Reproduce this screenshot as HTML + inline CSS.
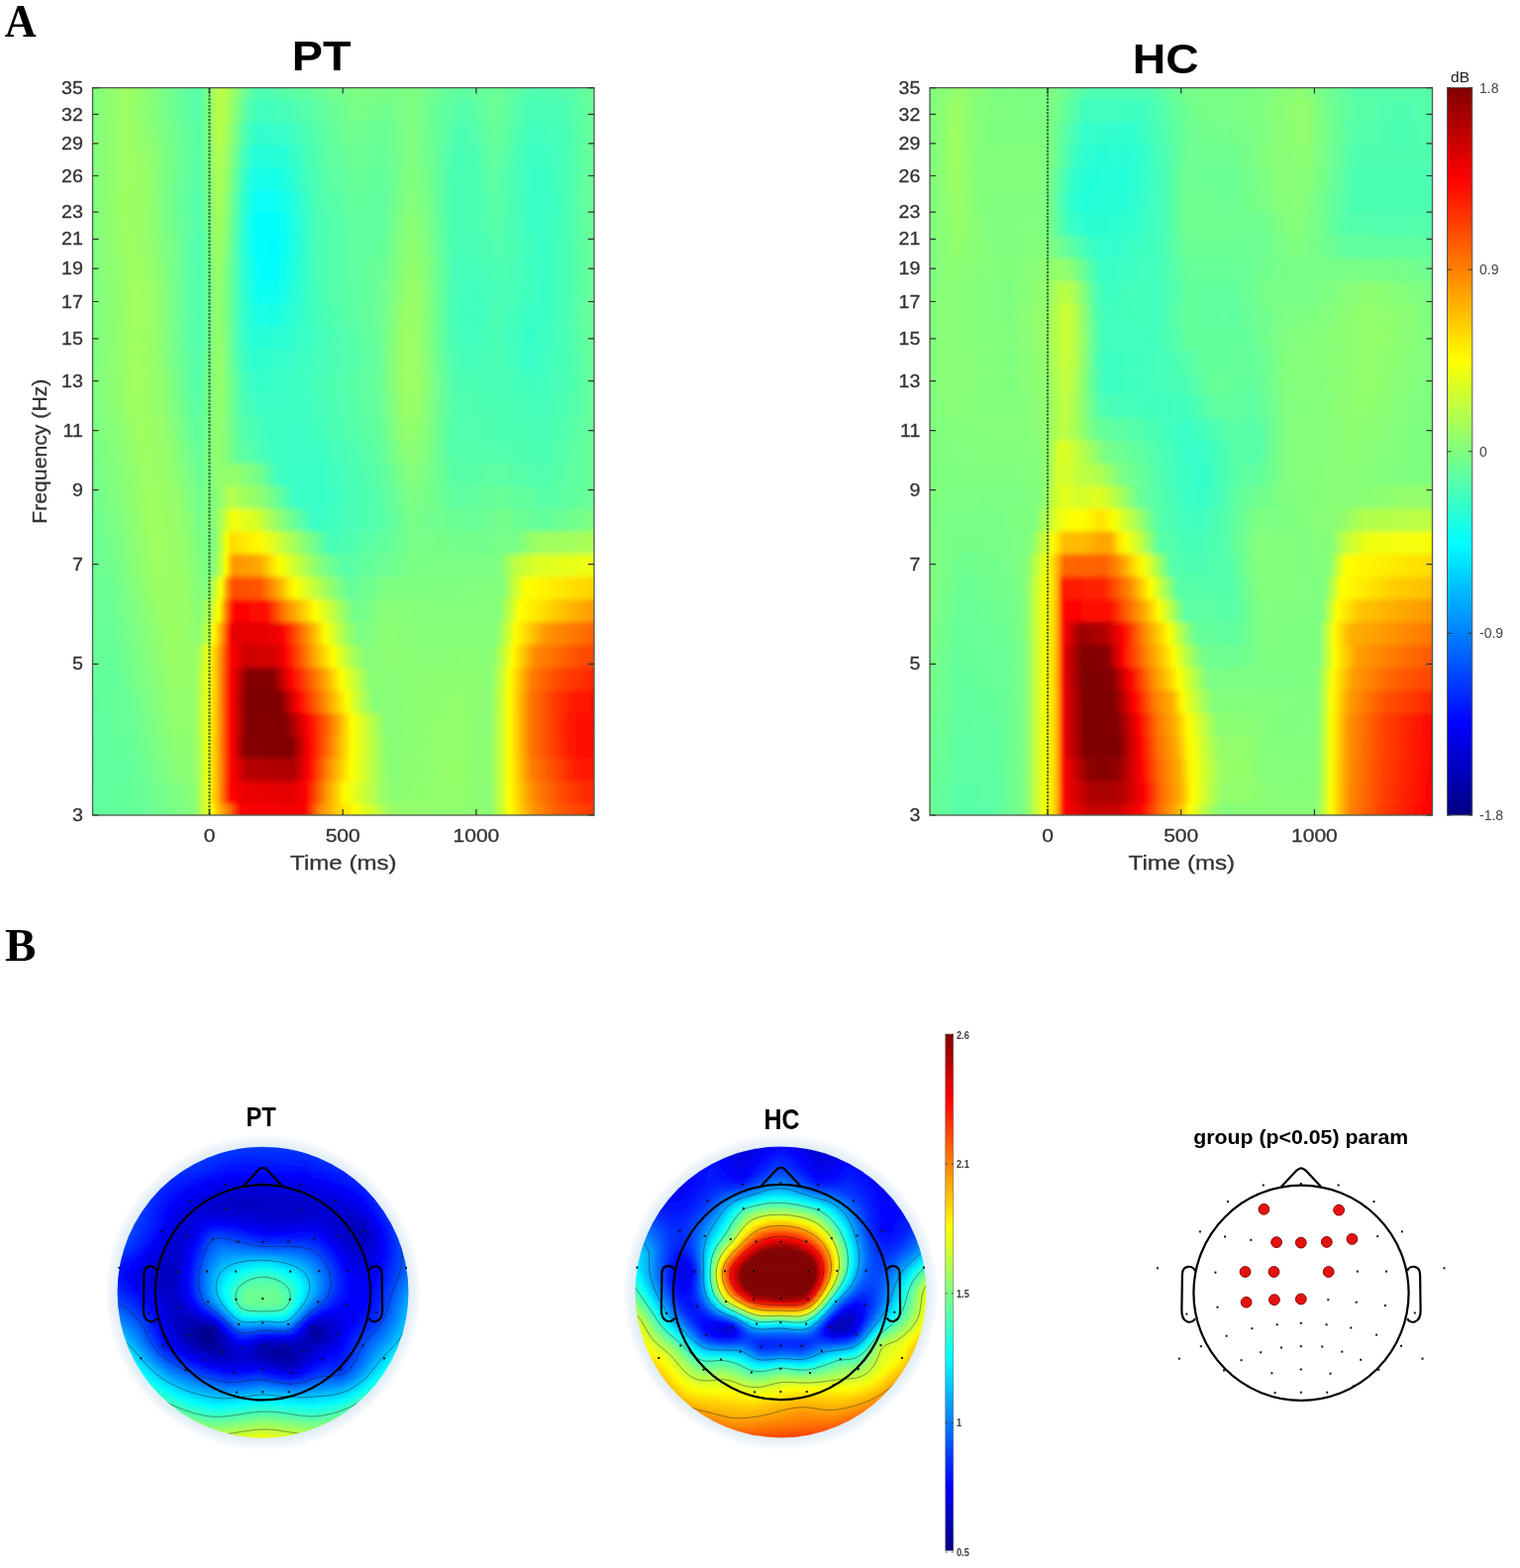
<!DOCTYPE html><html><head><meta charset="utf-8"><title>Figure</title><style>html,body{margin:0;padding:0;background:#fff}svg{display:block}</style></head><body><svg width="1535" height="1583" viewBox="0 0 1535 1583"><defs><filter id="vb" x="-2%" y="-2%" width="104%" height="104%"><feGaussianBlur stdDeviation="0.8 2.8"/></filter><filter id="tb" x="-2%" y="-2%" width="104%" height="104%"><feGaussianBlur stdDeviation="0.4 1.3"/></filter><clipPath id="c1"><rect x="93.5" y="88.6" width="506.5" height="734.4"/></clipPath><linearGradient id="g2" gradientUnits="userSpaceOnUse" x1="93.5" y1="0" x2="600" y2="0"><stop offset=".000" stop-color="#61ff9e"/><stop offset=".091" stop-color="#65ff9a"/><stop offset=".203" stop-color="#83ff7c"/><stop offset=".231" stop-color="#e8ff17"/><stop offset=".237" stop-color="#fffe00"/><stop offset=".257" stop-color="#ffaa00"/><stop offset=".272" stop-color="#ff7a00"/><stop offset=".296" stop-color="#ff0000"/><stop offset=".304" stop-color="#fa0000"/><stop offset=".421" stop-color="#fa0000"/><stop offset=".423" stop-color="#fe0000"/><stop offset=".450" stop-color="#ff8200"/><stop offset=".490" stop-color="#ffd200"/><stop offset=".523" stop-color="#fdff02"/><stop offset=".600" stop-color="#95ff6a"/><stop offset=".732" stop-color="#90ff6f"/><stop offset=".792" stop-color="#89ff76"/><stop offset=".819" stop-color="#d2ff2d"/><stop offset=".831" stop-color="#feff01"/><stop offset=".881" stop-color="#ff9000"/><stop offset=".930" stop-color="#ff5b00"/><stop offset=".993" stop-color="#ff3a00"/><stop offset=".999" stop-color="#ff3800"/></linearGradient><linearGradient id="g3" gradientUnits="userSpaceOnUse" x1="93.5" y1="0" x2="600" y2="0"><stop offset=".000" stop-color="#5effa1"/><stop offset=".089" stop-color="#65ff9a"/><stop offset=".186" stop-color="#84ff7b"/><stop offset=".203" stop-color="#89ff76"/><stop offset=".223" stop-color="#d0ff2f"/><stop offset=".233" stop-color="#fffd00"/><stop offset=".249" stop-color="#ffb300"/><stop offset=".276" stop-color="#ff0600"/><stop offset=".282" stop-color="#fb0000"/><stop offset=".312" stop-color="#ea0000"/><stop offset=".399" stop-color="#e40000"/><stop offset=".423" stop-color="#fd0000"/><stop offset=".464" stop-color="#ff8f00"/><stop offset=".503" stop-color="#fffd00"/><stop offset=".573" stop-color="#a1ff5e"/><stop offset=".594" stop-color="#8dff72"/><stop offset=".725" stop-color="#95ff6a"/><stop offset=".780" stop-color="#89ff76"/><stop offset=".794" stop-color="#8eff71"/><stop offset=".819" stop-color="#d5ff2a"/><stop offset=".831" stop-color="#fffe00"/><stop offset=".879" stop-color="#ff8800"/><stop offset=".934" stop-color="#ff4c00"/><stop offset=".973" stop-color="#ff2e00"/><stop offset=".999" stop-color="#ff2600"/></linearGradient><linearGradient id="g4" gradientUnits="userSpaceOnUse" x1="93.5" y1="0" x2="600" y2="0"><stop offset=".000" stop-color="#5cffa3"/><stop offset=".087" stop-color="#65ff9a"/><stop offset=".168" stop-color="#88ff77"/><stop offset=".203" stop-color="#8dff72"/><stop offset=".223" stop-color="#d3ff2c"/><stop offset=".231" stop-color="#faff05"/><stop offset=".243" stop-color="#ffd100"/><stop offset=".259" stop-color="#ff7800"/><stop offset=".276" stop-color="#ff0600"/><stop offset=".282" stop-color="#f30000"/><stop offset=".308" stop-color="#b80000"/><stop offset=".401" stop-color="#ae0000"/><stop offset=".430" stop-color="#ff0200"/><stop offset=".468" stop-color="#ff8600"/><stop offset=".515" stop-color="#feff01"/><stop offset=".584" stop-color="#91ff6e"/><stop offset=".596" stop-color="#89ff76"/><stop offset=".723" stop-color="#97ff68"/><stop offset=".776" stop-color="#89ff76"/><stop offset=".794" stop-color="#8fff70"/><stop offset=".821" stop-color="#ddff22"/><stop offset=".831" stop-color="#fffd00"/><stop offset=".875" stop-color="#ff8000"/><stop offset=".962" stop-color="#ff1e00"/><stop offset=".999" stop-color="#ff1200"/></linearGradient><linearGradient id="g5" gradientUnits="userSpaceOnUse" x1="93.5" y1="0" x2="600" y2="0"><stop offset=".000" stop-color="#5cffa3"/><stop offset=".085" stop-color="#67ff98"/><stop offset=".164" stop-color="#8cff73"/><stop offset=".203" stop-color="#90ff6f"/><stop offset=".223" stop-color="#d5ff2a"/><stop offset=".231" stop-color="#fbff04"/><stop offset=".247" stop-color="#ffbf00"/><stop offset=".276" stop-color="#ff0600"/><stop offset=".282" stop-color="#e80000"/><stop offset=".304" stop-color="#880000"/><stop offset=".338" stop-color="#840000"/><stop offset=".395" stop-color="#800000"/><stop offset=".432" stop-color="#ff0000"/><stop offset=".500" stop-color="#ffcc00"/><stop offset=".517" stop-color="#fffe00"/><stop offset=".567" stop-color="#a9ff56"/><stop offset=".592" stop-color="#87ff78"/><stop offset=".689" stop-color="#94ff6b"/><stop offset=".729" stop-color="#95ff6a"/><stop offset=".778" stop-color="#8aff75"/><stop offset=".794" stop-color="#8fff70"/><stop offset=".821" stop-color="#ddff22"/><stop offset=".831" stop-color="#fffd00"/><stop offset=".875" stop-color="#ff7500"/><stop offset=".956" stop-color="#ff1400"/><stop offset=".999" stop-color="#ff0700"/></linearGradient><linearGradient id="g6" gradientUnits="userSpaceOnUse" x1="93.5" y1="0" x2="600" y2="0"><stop offset=".000" stop-color="#5effa1"/><stop offset=".081" stop-color="#69ff96"/><stop offset=".162" stop-color="#91ff6e"/><stop offset=".203" stop-color="#92ff6d"/><stop offset=".223" stop-color="#d6ff29"/><stop offset=".231" stop-color="#fbff04"/><stop offset=".247" stop-color="#ffc000"/><stop offset=".276" stop-color="#ff0600"/><stop offset=".282" stop-color="#ea0000"/><stop offset=".308" stop-color="#830000"/><stop offset=".383" stop-color="#800000"/><stop offset=".430" stop-color="#ff0100"/><stop offset=".482" stop-color="#ff8b00"/><stop offset=".517" stop-color="#ffff00"/><stop offset=".569" stop-color="#a1ff5e"/><stop offset=".586" stop-color="#87ff78"/><stop offset=".685" stop-color="#91ff6e"/><stop offset=".727" stop-color="#95ff6a"/><stop offset=".782" stop-color="#8aff75"/><stop offset=".794" stop-color="#8eff71"/><stop offset=".819" stop-color="#d5ff2a"/><stop offset=".831" stop-color="#fffd00"/><stop offset=".875" stop-color="#ff7500"/><stop offset=".954" stop-color="#ff1500"/><stop offset=".999" stop-color="#ff0600"/></linearGradient><linearGradient id="g7" gradientUnits="userSpaceOnUse" x1="93.5" y1="0" x2="600" y2="0"><stop offset=".000" stop-color="#60ff9f"/><stop offset=".069" stop-color="#68ff97"/><stop offset=".162" stop-color="#95ff6a"/><stop offset=".203" stop-color="#93ff6c"/><stop offset=".223" stop-color="#d5ff2a"/><stop offset=".233" stop-color="#fffb00"/><stop offset=".247" stop-color="#ffc100"/><stop offset=".276" stop-color="#ff0600"/><stop offset=".280" stop-color="#f20000"/><stop offset=".308" stop-color="#800000"/><stop offset=".375" stop-color="#820000"/><stop offset=".409" stop-color="#ff0100"/><stop offset=".507" stop-color="#fcff03"/><stop offset=".535" stop-color="#b5ff4a"/><stop offset=".563" stop-color="#86ff79"/><stop offset=".683" stop-color="#8fff70"/><stop offset=".731" stop-color="#92ff6d"/><stop offset=".790" stop-color="#8aff75"/><stop offset=".798" stop-color="#97ff68"/><stop offset=".819" stop-color="#d3ff2c"/><stop offset=".831" stop-color="#ffff00"/><stop offset=".875" stop-color="#ff7400"/><stop offset=".922" stop-color="#ff3900"/><stop offset=".963" stop-color="#ff1800"/><stop offset=".999" stop-color="#ff1000"/></linearGradient><linearGradient id="g8" gradientUnits="userSpaceOnUse" x1="93.5" y1="0" x2="600" y2="0"><stop offset=".000" stop-color="#63ff9c"/><stop offset=".051" stop-color="#66ff99"/><stop offset=".162" stop-color="#98ff67"/><stop offset=".203" stop-color="#94ff6b"/><stop offset=".223" stop-color="#d4ff2b"/><stop offset=".233" stop-color="#fffc00"/><stop offset=".247" stop-color="#ffc200"/><stop offset=".276" stop-color="#ff0600"/><stop offset=".280" stop-color="#f30000"/><stop offset=".310" stop-color="#820000"/><stop offset=".359" stop-color="#830000"/><stop offset=".395" stop-color="#ff0000"/><stop offset=".462" stop-color="#ffa100"/><stop offset=".496" stop-color="#ffff00"/><stop offset=".541" stop-color="#a1ff5e"/><stop offset=".557" stop-color="#87ff78"/><stop offset=".616" stop-color="#8aff75"/><stop offset=".685" stop-color="#8dff72"/><stop offset=".738" stop-color="#8eff71"/><stop offset=".794" stop-color="#8bff74"/><stop offset=".819" stop-color="#d1ff2e"/><stop offset=".831" stop-color="#fdff02"/><stop offset=".875" stop-color="#ff7f00"/><stop offset=".928" stop-color="#ff4800"/><stop offset=".999" stop-color="#ff2400"/></linearGradient><linearGradient id="g9" gradientUnits="userSpaceOnUse" x1="93.5" y1="0" x2="600" y2="0"><stop offset=".000" stop-color="#65ff9a"/><stop offset=".041" stop-color="#65ff9a"/><stop offset=".158" stop-color="#9aff65"/><stop offset=".203" stop-color="#93ff6c"/><stop offset=".221" stop-color="#c9ff36"/><stop offset=".233" stop-color="#fffe00"/><stop offset=".249" stop-color="#ffb700"/><stop offset=".276" stop-color="#ff0700"/><stop offset=".280" stop-color="#fa0000"/><stop offset=".306" stop-color="#ce0000"/><stop offset=".365" stop-color="#d70000"/><stop offset=".385" stop-color="#ff0200"/><stop offset=".440" stop-color="#ffa200"/><stop offset=".480" stop-color="#feff01"/><stop offset=".515" stop-color="#aeff51"/><stop offset=".547" stop-color="#84ff7b"/><stop offset=".594" stop-color="#8dff72"/><stop offset=".671" stop-color="#88ff77"/><stop offset=".744" stop-color="#8bff74"/><stop offset=".798" stop-color="#88ff77"/><stop offset=".823" stop-color="#ceff31"/><stop offset=".837" stop-color="#fffb00"/><stop offset=".883" stop-color="#ff8900"/><stop offset=".963" stop-color="#ff5100"/><stop offset=".999" stop-color="#ff4300"/></linearGradient><linearGradient id="g10" gradientUnits="userSpaceOnUse" x1="93.5" y1="0" x2="600" y2="0"><stop offset=".000" stop-color="#68ff97"/><stop offset=".036" stop-color="#66ff99"/><stop offset=".154" stop-color="#9cff63"/><stop offset=".195" stop-color="#93ff6c"/><stop offset=".211" stop-color="#8dff72"/><stop offset=".231" stop-color="#c3ff3c"/><stop offset=".241" stop-color="#f8ff07"/><stop offset=".245" stop-color="#ffed00"/><stop offset=".263" stop-color="#ff7900"/><stop offset=".276" stop-color="#ff0000"/><stop offset=".278" stop-color="#ee0000"/><stop offset=".280" stop-color="#e50000"/><stop offset=".342" stop-color="#e60000"/><stop offset=".373" stop-color="#f30000"/><stop offset=".379" stop-color="#ff0500"/><stop offset=".438" stop-color="#ffad00"/><stop offset=".464" stop-color="#fcff03"/><stop offset=".503" stop-color="#a3ff5c"/><stop offset=".531" stop-color="#79ff86"/><stop offset=".586" stop-color="#8cff73"/><stop offset=".667" stop-color="#85ff7a"/><stop offset=".778" stop-color="#85ff7a"/><stop offset=".804" stop-color="#86ff79"/><stop offset=".829" stop-color="#ccff33"/><stop offset=".843" stop-color="#fffd00"/><stop offset=".904" stop-color="#ff9400"/><stop offset=".999" stop-color="#ff6400"/></linearGradient><linearGradient id="g11" gradientUnits="userSpaceOnUse" x1="93.5" y1="0" x2="600" y2="0"><stop offset=".000" stop-color="#6aff95"/><stop offset=".034" stop-color="#68ff97"/><stop offset=".142" stop-color="#9cff63"/><stop offset=".186" stop-color="#98ff67"/><stop offset=".217" stop-color="#87ff78"/><stop offset=".247" stop-color="#ecff13"/><stop offset=".251" stop-color="#faff05"/><stop offset=".253" stop-color="#fff700"/><stop offset=".269" stop-color="#ff6900"/><stop offset=".280" stop-color="#ff0d00"/><stop offset=".284" stop-color="#ff0400"/><stop offset=".340" stop-color="#ff0900"/><stop offset=".346" stop-color="#ff0e00"/><stop offset=".383" stop-color="#ff8000"/><stop offset=".444" stop-color="#feff01"/><stop offset=".523" stop-color="#70ff8f"/><stop offset=".586" stop-color="#88ff77"/><stop offset=".693" stop-color="#83ff7c"/><stop offset=".809" stop-color="#83ff7c"/><stop offset=".837" stop-color="#cfff30"/><stop offset=".851" stop-color="#feff01"/><stop offset=".962" stop-color="#ffb000"/><stop offset=".999" stop-color="#ff9b00"/></linearGradient><linearGradient id="g12" gradientUnits="userSpaceOnUse" x1="93.5" y1="0" x2="600" y2="0"><stop offset=".000" stop-color="#6bff94"/><stop offset=".036" stop-color="#6cff93"/><stop offset=".128" stop-color="#9bff64"/><stop offset=".178" stop-color="#9aff65"/><stop offset=".225" stop-color="#7eff81"/><stop offset=".245" stop-color="#caff35"/><stop offset=".257" stop-color="#ffff00"/><stop offset=".272" stop-color="#ff7a00"/><stop offset=".280" stop-color="#ff5200"/><stop offset=".288" stop-color="#ff4d00"/><stop offset=".334" stop-color="#ff5600"/><stop offset=".373" stop-color="#ffb100"/><stop offset=".395" stop-color="#ffef00"/><stop offset=".407" stop-color="#faff05"/><stop offset=".466" stop-color="#9eff61"/><stop offset=".511" stop-color="#64ff9b"/><stop offset=".594" stop-color="#7eff81"/><stop offset=".815" stop-color="#82ff7d"/><stop offset=".863" stop-color="#feff01"/><stop offset=".999" stop-color="#ffd300"/></linearGradient><linearGradient id="g13" gradientUnits="userSpaceOnUse" x1="93.5" y1="0" x2="600" y2="0"><stop offset=".000" stop-color="#6bff94"/><stop offset=".039" stop-color="#71ff8e"/><stop offset=".122" stop-color="#9dff62"/><stop offset=".174" stop-color="#9bff64"/><stop offset=".223" stop-color="#7bff84"/><stop offset=".241" stop-color="#85ff7a"/><stop offset=".257" stop-color="#c7ff38"/><stop offset=".265" stop-color="#f9ff06"/><stop offset=".270" stop-color="#ffe000"/><stop offset=".280" stop-color="#ff9c00"/><stop offset=".284" stop-color="#ff9500"/><stop offset=".334" stop-color="#ffa700"/><stop offset=".365" stop-color="#fff000"/><stop offset=".375" stop-color="#fcff03"/><stop offset=".446" stop-color="#8bff74"/><stop offset=".500" stop-color="#56ffa9"/><stop offset=".638" stop-color="#7aff85"/><stop offset=".784" stop-color="#7bff84"/><stop offset=".813" stop-color="#80ff7f"/><stop offset=".841" stop-color="#bbff44"/><stop offset=".886" stop-color="#dcff23"/><stop offset=".999" stop-color="#f0ff0f"/></linearGradient><linearGradient id="g14" gradientUnits="userSpaceOnUse" x1="93.5" y1="0" x2="600" y2="0"><stop offset=".000" stop-color="#6bff94"/><stop offset=".047" stop-color="#78ff87"/><stop offset=".120" stop-color="#9fff60"/><stop offset=".174" stop-color="#98ff67"/><stop offset=".219" stop-color="#78ff87"/><stop offset=".245" stop-color="#86ff79"/><stop offset=".267" stop-color="#f3ff0c"/><stop offset=".269" stop-color="#fdff02"/><stop offset=".276" stop-color="#ffdc00"/><stop offset=".336" stop-color="#fffb00"/><stop offset=".385" stop-color="#bbff44"/><stop offset=".474" stop-color="#46ffb9"/><stop offset=".588" stop-color="#64ff9b"/><stop offset=".640" stop-color="#78ff87"/><stop offset=".766" stop-color="#71ff8e"/><stop offset=".823" stop-color="#79ff86"/><stop offset=".845" stop-color="#78ff87"/><stop offset=".885" stop-color="#9eff61"/><stop offset=".979" stop-color="#a6ff59"/><stop offset=".999" stop-color="#acff53"/></linearGradient><linearGradient id="g15" gradientUnits="userSpaceOnUse" x1="93.5" y1="0" x2="600" y2="0"><stop offset=".000" stop-color="#6bff94"/><stop offset=".057" stop-color="#81ff7e"/><stop offset=".118" stop-color="#a0ff5f"/><stop offset=".172" stop-color="#96ff69"/><stop offset=".217" stop-color="#74ff8b"/><stop offset=".247" stop-color="#8fff70"/><stop offset=".276" stop-color="#ecff13"/><stop offset=".282" stop-color="#f3ff0c"/><stop offset=".328" stop-color="#d5ff2a"/><stop offset=".367" stop-color="#94ff6b"/><stop offset=".411" stop-color="#5effa1"/><stop offset=".440" stop-color="#37ffc8"/><stop offset=".580" stop-color="#58ffa7"/><stop offset=".634" stop-color="#78ff87"/><stop offset=".752" stop-color="#67ff98"/><stop offset=".817" stop-color="#73ff8c"/><stop offset=".898" stop-color="#62ff9d"/><stop offset=".983" stop-color="#77ff88"/><stop offset=".999" stop-color="#7eff81"/></linearGradient><linearGradient id="g16" gradientUnits="userSpaceOnUse" x1="93.5" y1="0" x2="600" y2="0"><stop offset=".000" stop-color="#6eff91"/><stop offset=".057" stop-color="#85ff7a"/><stop offset=".116" stop-color="#a0ff5f"/><stop offset=".170" stop-color="#93ff6c"/><stop offset=".215" stop-color="#70ff8f"/><stop offset=".235" stop-color="#83ff7c"/><stop offset=".251" stop-color="#8fff70"/><stop offset=".259" stop-color="#99ff66"/><stop offset=".276" stop-color="#b5ff4a"/><stop offset=".344" stop-color="#86ff79"/><stop offset=".407" stop-color="#37ffc8"/><stop offset=".470" stop-color="#3affc5"/><stop offset=".578" stop-color="#58ffa7"/><stop offset=".630" stop-color="#7cff83"/><stop offset=".671" stop-color="#74ff8b"/><stop offset=".731" stop-color="#5effa1"/><stop offset=".817" stop-color="#68ff97"/><stop offset=".906" stop-color="#57ffa8"/><stop offset=".995" stop-color="#67ff98"/><stop offset=".999" stop-color="#69ff96"/></linearGradient><linearGradient id="g17" gradientUnits="userSpaceOnUse" x1="93.5" y1="0" x2="600" y2="0"><stop offset=".000" stop-color="#72ff8d"/><stop offset=".051" stop-color="#85ff7a"/><stop offset=".111" stop-color="#9eff61"/><stop offset=".160" stop-color="#93ff6c"/><stop offset=".213" stop-color="#6bff94"/><stop offset=".229" stop-color="#7aff85"/><stop offset=".247" stop-color="#93ff6c"/><stop offset=".286" stop-color="#93ff6c"/><stop offset=".336" stop-color="#71ff8e"/><stop offset=".371" stop-color="#3cffc3"/><stop offset=".450" stop-color="#37ffc8"/><stop offset=".573" stop-color="#59ffa6"/><stop offset=".628" stop-color="#83ff7c"/><stop offset=".663" stop-color="#7cff83"/><stop offset=".721" stop-color="#58ffa7"/><stop offset=".817" stop-color="#5cffa3"/><stop offset=".896" stop-color="#50ffaf"/><stop offset=".987" stop-color="#65ff9a"/><stop offset=".999" stop-color="#6aff95"/></linearGradient><linearGradient id="g18" gradientUnits="userSpaceOnUse" x1="93.5" y1="0" x2="600" y2="0"><stop offset=".000" stop-color="#76ff89"/><stop offset=".043" stop-color="#84ff7b"/><stop offset=".101" stop-color="#9dff62"/><stop offset=".148" stop-color="#95ff6a"/><stop offset=".211" stop-color="#65ff9a"/><stop offset=".225" stop-color="#72ff8d"/><stop offset=".245" stop-color="#94ff6b"/><stop offset=".259" stop-color="#8dff72"/><stop offset=".290" stop-color="#62ff9d"/><stop offset=".361" stop-color="#3cffc3"/><stop offset=".448" stop-color="#3affc5"/><stop offset=".567" stop-color="#5cffa3"/><stop offset=".628" stop-color="#8cff73"/><stop offset=".659" stop-color="#84ff7b"/><stop offset=".719" stop-color="#54ffab"/><stop offset=".817" stop-color="#52ffad"/><stop offset=".894" stop-color="#4bffb4"/><stop offset=".981" stop-color="#62ff9d"/><stop offset=".999" stop-color="#6bff94"/></linearGradient><linearGradient id="g19" gradientUnits="userSpaceOnUse" x1="93.5" y1="0" x2="600" y2="0"><stop offset=".000" stop-color="#7bff84"/><stop offset=".038" stop-color="#85ff7a"/><stop offset=".091" stop-color="#9eff61"/><stop offset=".142" stop-color="#95ff6a"/><stop offset=".207" stop-color="#60ff9f"/><stop offset=".223" stop-color="#6cff93"/><stop offset=".245" stop-color="#94ff6b"/><stop offset=".259" stop-color="#8eff71"/><stop offset=".294" stop-color="#5affa5"/><stop offset=".342" stop-color="#3fffc0"/><stop offset=".417" stop-color="#3affc5"/><stop offset=".565" stop-color="#5fffa0"/><stop offset=".626" stop-color="#95ff6a"/><stop offset=".655" stop-color="#8dff72"/><stop offset=".717" stop-color="#55ffaa"/><stop offset=".898" stop-color="#47ffb8"/><stop offset=".975" stop-color="#5cffa3"/><stop offset=".999" stop-color="#6bff94"/></linearGradient><linearGradient id="g20" gradientUnits="userSpaceOnUse" x1="93.5" y1="0" x2="600" y2="0"><stop offset=".000" stop-color="#7eff81"/><stop offset=".036" stop-color="#88ff77"/><stop offset=".085" stop-color="#a0ff5f"/><stop offset=".138" stop-color="#94ff6b"/><stop offset=".205" stop-color="#5affa5"/><stop offset=".221" stop-color="#64ff9b"/><stop offset=".245" stop-color="#93ff6c"/><stop offset=".259" stop-color="#8fff70"/><stop offset=".300" stop-color="#4effb1"/><stop offset=".334" stop-color="#3bffc4"/><stop offset=".415" stop-color="#3cffc3"/><stop offset=".567" stop-color="#63ff9c"/><stop offset=".624" stop-color="#9bff64"/><stop offset=".650" stop-color="#96ff69"/><stop offset=".719" stop-color="#54ffab"/><stop offset=".782" stop-color="#4effb1"/><stop offset=".896" stop-color="#44ffbb"/><stop offset=".967" stop-color="#55ffaa"/><stop offset=".999" stop-color="#6aff95"/></linearGradient><linearGradient id="g21" gradientUnits="userSpaceOnUse" x1="93.5" y1="0" x2="600" y2="0"><stop offset=".000" stop-color="#80ff7f"/><stop offset=".038" stop-color="#8bff74"/><stop offset=".085" stop-color="#a2ff5d"/><stop offset=".132" stop-color="#95ff6a"/><stop offset=".205" stop-color="#55ffaa"/><stop offset=".219" stop-color="#5dffa2"/><stop offset=".245" stop-color="#93ff6c"/><stop offset=".257" stop-color="#92ff6d"/><stop offset=".302" stop-color="#44ffbb"/><stop offset=".330" stop-color="#35ffca"/><stop offset=".419" stop-color="#3effc1"/><stop offset=".567" stop-color="#64ff9b"/><stop offset=".624" stop-color="#a0ff5f"/><stop offset=".650" stop-color="#99ff66"/><stop offset=".719" stop-color="#52ffad"/><stop offset=".764" stop-color="#4affb5"/><stop offset=".823" stop-color="#48ffb7"/><stop offset=".886" stop-color="#3effc1"/><stop offset=".963" stop-color="#51ffae"/><stop offset=".999" stop-color="#6aff95"/></linearGradient><linearGradient id="g22" gradientUnits="userSpaceOnUse" x1="93.5" y1="0" x2="600" y2="0"><stop offset=".000" stop-color="#80ff7f"/><stop offset=".039" stop-color="#8dff72"/><stop offset=".087" stop-color="#a2ff5d"/><stop offset=".126" stop-color="#95ff6a"/><stop offset=".209" stop-color="#52ffad"/><stop offset=".223" stop-color="#60ff9f"/><stop offset=".245" stop-color="#93ff6c"/><stop offset=".257" stop-color="#91ff6e"/><stop offset=".298" stop-color="#41ffbe"/><stop offset=".322" stop-color="#2effd1"/><stop offset=".409" stop-color="#3affc5"/><stop offset=".565" stop-color="#62ff9d"/><stop offset=".624" stop-color="#a0ff5f"/><stop offset=".650" stop-color="#99ff66"/><stop offset=".719" stop-color="#4dffb2"/><stop offset=".758" stop-color="#45ffba"/><stop offset=".811" stop-color="#4bffb4"/><stop offset=".873" stop-color="#37ffc8"/><stop offset=".952" stop-color="#4cffb3"/><stop offset=".999" stop-color="#6aff95"/></linearGradient><linearGradient id="g23" gradientUnits="userSpaceOnUse" x1="93.5" y1="0" x2="600" y2="0"><stop offset=".000" stop-color="#7fff80"/><stop offset=".039" stop-color="#8cff73"/><stop offset=".089" stop-color="#a2ff5d"/><stop offset=".122" stop-color="#97ff68"/><stop offset=".199" stop-color="#57ffa8"/><stop offset=".215" stop-color="#51ffae"/><stop offset=".227" stop-color="#67ff98"/><stop offset=".245" stop-color="#93ff6c"/><stop offset=".257" stop-color="#90ff6f"/><stop offset=".296" stop-color="#3effc1"/><stop offset=".322" stop-color="#26ffd9"/><stop offset=".379" stop-color="#2bffd4"/><stop offset=".470" stop-color="#49ffb6"/><stop offset=".569" stop-color="#65ff9a"/><stop offset=".624" stop-color="#9eff61"/><stop offset=".650" stop-color="#98ff67"/><stop offset=".721" stop-color="#47ffb8"/><stop offset=".756" stop-color="#41ffbe"/><stop offset=".809" stop-color="#4bffb4"/><stop offset=".873" stop-color="#34ffcb"/><stop offset=".938" stop-color="#46ffb9"/><stop offset=".999" stop-color="#6aff95"/></linearGradient><linearGradient id="g24" gradientUnits="userSpaceOnUse" x1="93.5" y1="0" x2="600" y2="0"><stop offset=".000" stop-color="#7fff80"/><stop offset=".038" stop-color="#89ff76"/><stop offset=".091" stop-color="#a3ff5c"/><stop offset=".124" stop-color="#96ff69"/><stop offset=".197" stop-color="#59ffa6"/><stop offset=".213" stop-color="#50ffaf"/><stop offset=".225" stop-color="#61ff9e"/><stop offset=".245" stop-color="#92ff6d"/><stop offset=".257" stop-color="#8fff70"/><stop offset=".298" stop-color="#38ffc7"/><stop offset=".326" stop-color="#1bffe4"/><stop offset=".361" stop-color="#19ffe6"/><stop offset=".462" stop-color="#4bffb4"/><stop offset=".573" stop-color="#6aff95"/><stop offset=".626" stop-color="#9aff65"/><stop offset=".654" stop-color="#94ff6b"/><stop offset=".721" stop-color="#46ffb9"/><stop offset=".756" stop-color="#3fffc0"/><stop offset=".811" stop-color="#4bffb4"/><stop offset=".885" stop-color="#36ffc9"/><stop offset=".940" stop-color="#47ffb8"/><stop offset=".999" stop-color="#6bff94"/></linearGradient><linearGradient id="g25" gradientUnits="userSpaceOnUse" x1="93.5" y1="0" x2="600" y2="0"><stop offset=".000" stop-color="#7fff80"/><stop offset=".038" stop-color="#8aff75"/><stop offset=".089" stop-color="#a3ff5c"/><stop offset=".122" stop-color="#98ff67"/><stop offset=".199" stop-color="#57ffa8"/><stop offset=".215" stop-color="#51ffae"/><stop offset=".227" stop-color="#66ff99"/><stop offset=".245" stop-color="#92ff6d"/><stop offset=".257" stop-color="#90ff6f"/><stop offset=".302" stop-color="#2fffd0"/><stop offset=".332" stop-color="#0dfff2"/><stop offset=".361" stop-color="#0afff5"/><stop offset=".456" stop-color="#4cffb3"/><stop offset=".549" stop-color="#62ff9d"/><stop offset=".584" stop-color="#72ff8d"/><stop offset=".630" stop-color="#97ff68"/><stop offset=".657" stop-color="#90ff6f"/><stop offset=".721" stop-color="#47ffb8"/><stop offset=".756" stop-color="#40ffbf"/><stop offset=".817" stop-color="#4bffb4"/><stop offset=".900" stop-color="#38ffc7"/><stop offset=".956" stop-color="#50ffaf"/><stop offset=".999" stop-color="#6bff94"/></linearGradient><linearGradient id="g26" gradientUnits="userSpaceOnUse" x1="93.5" y1="0" x2="600" y2="0"><stop offset=".000" stop-color="#80ff7f"/><stop offset=".089" stop-color="#a1ff5e"/><stop offset=".124" stop-color="#92ff6d"/><stop offset=".195" stop-color="#5bffa4"/><stop offset=".213" stop-color="#4fffb0"/><stop offset=".225" stop-color="#61ff9e"/><stop offset=".245" stop-color="#95ff6a"/><stop offset=".255" stop-color="#96ff69"/><stop offset=".272" stop-color="#70ff8f"/><stop offset=".306" stop-color="#24ffdb"/><stop offset=".334" stop-color="#02fffd"/><stop offset=".369" stop-color="#04fffb"/><stop offset=".450" stop-color="#4affb5"/><stop offset=".535" stop-color="#62ff9d"/><stop offset=".578" stop-color="#6aff95"/><stop offset=".630" stop-color="#92ff6d"/><stop offset=".659" stop-color="#8bff74"/><stop offset=".721" stop-color="#48ffb7"/><stop offset=".758" stop-color="#44ffbb"/><stop offset=".817" stop-color="#4effb1"/><stop offset=".902" stop-color="#39ffc6"/><stop offset=".958" stop-color="#51ffae"/><stop offset=".999" stop-color="#6bff94"/></linearGradient><linearGradient id="g27" gradientUnits="userSpaceOnUse" x1="93.5" y1="0" x2="600" y2="0"><stop offset=".000" stop-color="#80ff7f"/><stop offset=".077" stop-color="#9fff60"/><stop offset=".116" stop-color="#93ff6c"/><stop offset=".168" stop-color="#70ff8f"/><stop offset=".197" stop-color="#59ffa6"/><stop offset=".213" stop-color="#4fffb0"/><stop offset=".225" stop-color="#62ff9d"/><stop offset=".245" stop-color="#9aff65"/><stop offset=".255" stop-color="#9cff63"/><stop offset=".270" stop-color="#7bff84"/><stop offset=".304" stop-color="#24ffdb"/><stop offset=".328" stop-color="#02fffd"/><stop offset=".359" stop-color="#00fbff"/><stop offset=".381" stop-color="#09fff6"/><stop offset=".446" stop-color="#48ffb7"/><stop offset=".531" stop-color="#61ff9e"/><stop offset=".577" stop-color="#64ff9b"/><stop offset=".630" stop-color="#8eff71"/><stop offset=".659" stop-color="#87ff78"/><stop offset=".719" stop-color="#4affb5"/><stop offset=".756" stop-color="#48ffb7"/><stop offset=".811" stop-color="#53ffac"/><stop offset=".894" stop-color="#38ffc7"/><stop offset=".946" stop-color="#49ffb6"/><stop offset=".999" stop-color="#6bff94"/></linearGradient><linearGradient id="g28" gradientUnits="userSpaceOnUse" x1="93.5" y1="0" x2="600" y2="0"><stop offset=".000" stop-color="#80ff7f"/><stop offset=".063" stop-color="#9dff62"/><stop offset=".107" stop-color="#96ff69"/><stop offset=".162" stop-color="#70ff8f"/><stop offset=".193" stop-color="#5effa1"/><stop offset=".213" stop-color="#50ffaf"/><stop offset=".225" stop-color="#64ff9b"/><stop offset=".245" stop-color="#9eff61"/><stop offset=".255" stop-color="#a1ff5e"/><stop offset=".270" stop-color="#80ff7f"/><stop offset=".306" stop-color="#20ffdf"/><stop offset=".328" stop-color="#03fffc"/><stop offset=".371" stop-color="#04fffb"/><stop offset=".450" stop-color="#4bffb4"/><stop offset=".531" stop-color="#61ff9e"/><stop offset=".577" stop-color="#60ff9f"/><stop offset=".630" stop-color="#8aff75"/><stop offset=".659" stop-color="#81ff7e"/><stop offset=".719" stop-color="#4affb5"/><stop offset=".756" stop-color="#4affb5"/><stop offset=".806" stop-color="#58ffa7"/><stop offset=".885" stop-color="#37ffc8"/><stop offset=".934" stop-color="#43ffbc"/><stop offset=".999" stop-color="#6bff94"/></linearGradient><linearGradient id="g29" gradientUnits="userSpaceOnUse" x1="93.5" y1="0" x2="600" y2="0"><stop offset=".000" stop-color="#80ff7f"/><stop offset=".059" stop-color="#9cff63"/><stop offset=".105" stop-color="#98ff67"/><stop offset=".164" stop-color="#6eff91"/><stop offset=".197" stop-color="#5affa5"/><stop offset=".213" stop-color="#53ffac"/><stop offset=".225" stop-color="#68ff97"/><stop offset=".245" stop-color="#a2ff5d"/><stop offset=".255" stop-color="#a5ff5a"/><stop offset=".270" stop-color="#87ff78"/><stop offset=".306" stop-color="#25ffda"/><stop offset=".326" stop-color="#0bfff4"/><stop offset=".363" stop-color="#08fff7"/><stop offset=".401" stop-color="#21ffde"/><stop offset=".448" stop-color="#4dffb2"/><stop offset=".529" stop-color="#64ff9b"/><stop offset=".577" stop-color="#5fffa0"/><stop offset=".632" stop-color="#86ff79"/><stop offset=".663" stop-color="#7aff85"/><stop offset=".719" stop-color="#49ffb6"/><stop offset=".756" stop-color="#4affb5"/><stop offset=".806" stop-color="#5bffa4"/><stop offset=".879" stop-color="#37ffc8"/><stop offset=".926" stop-color="#3fffc0"/><stop offset=".999" stop-color="#6bff94"/></linearGradient><linearGradient id="g30" gradientUnits="userSpaceOnUse" x1="93.5" y1="0" x2="600" y2="0"><stop offset=".000" stop-color="#80ff7f"/><stop offset=".065" stop-color="#9dff62"/><stop offset=".107" stop-color="#97ff68"/><stop offset=".168" stop-color="#6dff92"/><stop offset=".211" stop-color="#56ffa9"/><stop offset=".223" stop-color="#66ff99"/><stop offset=".245" stop-color="#a5ff5a"/><stop offset=".257" stop-color="#a8ff57"/><stop offset=".272" stop-color="#89ff76"/><stop offset=".306" stop-color="#2effd1"/><stop offset=".326" stop-color="#17ffe8"/><stop offset=".375" stop-color="#18ffe7"/><stop offset=".421" stop-color="#3cffc3"/><stop offset=".462" stop-color="#57ffa8"/><stop offset=".531" stop-color="#68ff97"/><stop offset=".577" stop-color="#60ff9f"/><stop offset=".632" stop-color="#82ff7d"/><stop offset=".665" stop-color="#75ff8a"/><stop offset=".723" stop-color="#48ffb7"/><stop offset=".760" stop-color="#4bffb4"/><stop offset=".804" stop-color="#5fffa0"/><stop offset=".847" stop-color="#45ffba"/><stop offset=".888" stop-color="#36ffc9"/><stop offset=".942" stop-color="#48ffb7"/><stop offset=".999" stop-color="#6bff94"/></linearGradient><linearGradient id="g31" gradientUnits="userSpaceOnUse" x1="93.5" y1="0" x2="600" y2="0"><stop offset=".000" stop-color="#80ff7f"/><stop offset=".067" stop-color="#9eff61"/><stop offset=".109" stop-color="#94ff6b"/><stop offset=".178" stop-color="#69ff96"/><stop offset=".211" stop-color="#57ffa8"/><stop offset=".223" stop-color="#69ff96"/><stop offset=".245" stop-color="#a9ff56"/><stop offset=".257" stop-color="#aeff51"/><stop offset=".272" stop-color="#91ff6e"/><stop offset=".306" stop-color="#3affc5"/><stop offset=".326" stop-color="#24ffdb"/><stop offset=".379" stop-color="#27ffd8"/><stop offset=".464" stop-color="#5bffa4"/><stop offset=".529" stop-color="#6dff92"/><stop offset=".578" stop-color="#64ff9b"/><stop offset=".634" stop-color="#80ff7f"/><stop offset=".671" stop-color="#70ff8f"/><stop offset=".725" stop-color="#49ffb6"/><stop offset=".760" stop-color="#4cffb3"/><stop offset=".804" stop-color="#64ff9b"/><stop offset=".839" stop-color="#4effb1"/><stop offset=".879" stop-color="#39ffc6"/><stop offset=".934" stop-color="#44ffbb"/><stop offset=".999" stop-color="#6aff95"/></linearGradient><linearGradient id="g32" gradientUnits="userSpaceOnUse" x1="93.5" y1="0" x2="600" y2="0"><stop offset=".000" stop-color="#80ff7f"/><stop offset=".067" stop-color="#9eff61"/><stop offset=".111" stop-color="#8dff72"/><stop offset=".211" stop-color="#56ffa9"/><stop offset=".223" stop-color="#69ff96"/><stop offset=".245" stop-color="#aeff51"/><stop offset=".257" stop-color="#b5ff4a"/><stop offset=".272" stop-color="#9bff64"/><stop offset=".308" stop-color="#45ffba"/><stop offset=".330" stop-color="#31ffce"/><stop offset=".385" stop-color="#38ffc7"/><stop offset=".505" stop-color="#6fff90"/><stop offset=".545" stop-color="#6dff92"/><stop offset=".582" stop-color="#69ff96"/><stop offset=".634" stop-color="#80ff7f"/><stop offset=".677" stop-color="#6cff93"/><stop offset=".729" stop-color="#4dffb2"/><stop offset=".764" stop-color="#53ffac"/><stop offset=".804" stop-color="#69ff96"/><stop offset=".839" stop-color="#53ffac"/><stop offset=".877" stop-color="#3fffc0"/><stop offset=".942" stop-color="#48ffb7"/><stop offset=".999" stop-color="#6aff95"/></linearGradient><linearGradient id="g33" gradientUnits="userSpaceOnUse" x1="93.5" y1="0" x2="600" y2="0"><stop offset=".000" stop-color="#80ff7f"/><stop offset=".065" stop-color="#9eff61"/><stop offset=".105" stop-color="#8dff72"/><stop offset=".193" stop-color="#5effa1"/><stop offset=".211" stop-color="#55ffaa"/><stop offset=".223" stop-color="#68ff97"/><stop offset=".245" stop-color="#b1ff4e"/><stop offset=".257" stop-color="#bbff44"/><stop offset=".272" stop-color="#a3ff5c"/><stop offset=".308" stop-color="#54ffab"/><stop offset=".332" stop-color="#3fffc0"/><stop offset=".387" stop-color="#47ffb8"/><stop offset=".525" stop-color="#78ff87"/><stop offset=".582" stop-color="#6fff90"/><stop offset=".636" stop-color="#80ff7f"/><stop offset=".703" stop-color="#5effa1"/><stop offset=".746" stop-color="#54ffab"/><stop offset=".806" stop-color="#6cff93"/><stop offset=".875" stop-color="#46ffb9"/><stop offset=".946" stop-color="#4cffb3"/><stop offset=".999" stop-color="#6aff95"/></linearGradient><linearGradient id="g34" gradientUnits="userSpaceOnUse" x1="93.5" y1="0" x2="600" y2="0"><stop offset=".000" stop-color="#80ff7f"/><stop offset=".065" stop-color="#9eff61"/><stop offset=".105" stop-color="#8eff71"/><stop offset=".195" stop-color="#5cffa3"/><stop offset=".213" stop-color="#57ffa8"/><stop offset=".225" stop-color="#6eff91"/><stop offset=".245" stop-color="#b0ff4f"/><stop offset=".257" stop-color="#bcff43"/><stop offset=".272" stop-color="#aaff55"/><stop offset=".312" stop-color="#5cffa3"/><stop offset=".338" stop-color="#4cffb3"/><stop offset=".464" stop-color="#6bff94"/><stop offset=".525" stop-color="#7fff80"/><stop offset=".588" stop-color="#77ff88"/><stop offset=".640" stop-color="#7eff81"/><stop offset=".732" stop-color="#5dffa2"/><stop offset=".811" stop-color="#6aff95"/><stop offset=".886" stop-color="#4dffb2"/><stop offset=".954" stop-color="#57ffa8"/><stop offset=".999" stop-color="#6bff94"/></linearGradient><clipPath id="c35"><rect x="939" y="88.6" width="507.5" height="734.4"/></clipPath><linearGradient id="g36" gradientUnits="userSpaceOnUse" x1="939" y1="0" x2="1446.5" y2="0"><stop offset=".000" stop-color="#6bff94"/><stop offset=".059" stop-color="#56ffa9"/><stop offset=".132" stop-color="#5bffa4"/><stop offset=".187" stop-color="#7bff84"/><stop offset=".231" stop-color="#ffff00"/><stop offset=".246" stop-color="#ffdc00"/><stop offset=".256" stop-color="#ff9e00"/><stop offset=".266" stop-color="#ff1900"/><stop offset=".268" stop-color="#ff0500"/><stop offset=".288" stop-color="#ec0000"/><stop offset=".319" stop-color="#c70000"/><stop offset=".370" stop-color="#cb0000"/><stop offset=".418" stop-color="#ff0100"/><stop offset=".455" stop-color="#ff6800"/><stop offset=".497" stop-color="#ffb900"/><stop offset=".516" stop-color="#ffff00"/><stop offset=".550" stop-color="#b1ff4e"/><stop offset=".579" stop-color="#85ff7a"/><stop offset=".666" stop-color="#89ff76"/><stop offset=".770" stop-color="#8aff75"/><stop offset=".792" stop-color="#e3ff1c"/><stop offset=".798" stop-color="#fffe00"/><stop offset=".835" stop-color="#ff8700"/><stop offset=".900" stop-color="#ff3d00"/><stop offset=".989" stop-color="#ff0000"/><stop offset=".999" stop-color="#fb0000"/></linearGradient><linearGradient id="g37" gradientUnits="userSpaceOnUse" x1="939" y1="0" x2="1446.5" y2="0"><stop offset=".000" stop-color="#6bff94"/><stop offset=".065" stop-color="#58ffa7"/><stop offset=".136" stop-color="#5dffa2"/><stop offset=".187" stop-color="#7bff84"/><stop offset=".231" stop-color="#feff01"/><stop offset=".246" stop-color="#ffdd00"/><stop offset=".256" stop-color="#ffa100"/><stop offset=".268" stop-color="#fe0000"/><stop offset=".309" stop-color="#be0000"/><stop offset=".321" stop-color="#ac0000"/><stop offset=".353" stop-color="#ab0000"/><stop offset=".386" stop-color="#b80000"/><stop offset=".426" stop-color="#ff0400"/><stop offset=".461" stop-color="#ff6c00"/><stop offset=".500" stop-color="#ffb100"/><stop offset=".520" stop-color="#fff600"/><stop offset=".526" stop-color="#fbff04"/><stop offset=".558" stop-color="#b9ff46"/><stop offset=".585" stop-color="#93ff6c"/><stop offset=".627" stop-color="#92ff6d"/><stop offset=".688" stop-color="#86ff79"/><stop offset=".770" stop-color="#87ff78"/><stop offset=".792" stop-color="#e2ff1d"/><stop offset=".798" stop-color="#ffff00"/><stop offset=".835" stop-color="#ff8a00"/><stop offset=".902" stop-color="#ff3f00"/><stop offset=".993" stop-color="#ff0200"/><stop offset=".999" stop-color="#fe0000"/></linearGradient><linearGradient id="g38" gradientUnits="userSpaceOnUse" x1="939" y1="0" x2="1446.5" y2="0"><stop offset=".000" stop-color="#6dff92"/><stop offset=".067" stop-color="#5affa5"/><stop offset=".140" stop-color="#60ff9f"/><stop offset=".187" stop-color="#7bff84"/><stop offset=".231" stop-color="#feff01"/><stop offset=".246" stop-color="#ffde00"/><stop offset=".256" stop-color="#ffa200"/><stop offset=".268" stop-color="#ff0000"/><stop offset=".303" stop-color="#ad0000"/><stop offset=".315" stop-color="#8f0000"/><stop offset=".345" stop-color="#860000"/><stop offset=".376" stop-color="#940000"/><stop offset=".420" stop-color="#ff0300"/><stop offset=".457" stop-color="#ff6b00"/><stop offset=".497" stop-color="#ffae00"/><stop offset=".516" stop-color="#fff100"/><stop offset=".526" stop-color="#f9ff06"/><stop offset=".564" stop-color="#b4ff4b"/><stop offset=".585" stop-color="#98ff67"/><stop offset=".623" stop-color="#95ff6a"/><stop offset=".676" stop-color="#83ff7c"/><stop offset=".770" stop-color="#85ff7a"/><stop offset=".792" stop-color="#e0ff1f"/><stop offset=".798" stop-color="#fdff02"/><stop offset=".835" stop-color="#ff8d00"/><stop offset=".902" stop-color="#ff4100"/><stop offset=".995" stop-color="#ff0400"/><stop offset=".999" stop-color="#ff0200"/></linearGradient><linearGradient id="g39" gradientUnits="userSpaceOnUse" x1="939" y1="0" x2="1446.5" y2="0"><stop offset=".000" stop-color="#6fff90"/><stop offset=".067" stop-color="#5cffa3"/><stop offset=".144" stop-color="#62ff9d"/><stop offset=".187" stop-color="#7bff84"/><stop offset=".231" stop-color="#feff01"/><stop offset=".246" stop-color="#ffde00"/><stop offset=".256" stop-color="#ffa100"/><stop offset=".266" stop-color="#ff1e00"/><stop offset=".268" stop-color="#ea0000"/><stop offset=".305" stop-color="#8b0000"/><stop offset=".311" stop-color="#800000"/><stop offset=".376" stop-color="#800000"/><stop offset=".418" stop-color="#ff0000"/><stop offset=".453" stop-color="#ff6c00"/><stop offset=".493" stop-color="#ffaf00"/><stop offset=".512" stop-color="#fff100"/><stop offset=".522" stop-color="#f9ff06"/><stop offset=".573" stop-color="#9aff65"/><stop offset=".581" stop-color="#95ff6a"/><stop offset=".621" stop-color="#93ff6c"/><stop offset=".678" stop-color="#81ff7e"/><stop offset=".770" stop-color="#83ff7c"/><stop offset=".792" stop-color="#deff21"/><stop offset=".800" stop-color="#fffa00"/><stop offset=".835" stop-color="#ff8f00"/><stop offset=".902" stop-color="#ff4300"/><stop offset=".995" stop-color="#ff0600"/><stop offset=".999" stop-color="#ff0400"/></linearGradient><linearGradient id="g40" gradientUnits="userSpaceOnUse" x1="939" y1="0" x2="1446.5" y2="0"><stop offset=".000" stop-color="#71ff8e"/><stop offset=".065" stop-color="#5effa1"/><stop offset=".148" stop-color="#64ff9b"/><stop offset=".187" stop-color="#7bff84"/><stop offset=".231" stop-color="#feff01"/><stop offset=".246" stop-color="#ffdd00"/><stop offset=".256" stop-color="#ffa000"/><stop offset=".266" stop-color="#ff1c00"/><stop offset=".268" stop-color="#e90000"/><stop offset=".309" stop-color="#800000"/><stop offset=".372" stop-color="#800000"/><stop offset=".416" stop-color="#ff0400"/><stop offset=".453" stop-color="#ff7600"/><stop offset=".489" stop-color="#ffb200"/><stop offset=".512" stop-color="#fff900"/><stop offset=".524" stop-color="#ecff13"/><stop offset=".573" stop-color="#8cff73"/><stop offset=".625" stop-color="#8bff74"/><stop offset=".692" stop-color="#80ff7f"/><stop offset=".770" stop-color="#81ff7e"/><stop offset=".792" stop-color="#dcff23"/><stop offset=".800" stop-color="#fffc00"/><stop offset=".835" stop-color="#ff9000"/><stop offset=".902" stop-color="#ff4400"/><stop offset=".993" stop-color="#ff0800"/><stop offset=".999" stop-color="#ff0500"/></linearGradient><linearGradient id="g41" gradientUnits="userSpaceOnUse" x1="939" y1="0" x2="1446.5" y2="0"><stop offset=".000" stop-color="#74ff8b"/><stop offset=".061" stop-color="#60ff9f"/><stop offset=".150" stop-color="#66ff99"/><stop offset=".187" stop-color="#7bff84"/><stop offset=".231" stop-color="#ffff00"/><stop offset=".246" stop-color="#ffdc00"/><stop offset=".256" stop-color="#ff9f00"/><stop offset=".266" stop-color="#ff1a00"/><stop offset=".268" stop-color="#e60000"/><stop offset=".309" stop-color="#800000"/><stop offset=".365" stop-color="#800000"/><stop offset=".406" stop-color="#fe0000"/><stop offset=".445" stop-color="#ff7800"/><stop offset=".483" stop-color="#ffb100"/><stop offset=".502" stop-color="#fffc00"/><stop offset=".542" stop-color="#aaff55"/><stop offset=".566" stop-color="#83ff7c"/><stop offset=".770" stop-color="#80ff7f"/><stop offset=".792" stop-color="#daff25"/><stop offset=".800" stop-color="#fffe00"/><stop offset=".835" stop-color="#ff9c00"/><stop offset=".904" stop-color="#ff5300"/><stop offset=".999" stop-color="#ff2400"/></linearGradient><linearGradient id="g42" gradientUnits="userSpaceOnUse" x1="939" y1="0" x2="1446.5" y2="0"><stop offset=".000" stop-color="#77ff88"/><stop offset=".057" stop-color="#62ff9d"/><stop offset=".150" stop-color="#68ff97"/><stop offset=".187" stop-color="#7bff84"/><stop offset=".231" stop-color="#fffe00"/><stop offset=".246" stop-color="#ffdb00"/><stop offset=".256" stop-color="#ff9d00"/><stop offset=".266" stop-color="#ff1800"/><stop offset=".268" stop-color="#e40000"/><stop offset=".305" stop-color="#800000"/><stop offset=".361" stop-color="#820000"/><stop offset=".398" stop-color="#fd0000"/><stop offset=".439" stop-color="#ff7f00"/><stop offset=".483" stop-color="#ffdf00"/><stop offset=".495" stop-color="#ffff00"/><stop offset=".540" stop-color="#97ff68"/><stop offset=".556" stop-color="#7aff85"/><stop offset=".636" stop-color="#7cff83"/><stop offset=".770" stop-color="#7fff80"/><stop offset=".802" stop-color="#feff01"/><stop offset=".841" stop-color="#ff9d00"/><stop offset=".928" stop-color="#ff5e00"/><stop offset=".999" stop-color="#ff4300"/></linearGradient><linearGradient id="g43" gradientUnits="userSpaceOnUse" x1="939" y1="0" x2="1446.5" y2="0"><stop offset=".000" stop-color="#7aff85"/><stop offset=".055" stop-color="#64ff9b"/><stop offset=".150" stop-color="#6aff95"/><stop offset=".187" stop-color="#7bff84"/><stop offset=".231" stop-color="#fffe00"/><stop offset=".246" stop-color="#ffda00"/><stop offset=".256" stop-color="#ff9c00"/><stop offset=".266" stop-color="#ff1600"/><stop offset=".268" stop-color="#e20000"/><stop offset=".305" stop-color="#800000"/><stop offset=".347" stop-color="#890000"/><stop offset=".353" stop-color="#870000"/><stop offset=".382" stop-color="#fe0000"/><stop offset=".392" stop-color="#ff2200"/><stop offset=".433" stop-color="#ff8900"/><stop offset=".473" stop-color="#ffdf00"/><stop offset=".485" stop-color="#feff01"/><stop offset=".520" stop-color="#a1ff5e"/><stop offset=".546" stop-color="#71ff8e"/><stop offset=".611" stop-color="#6cff93"/><stop offset=".674" stop-color="#80ff7f"/><stop offset=".774" stop-color="#7eff81"/><stop offset=".794" stop-color="#cdff32"/><stop offset=".804" stop-color="#fdff02"/><stop offset=".851" stop-color="#ff9d00"/><stop offset=".993" stop-color="#ff5a00"/><stop offset=".999" stop-color="#ff5800"/></linearGradient><linearGradient id="g44" gradientUnits="userSpaceOnUse" x1="939" y1="0" x2="1446.5" y2="0"><stop offset=".000" stop-color="#7dff82"/><stop offset=".053" stop-color="#66ff99"/><stop offset=".150" stop-color="#6cff93"/><stop offset=".187" stop-color="#7cff83"/><stop offset=".231" stop-color="#fffe00"/><stop offset=".246" stop-color="#ffda00"/><stop offset=".256" stop-color="#ff9c00"/><stop offset=".266" stop-color="#ff1600"/><stop offset=".268" stop-color="#f60000"/><stop offset=".301" stop-color="#9c0000"/><stop offset=".341" stop-color="#ac0000"/><stop offset=".347" stop-color="#b00000"/><stop offset=".384" stop-color="#ff0400"/><stop offset=".420" stop-color="#ff7900"/><stop offset=".465" stop-color="#ffe300"/><stop offset=".475" stop-color="#feff01"/><stop offset=".512" stop-color="#90ff6f"/><stop offset=".530" stop-color="#66ff99"/><stop offset=".607" stop-color="#61ff9e"/><stop offset=".666" stop-color="#80ff7f"/><stop offset=".774" stop-color="#7eff81"/><stop offset=".794" stop-color="#cdff32"/><stop offset=".804" stop-color="#fdff02"/><stop offset=".835" stop-color="#ffb200"/><stop offset=".999" stop-color="#ff7600"/></linearGradient><linearGradient id="g45" gradientUnits="userSpaceOnUse" x1="939" y1="0" x2="1446.5" y2="0"><stop offset=".000" stop-color="#7fff80"/><stop offset=".057" stop-color="#68ff97"/><stop offset=".148" stop-color="#6fff90"/><stop offset=".187" stop-color="#7dff82"/><stop offset=".231" stop-color="#fffe00"/><stop offset=".246" stop-color="#ffda00"/><stop offset=".256" stop-color="#ff9d00"/><stop offset=".266" stop-color="#ff1700"/><stop offset=".268" stop-color="#ff0200"/><stop offset=".307" stop-color="#ff0700"/><stop offset=".343" stop-color="#ff1200"/><stop offset=".357" stop-color="#ff0d00"/><stop offset=".392" stop-color="#ff6100"/><stop offset=".430" stop-color="#ffb400"/><stop offset=".455" stop-color="#fffd00"/><stop offset=".471" stop-color="#d2ff2d"/><stop offset=".497" stop-color="#7eff81"/><stop offset=".508" stop-color="#5dffa2"/><stop offset=".605" stop-color="#59ffa6"/><stop offset=".662" stop-color="#81ff7e"/><stop offset=".780" stop-color="#7fff80"/><stop offset=".800" stop-color="#ceff31"/><stop offset=".810" stop-color="#feff01"/><stop offset=".853" stop-color="#ffc500"/><stop offset=".999" stop-color="#ff9500"/></linearGradient><linearGradient id="g46" gradientUnits="userSpaceOnUse" x1="939" y1="0" x2="1446.5" y2="0"><stop offset=".000" stop-color="#80ff7f"/><stop offset=".063" stop-color="#6bff94"/><stop offset=".146" stop-color="#72ff8d"/><stop offset=".187" stop-color="#7eff81"/><stop offset=".231" stop-color="#ffff00"/><stop offset=".246" stop-color="#ffdc00"/><stop offset=".256" stop-color="#ff9f00"/><stop offset=".266" stop-color="#ff1a00"/><stop offset=".347" stop-color="#ff2400"/><stop offset=".400" stop-color="#ff8f00"/><stop offset=".439" stop-color="#ffff00"/><stop offset=".495" stop-color="#57ffa8"/><stop offset=".599" stop-color="#55ffaa"/><stop offset=".660" stop-color="#83ff7c"/><stop offset=".786" stop-color="#80ff7f"/><stop offset=".820" stop-color="#ffff00"/><stop offset=".924" stop-color="#ffce00"/><stop offset=".999" stop-color="#ffbd00"/></linearGradient><linearGradient id="g47" gradientUnits="userSpaceOnUse" x1="939" y1="0" x2="1446.5" y2="0"><stop offset=".000" stop-color="#80ff7f"/><stop offset=".069" stop-color="#6fff90"/><stop offset=".142" stop-color="#74ff8b"/><stop offset=".191" stop-color="#80ff7f"/><stop offset=".234" stop-color="#fdff02"/><stop offset=".250" stop-color="#ffca00"/><stop offset=".266" stop-color="#ff7000"/><stop offset=".268" stop-color="#ff6600"/><stop offset=".319" stop-color="#ff6300"/><stop offset=".347" stop-color="#ff6000"/><stop offset=".378" stop-color="#ff9000"/><stop offset=".414" stop-color="#ffee00"/><stop offset=".424" stop-color="#faff05"/><stop offset=".439" stop-color="#d2ff2d"/><stop offset=".481" stop-color="#55ffaa"/><stop offset=".530" stop-color="#4cffb3"/><stop offset=".599" stop-color="#58ffa7"/><stop offset=".656" stop-color="#85ff7a"/><stop offset=".749" stop-color="#7fff80"/><stop offset=".794" stop-color="#84ff7b"/><stop offset=".822" stop-color="#e7ff18"/><stop offset=".830" stop-color="#fffd00"/><stop offset=".999" stop-color="#ffdc00"/></linearGradient><linearGradient id="g48" gradientUnits="userSpaceOnUse" x1="939" y1="0" x2="1446.5" y2="0"><stop offset=".000" stop-color="#80ff7f"/><stop offset=".043" stop-color="#75ff8a"/><stop offset=".134" stop-color="#76ff89"/><stop offset=".195" stop-color="#80ff7f"/><stop offset=".201" stop-color="#85ff7a"/><stop offset=".233" stop-color="#d9ff26"/><stop offset=".244" stop-color="#feff01"/><stop offset=".266" stop-color="#ffc300"/><stop offset=".272" stop-color="#ffbb00"/><stop offset=".303" stop-color="#ffbb00"/><stop offset=".343" stop-color="#ffa400"/><stop offset=".359" stop-color="#ffa900"/><stop offset=".378" stop-color="#ffea00"/><stop offset=".390" stop-color="#fdff02"/><stop offset=".420" stop-color="#c1ff3e"/><stop offset=".449" stop-color="#6dff92"/><stop offset=".457" stop-color="#5affa5"/><stop offset=".520" stop-color="#44ffbb"/><stop offset=".581" stop-color="#52ffad"/><stop offset=".656" stop-color="#85ff7a"/><stop offset=".749" stop-color="#7fff80"/><stop offset=".800" stop-color="#88ff77"/><stop offset=".828" stop-color="#c3ff3c"/><stop offset=".873" stop-color="#eeff11"/><stop offset=".999" stop-color="#faff05"/></linearGradient><linearGradient id="g49" gradientUnits="userSpaceOnUse" x1="939" y1="0" x2="1446.5" y2="0"><stop offset=".000" stop-color="#7fff80"/><stop offset=".039" stop-color="#79ff86"/><stop offset=".130" stop-color="#78ff87"/><stop offset=".191" stop-color="#80ff7f"/><stop offset=".209" stop-color="#7fff80"/><stop offset=".254" stop-color="#e9ff16"/><stop offset=".280" stop-color="#feff01"/><stop offset=".303" stop-color="#feff01"/><stop offset=".341" stop-color="#ffe400"/><stop offset=".357" stop-color="#fff500"/><stop offset=".365" stop-color="#fbff04"/><stop offset=".420" stop-color="#98ff67"/><stop offset=".443" stop-color="#68ff97"/><stop offset=".459" stop-color="#54ffab"/><stop offset=".528" stop-color="#3dffc2"/><stop offset=".569" stop-color="#48ffb7"/><stop offset=".648" stop-color="#7cff83"/><stop offset=".721" stop-color="#7eff81"/><stop offset=".814" stop-color="#8dff72"/><stop offset=".863" stop-color="#b1ff4e"/><stop offset=".999" stop-color="#bdff42"/></linearGradient><linearGradient id="g50" gradientUnits="userSpaceOnUse" x1="939" y1="0" x2="1446.5" y2="0"><stop offset=".000" stop-color="#7fff80"/><stop offset=".116" stop-color="#7aff85"/><stop offset=".193" stop-color="#7eff81"/><stop offset=".219" stop-color="#81ff7e"/><stop offset=".248" stop-color="#cbff34"/><stop offset=".266" stop-color="#e3ff1c"/><stop offset=".301" stop-color="#d2ff2d"/><stop offset=".335" stop-color="#e2ff1d"/><stop offset=".361" stop-color="#c6ff39"/><stop offset=".418" stop-color="#68ff97"/><stop offset=".508" stop-color="#3bffc4"/><stop offset=".552" stop-color="#38ffc7"/><stop offset=".621" stop-color="#66ff99"/><stop offset=".715" stop-color="#80ff7f"/><stop offset=".776" stop-color="#86ff79"/><stop offset=".826" stop-color="#88ff77"/><stop offset=".877" stop-color="#8aff75"/><stop offset=".938" stop-color="#94ff6b"/><stop offset=".999" stop-color="#94ff6b"/></linearGradient><linearGradient id="g51" gradientUnits="userSpaceOnUse" x1="939" y1="0" x2="1446.5" y2="0"><stop offset=".000" stop-color="#7fff80"/><stop offset=".213" stop-color="#81ff7e"/><stop offset=".231" stop-color="#90ff6f"/><stop offset=".254" stop-color="#d6ff29"/><stop offset=".274" stop-color="#d4ff2b"/><stop offset=".305" stop-color="#bcff43"/><stop offset=".331" stop-color="#b4ff4b"/><stop offset=".363" stop-color="#94ff6b"/><stop offset=".380" stop-color="#7cff83"/><stop offset=".497" stop-color="#3dffc2"/><stop offset=".546" stop-color="#32ffcd"/><stop offset=".613" stop-color="#5bffa4"/><stop offset=".660" stop-color="#63ff9c"/><stop offset=".709" stop-color="#82ff7d"/><stop offset=".776" stop-color="#85ff7a"/><stop offset=".832" stop-color="#89ff76"/><stop offset=".940" stop-color="#7fff80"/><stop offset=".999" stop-color="#80ff7f"/></linearGradient><linearGradient id="g52" gradientUnits="userSpaceOnUse" x1="939" y1="0" x2="1446.5" y2="0"><stop offset=".000" stop-color="#80ff7f"/><stop offset=".211" stop-color="#83ff7c"/><stop offset=".234" stop-color="#94ff6b"/><stop offset=".258" stop-color="#dbff24"/><stop offset=".276" stop-color="#d8ff27"/><stop offset=".313" stop-color="#aaff55"/><stop offset=".349" stop-color="#79ff86"/><stop offset=".414" stop-color="#60ff9f"/><stop offset=".516" stop-color="#35ffca"/><stop offset=".558" stop-color="#3cffc3"/><stop offset=".607" stop-color="#57ffa8"/><stop offset=".654" stop-color="#57ffa8"/><stop offset=".707" stop-color="#82ff7d"/><stop offset=".778" stop-color="#84ff7b"/><stop offset=".843" stop-color="#8bff74"/><stop offset=".950" stop-color="#7fff80"/><stop offset=".999" stop-color="#7fff80"/></linearGradient><linearGradient id="g53" gradientUnits="userSpaceOnUse" x1="939" y1="0" x2="1446.5" y2="0"><stop offset=".000" stop-color="#80ff7f"/><stop offset=".100" stop-color="#83ff7c"/><stop offset=".185" stop-color="#83ff7c"/><stop offset=".229" stop-color="#8eff71"/><stop offset=".264" stop-color="#bbff44"/><stop offset=".282" stop-color="#b2ff4d"/><stop offset=".333" stop-color="#69ff96"/><stop offset=".368" stop-color="#5effa1"/><stop offset=".510" stop-color="#39ffc6"/><stop offset=".601" stop-color="#5affa5"/><stop offset=".652" stop-color="#57ffa8"/><stop offset=".709" stop-color="#82ff7d"/><stop offset=".780" stop-color="#84ff7b"/><stop offset=".851" stop-color="#8fff70"/><stop offset=".966" stop-color="#7eff81"/><stop offset=".999" stop-color="#7fff80"/></linearGradient><linearGradient id="g54" gradientUnits="userSpaceOnUse" x1="939" y1="0" x2="1446.5" y2="0"><stop offset=".000" stop-color="#80ff7f"/><stop offset=".039" stop-color="#89ff76"/><stop offset=".112" stop-color="#82ff7d"/><stop offset=".167" stop-color="#81ff7e"/><stop offset=".231" stop-color="#8fff70"/><stop offset=".264" stop-color="#bdff42"/><stop offset=".282" stop-color="#b6ff49"/><stop offset=".311" stop-color="#80ff7f"/><stop offset=".337" stop-color="#52ffad"/><stop offset=".363" stop-color="#47ffb8"/><stop offset=".481" stop-color="#3effc1"/><stop offset=".516" stop-color="#44ffbb"/><stop offset=".569" stop-color="#60ff9f"/><stop offset=".650" stop-color="#5dffa2"/><stop offset=".711" stop-color="#82ff7d"/><stop offset=".780" stop-color="#84ff7b"/><stop offset=".857" stop-color="#93ff6c"/><stop offset=".981" stop-color="#7eff81"/><stop offset=".999" stop-color="#7fff80"/></linearGradient><linearGradient id="g55" gradientUnits="userSpaceOnUse" x1="939" y1="0" x2="1446.5" y2="0"><stop offset=".000" stop-color="#7fff80"/><stop offset=".032" stop-color="#8bff74"/><stop offset=".104" stop-color="#84ff7b"/><stop offset=".156" stop-color="#7fff80"/><stop offset=".231" stop-color="#92ff6d"/><stop offset=".264" stop-color="#c0ff3f"/><stop offset=".282" stop-color="#baff45"/><stop offset=".305" stop-color="#8eff71"/><stop offset=".335" stop-color="#4cffb3"/><stop offset=".357" stop-color="#3cffc3"/><stop offset=".502" stop-color="#48ffb7"/><stop offset=".564" stop-color="#67ff98"/><stop offset=".646" stop-color="#62ff9d"/><stop offset=".711" stop-color="#82ff7d"/><stop offset=".784" stop-color="#85ff7a"/><stop offset=".863" stop-color="#94ff6b"/><stop offset=".995" stop-color="#7fff80"/><stop offset=".999" stop-color="#80ff7f"/></linearGradient><linearGradient id="g56" gradientUnits="userSpaceOnUse" x1="939" y1="0" x2="1446.5" y2="0"><stop offset=".000" stop-color="#7fff80"/><stop offset=".033" stop-color="#8bff74"/><stop offset=".104" stop-color="#84ff7b"/><stop offset=".158" stop-color="#7fff80"/><stop offset=".229" stop-color="#94ff6b"/><stop offset=".264" stop-color="#c4ff3b"/><stop offset=".282" stop-color="#bfff40"/><stop offset=".303" stop-color="#97ff68"/><stop offset=".335" stop-color="#4dffb2"/><stop offset=".355" stop-color="#3cffc3"/><stop offset=".467" stop-color="#45ffba"/><stop offset=".550" stop-color="#64ff9b"/><stop offset=".648" stop-color="#65ff9a"/><stop offset=".713" stop-color="#83ff7c"/><stop offset=".786" stop-color="#86ff79"/><stop offset=".873" stop-color="#95ff6a"/><stop offset=".999" stop-color="#80ff7f"/></linearGradient><linearGradient id="g57" gradientUnits="userSpaceOnUse" x1="939" y1="0" x2="1446.5" y2="0"><stop offset=".000" stop-color="#7fff80"/><stop offset=".033" stop-color="#8aff75"/><stop offset=".106" stop-color="#83ff7c"/><stop offset=".162" stop-color="#80ff7f"/><stop offset=".227" stop-color="#95ff6a"/><stop offset=".264" stop-color="#c8ff37"/><stop offset=".282" stop-color="#c3ff3c"/><stop offset=".303" stop-color="#9aff65"/><stop offset=".335" stop-color="#4fffb0"/><stop offset=".355" stop-color="#3fffc0"/><stop offset=".430" stop-color="#40ffbf"/><stop offset=".467" stop-color="#48ffb7"/><stop offset=".516" stop-color="#64ff9b"/><stop offset=".627" stop-color="#64ff9b"/><stop offset=".715" stop-color="#81ff7e"/><stop offset=".786" stop-color="#86ff79"/><stop offset=".883" stop-color="#96ff69"/><stop offset=".999" stop-color="#80ff7f"/></linearGradient><linearGradient id="g58" gradientUnits="userSpaceOnUse" x1="939" y1="0" x2="1446.5" y2="0"><stop offset=".000" stop-color="#80ff7f"/><stop offset=".033" stop-color="#8aff75"/><stop offset=".106" stop-color="#83ff7c"/><stop offset=".160" stop-color="#7fff80"/><stop offset=".229" stop-color="#96ff69"/><stop offset=".264" stop-color="#c8ff37"/><stop offset=".282" stop-color="#c3ff3c"/><stop offset=".303" stop-color="#99ff66"/><stop offset=".333" stop-color="#51ffae"/><stop offset=".351" stop-color="#40ffbf"/><stop offset=".412" stop-color="#44ffbb"/><stop offset=".457" stop-color="#43ffbc"/><stop offset=".514" stop-color="#65ff9a"/><stop offset=".599" stop-color="#5fffa0"/><stop offset=".698" stop-color="#7aff85"/><stop offset=".774" stop-color="#80ff7f"/><stop offset=".873" stop-color="#95ff6a"/><stop offset=".960" stop-color="#89ff76"/><stop offset=".999" stop-color="#7dff82"/></linearGradient><linearGradient id="g59" gradientUnits="userSpaceOnUse" x1="939" y1="0" x2="1446.5" y2="0"><stop offset=".000" stop-color="#80ff7f"/><stop offset=".033" stop-color="#8aff75"/><stop offset=".106" stop-color="#83ff7c"/><stop offset=".160" stop-color="#7fff80"/><stop offset=".233" stop-color="#94ff6b"/><stop offset=".264" stop-color="#baff45"/><stop offset=".282" stop-color="#b3ff4c"/><stop offset=".303" stop-color="#8cff73"/><stop offset=".333" stop-color="#4affb5"/><stop offset=".353" stop-color="#3cffc3"/><stop offset=".404" stop-color="#45ffba"/><stop offset=".455" stop-color="#42ffbd"/><stop offset=".516" stop-color="#64ff9b"/><stop offset=".601" stop-color="#60ff9f"/><stop offset=".670" stop-color="#78ff87"/><stop offset=".765" stop-color="#78ff87"/><stop offset=".875" stop-color="#8fff70"/><stop offset=".971" stop-color="#7fff80"/><stop offset=".999" stop-color="#77ff88"/></linearGradient><linearGradient id="g60" gradientUnits="userSpaceOnUse" x1="939" y1="0" x2="1446.5" y2="0"><stop offset=".000" stop-color="#7fff80"/><stop offset=".043" stop-color="#8cff73"/><stop offset=".156" stop-color="#7fff80"/><stop offset=".250" stop-color="#93ff6c"/><stop offset=".276" stop-color="#90ff6f"/><stop offset=".305" stop-color="#6aff95"/><stop offset=".337" stop-color="#3cffc3"/><stop offset=".365" stop-color="#39ffc6"/><stop offset=".422" stop-color="#3fffc0"/><stop offset=".463" stop-color="#46ffb9"/><stop offset=".514" stop-color="#66ff99"/><stop offset=".611" stop-color="#66ff99"/><stop offset=".690" stop-color="#76ff89"/><stop offset=".843" stop-color="#7aff85"/><stop offset=".948" stop-color="#74ff8b"/><stop offset=".999" stop-color="#6cff93"/></linearGradient><linearGradient id="g61" gradientUnits="userSpaceOnUse" x1="939" y1="0" x2="1446.5" y2="0"><stop offset=".000" stop-color="#7fff80"/><stop offset=".053" stop-color="#91ff6e"/><stop offset=".140" stop-color="#7fff80"/><stop offset=".234" stop-color="#83ff7c"/><stop offset=".327" stop-color="#37ffc8"/><stop offset=".368" stop-color="#32ffcd"/><stop offset=".459" stop-color="#45ffba"/><stop offset=".512" stop-color="#6bff94"/><stop offset=".656" stop-color="#6dff92"/><stop offset=".733" stop-color="#80ff7f"/><stop offset=".826" stop-color="#62ff9d"/><stop offset=".999" stop-color="#5effa1"/></linearGradient><linearGradient id="g62" gradientUnits="userSpaceOnUse" x1="939" y1="0" x2="1446.5" y2="0"><stop offset=".000" stop-color="#80ff7f"/><stop offset=".053" stop-color="#96ff69"/><stop offset=".120" stop-color="#80ff7f"/><stop offset=".207" stop-color="#81ff7e"/><stop offset=".231" stop-color="#81ff7e"/><stop offset=".252" stop-color="#60ff9f"/><stop offset=".278" stop-color="#3affc5"/><stop offset=".315" stop-color="#2bffd4"/><stop offset=".392" stop-color="#2effd1"/><stop offset=".461" stop-color="#46ffb9"/><stop offset=".510" stop-color="#6fff90"/><stop offset=".658" stop-color="#6eff91"/><stop offset=".725" stop-color="#87ff78"/><stop offset=".765" stop-color="#79ff86"/><stop offset=".822" stop-color="#56ffa9"/><stop offset=".916" stop-color="#51ffae"/><stop offset=".999" stop-color="#53ffac"/></linearGradient><linearGradient id="g63" gradientUnits="userSpaceOnUse" x1="939" y1="0" x2="1446.5" y2="0"><stop offset=".000" stop-color="#80ff7f"/><stop offset=".053" stop-color="#9aff65"/><stop offset=".108" stop-color="#80ff7f"/><stop offset=".205" stop-color="#80ff7f"/><stop offset=".231" stop-color="#81ff7e"/><stop offset=".250" stop-color="#61ff9e"/><stop offset=".276" stop-color="#35ffca"/><stop offset=".305" stop-color="#24ffdb"/><stop offset=".392" stop-color="#28ffd7"/><stop offset=".459" stop-color="#44ffbb"/><stop offset=".508" stop-color="#6fff90"/><stop offset=".615" stop-color="#6cff93"/><stop offset=".696" stop-color="#84ff7b"/><stop offset=".743" stop-color="#87ff78"/><stop offset=".841" stop-color="#4cffb3"/><stop offset=".918" stop-color="#4cffb3"/><stop offset=".999" stop-color="#4dffb2"/></linearGradient><linearGradient id="g64" gradientUnits="userSpaceOnUse" x1="939" y1="0" x2="1446.5" y2="0"><stop offset=".000" stop-color="#80ff7f"/><stop offset=".028" stop-color="#8fff70"/><stop offset=".053" stop-color="#9dff62"/><stop offset=".102" stop-color="#81ff7e"/><stop offset=".207" stop-color="#82ff7d"/><stop offset=".233" stop-color="#81ff7e"/><stop offset=".282" stop-color="#36ffc9"/><stop offset=".315" stop-color="#24ffdb"/><stop offset=".392" stop-color="#26ffd9"/><stop offset=".457" stop-color="#43ffbc"/><stop offset=".508" stop-color="#6eff91"/><stop offset=".605" stop-color="#6bff94"/><stop offset=".709" stop-color="#8aff75"/><stop offset=".759" stop-color="#84ff7b"/><stop offset=".849" stop-color="#4bffb4"/><stop offset=".999" stop-color="#4cffb3"/></linearGradient><linearGradient id="g65" gradientUnits="userSpaceOnUse" x1="939" y1="0" x2="1446.5" y2="0"><stop offset=".000" stop-color="#7fff80"/><stop offset=".024" stop-color="#8cff73"/><stop offset=".051" stop-color="#9fff60"/><stop offset=".100" stop-color="#81ff7e"/><stop offset=".211" stop-color="#83ff7c"/><stop offset=".236" stop-color="#7eff81"/><stop offset=".296" stop-color="#34ffcb"/><stop offset=".337" stop-color="#27ffd8"/><stop offset=".416" stop-color="#2effd1"/><stop offset=".469" stop-color="#4fffb0"/><stop offset=".514" stop-color="#6eff91"/><stop offset=".609" stop-color="#6fff90"/><stop offset=".682" stop-color="#87ff78"/><stop offset=".751" stop-color="#8dff72"/><stop offset=".849" stop-color="#4fffb0"/><stop offset=".999" stop-color="#4fffb0"/></linearGradient><linearGradient id="g66" gradientUnits="userSpaceOnUse" x1="939" y1="0" x2="1446.5" y2="0"><stop offset=".000" stop-color="#7fff80"/><stop offset=".022" stop-color="#8aff75"/><stop offset=".049" stop-color="#9fff60"/><stop offset=".079" stop-color="#8bff74"/><stop offset=".114" stop-color="#7fff80"/><stop offset=".236" stop-color="#7fff80"/><stop offset=".276" stop-color="#54ffab"/><stop offset=".307" stop-color="#35ffca"/><stop offset=".406" stop-color="#31ffce"/><stop offset=".455" stop-color="#49ffb6"/><stop offset=".516" stop-color="#6eff91"/><stop offset=".623" stop-color="#77ff88"/><stop offset=".747" stop-color="#94ff6b"/><stop offset=".788" stop-color="#76ff89"/><stop offset=".837" stop-color="#58ffa7"/><stop offset=".940" stop-color="#4bffb4"/><stop offset=".999" stop-color="#54ffab"/></linearGradient><linearGradient id="g67" gradientUnits="userSpaceOnUse" x1="939" y1="0" x2="1446.5" y2="0"><stop offset=".000" stop-color="#80ff7f"/><stop offset=".028" stop-color="#8fff70"/><stop offset=".053" stop-color="#9cff63"/><stop offset=".102" stop-color="#81ff7e"/><stop offset=".242" stop-color="#7cff83"/><stop offset=".278" stop-color="#5cffa3"/><stop offset=".309" stop-color="#40ffbf"/><stop offset=".424" stop-color="#3effc1"/><stop offset=".522" stop-color="#73ff8c"/><stop offset=".654" stop-color="#7fff80"/><stop offset=".747" stop-color="#94ff6b"/><stop offset=".786" stop-color="#77ff88"/><stop offset=".828" stop-color="#5dffa2"/><stop offset=".942" stop-color="#4dffb2"/><stop offset=".999" stop-color="#58ffa7"/></linearGradient><linearGradient id="g68" gradientUnits="userSpaceOnUse" x1="939" y1="0" x2="1446.5" y2="0"><stop offset=".000" stop-color="#80ff7f"/><stop offset=".053" stop-color="#94ff6b"/><stop offset=".128" stop-color="#7fff80"/><stop offset=".250" stop-color="#7cff83"/><stop offset=".313" stop-color="#4fffb0"/><stop offset=".437" stop-color="#4fffb0"/><stop offset=".516" stop-color="#78ff87"/><stop offset=".619" stop-color="#78ff87"/><stop offset=".741" stop-color="#8dff72"/><stop offset=".792" stop-color="#70ff8f"/><stop offset=".849" stop-color="#57ffa8"/><stop offset=".999" stop-color="#57ffa8"/></linearGradient><linearGradient id="g69" x1="0" y1="0" x2="0" y2="1"><stop offset="0.0000" stop-color="#800000"/><stop offset="0.0625" stop-color="#bf0000"/><stop offset="0.1250" stop-color="#ff0000"/><stop offset="0.1875" stop-color="#ff4000"/><stop offset="0.2500" stop-color="#ff8000"/><stop offset="0.3125" stop-color="#ffbf00"/><stop offset="0.3750" stop-color="#ffff00"/><stop offset="0.4375" stop-color="#bfff40"/><stop offset="0.5000" stop-color="#80ff80"/><stop offset="0.5625" stop-color="#40ffbf"/><stop offset="0.6250" stop-color="#00ffff"/><stop offset="0.6875" stop-color="#00bfff"/><stop offset="0.7500" stop-color="#0080ff"/><stop offset="0.8125" stop-color="#0040ff"/><stop offset="0.8750" stop-color="#0000ff"/><stop offset="0.9375" stop-color="#0000bf"/><stop offset="1.0000" stop-color="#000080"/></linearGradient><radialGradient id="h70" gradientUnits="userSpaceOnUse" cx="265.5" cy="1304.8" r="160"><stop offset="0.91" stop-color="#dcebf5"/><stop offset="0.96" stop-color="#eef4f9"/><stop offset="1" stop-color="#fff"/></radialGradient><clipPath id="c71"><circle cx="265.5" cy="1304.8" r="147"/></clipPath><linearGradient id="g72" gradientUnits="userSpaceOnUse" x1="238.5" y1="0" x2="292.5" y2="0"><stop offset=".000" stop-color="#0034ff"/><stop offset=".704" stop-color="#0037ff"/><stop offset="1.000" stop-color="#0032ff"/></linearGradient><linearGradient id="g73" gradientUnits="userSpaceOnUse" x1="224.5" y1="0" x2="306.5" y2="0"><stop offset=".000" stop-color="#0033ff"/><stop offset=".671" stop-color="#0032ff"/><stop offset="1.000" stop-color="#002eff"/></linearGradient><linearGradient id="g74" gradientUnits="userSpaceOnUse" x1="215.5" y1="0" x2="315.5" y2="0"><stop offset=".000" stop-color="#0035ff"/><stop offset=".350" stop-color="#0030ff"/><stop offset=".690" stop-color="#002dff"/><stop offset="1.000" stop-color="#002fff"/></linearGradient><linearGradient id="g75" gradientUnits="userSpaceOnUse" x1="207.5" y1="0" x2="323.5" y2="0"><stop offset=".000" stop-color="#0038ff"/><stop offset=".302" stop-color="#0028ff"/><stop offset=".690" stop-color="#0026ff"/><stop offset=".991" stop-color="#0030ff"/><stop offset="1.000" stop-color="#0030ff"/></linearGradient><linearGradient id="g76" gradientUnits="userSpaceOnUse" x1="200.5" y1="0" x2="330.5" y2="0"><stop offset=".000" stop-color="#003bff"/><stop offset=".292" stop-color="#0024ff"/><stop offset=".846" stop-color="#0026ff"/><stop offset="1.000" stop-color="#0033ff"/></linearGradient><linearGradient id="g77" gradientUnits="userSpaceOnUse" x1="194.5" y1="0" x2="336.5" y2="0"><stop offset=".000" stop-color="#003cff"/><stop offset=".303" stop-color="#001cff"/><stop offset=".803" stop-color="#001eff"/><stop offset="1.000" stop-color="#0032ff"/></linearGradient><linearGradient id="g78" gradientUnits="userSpaceOnUse" x1="188.5" y1="0" x2="342.5" y2="0"><stop offset=".000" stop-color="#003aff"/><stop offset=".130" stop-color="#002dff"/><stop offset=".325" stop-color="#0018ff"/><stop offset=".773" stop-color="#001aff"/><stop offset="1.000" stop-color="#0032ff"/></linearGradient><linearGradient id="g79" gradientUnits="userSpaceOnUse" x1="184.5" y1="0" x2="346.5" y2="0"><stop offset=".000" stop-color="#0035ff"/><stop offset=".123" stop-color="#002aff"/><stop offset=".315" stop-color="#000fff"/><stop offset=".747" stop-color="#0010ff"/><stop offset="1.000" stop-color="#002dff"/></linearGradient><linearGradient id="g80" gradientUnits="userSpaceOnUse" x1="179.5" y1="0" x2="351.5" y2="0"><stop offset=".000" stop-color="#0032ff"/><stop offset=".134" stop-color="#0028ff"/><stop offset=".320" stop-color="#000aff"/><stop offset=".733" stop-color="#000bff"/><stop offset="1.000" stop-color="#002cff"/></linearGradient><linearGradient id="g81" gradientUnits="userSpaceOnUse" x1="175.5" y1="0" x2="355.5" y2="0"><stop offset=".000" stop-color="#002eff"/><stop offset=".156" stop-color="#001dff"/><stop offset=".322" stop-color="#0000fe"/><stop offset=".744" stop-color="#0004ff"/><stop offset="1.000" stop-color="#0027ff"/></linearGradient><linearGradient id="g82" gradientUnits="userSpaceOnUse" x1="171.5" y1="0" x2="359.5" y2="0"><stop offset=".000" stop-color="#002dff"/><stop offset=".176" stop-color="#0016ff"/><stop offset=".298" stop-color="#0000fc"/><stop offset=".505" stop-color="#0000f7"/><stop offset=".723" stop-color="#0000fd"/><stop offset="1.000" stop-color="#0027ff"/></linearGradient><linearGradient id="g83" gradientUnits="userSpaceOnUse" x1="167.5" y1="0" x2="363.5" y2="0"><stop offset=".000" stop-color="#002bff"/><stop offset=".219" stop-color="#0004ff"/><stop offset=".388" stop-color="#0000eb"/><stop offset=".709" stop-color="#0000f2"/><stop offset=".821" stop-color="#0006ff"/><stop offset="1.000" stop-color="#0025ff"/></linearGradient><linearGradient id="g84" gradientUnits="userSpaceOnUse" x1="164.5" y1="0" x2="366.5" y2="0"><stop offset=".000" stop-color="#002bff"/><stop offset=".233" stop-color="#0000fc"/><stop offset=".366" stop-color="#0000e7"/><stop offset=".703" stop-color="#0000ed"/><stop offset=".837" stop-color="#0005ff"/><stop offset="1.000" stop-color="#0025ff"/></linearGradient><linearGradient id="g85" gradientUnits="userSpaceOnUse" x1="161.5" y1="0" x2="369.5" y2="0"><stop offset=".000" stop-color="#002aff"/><stop offset=".197" stop-color="#0000fb"/><stop offset=".351" stop-color="#0000dd"/><stop offset=".697" stop-color="#0000e4"/><stop offset=".880" stop-color="#0004ff"/><stop offset="1.000" stop-color="#0024ff"/></linearGradient><linearGradient id="g86" gradientUnits="userSpaceOnUse" x1="158.5" y1="0" x2="372.5" y2="0"><stop offset=".000" stop-color="#002cff"/><stop offset=".182" stop-color="#0000fc"/><stop offset=".355" stop-color="#0000d9"/><stop offset=".692" stop-color="#0000df"/><stop offset=".893" stop-color="#0004ff"/><stop offset="1.000" stop-color="#0026ff"/></linearGradient><linearGradient id="g87" gradientUnits="userSpaceOnUse" x1="155.5" y1="0" x2="375.5" y2="0"><stop offset=".000" stop-color="#002eff"/><stop offset=".150" stop-color="#0000fc"/><stop offset=".355" stop-color="#0000d0"/><stop offset=".691" stop-color="#0000d8"/><stop offset=".914" stop-color="#0003ff"/><stop offset="1.000" stop-color="#0026ff"/></linearGradient><linearGradient id="g88" gradientUnits="userSpaceOnUse" x1="152.5" y1="0" x2="378.5" y2="0"><stop offset=".000" stop-color="#0031ff"/><stop offset=".146" stop-color="#0000fc"/><stop offset=".354" stop-color="#0000cd"/><stop offset=".686" stop-color="#0000d4"/><stop offset=".894" stop-color="#0000fb"/><stop offset=".947" stop-color="#0010ff"/><stop offset="1.000" stop-color="#002aff"/></linearGradient><linearGradient id="g89" gradientUnits="userSpaceOnUse" x1="149.5" y1="0" x2="381.5" y2="0"><stop offset=".000" stop-color="#0034ff"/><stop offset=".134" stop-color="#0000fc"/><stop offset=".250" stop-color="#0000dc"/><stop offset=".371" stop-color="#0000c6"/><stop offset=".690" stop-color="#0000cf"/><stop offset=".879" stop-color="#0000f0"/><stop offset=".931" stop-color="#0005ff"/><stop offset="1.000" stop-color="#002cff"/></linearGradient><linearGradient id="g90" gradientUnits="userSpaceOnUse" x1="147.5" y1="0" x2="383.5" y2="0"><stop offset=".000" stop-color="#0037ff"/><stop offset=".131" stop-color="#0000fc"/><stop offset=".225" stop-color="#0000df"/><stop offset=".373" stop-color="#0000c4"/><stop offset=".686" stop-color="#0000cd"/><stop offset=".869" stop-color="#0000ea"/><stop offset=".928" stop-color="#0003ff"/><stop offset="1.000" stop-color="#002fff"/></linearGradient><linearGradient id="g91" gradientUnits="userSpaceOnUse" x1="145.5" y1="0" x2="385.5" y2="0"><stop offset=".000" stop-color="#0039ff"/><stop offset=".125" stop-color="#0000fb"/><stop offset=".208" stop-color="#0000de"/><stop offset=".375" stop-color="#0000c3"/><stop offset=".683" stop-color="#0000ca"/><stop offset=".867" stop-color="#0000e2"/><stop offset=".938" stop-color="#0004ff"/><stop offset="1.000" stop-color="#0030ff"/></linearGradient><linearGradient id="g92" gradientUnits="userSpaceOnUse" x1="143.5" y1="0" x2="387.5" y2="0"><stop offset=".000" stop-color="#003cff"/><stop offset=".123" stop-color="#0000fd"/><stop offset=".205" stop-color="#0000dd"/><stop offset=".381" stop-color="#0000c3"/><stop offset=".680" stop-color="#0000c9"/><stop offset=".861" stop-color="#0000dd"/><stop offset=".934" stop-color="#0002ff"/><stop offset="1.000" stop-color="#0033ff"/></linearGradient><linearGradient id="g93" gradientUnits="userSpaceOnUse" x1="140.5" y1="0" x2="390.5" y2="0"><stop offset=".000" stop-color="#0041ff"/><stop offset=".124" stop-color="#0000fc"/><stop offset=".196" stop-color="#0000dd"/><stop offset=".328" stop-color="#0000ce"/><stop offset=".492" stop-color="#0000c5"/><stop offset=".692" stop-color="#0000cc"/><stop offset=".856" stop-color="#0000d6"/><stop offset=".920" stop-color="#0000f5"/><stop offset=".940" stop-color="#0006ff"/><stop offset="1.000" stop-color="#0037ff"/></linearGradient><linearGradient id="g94" gradientUnits="userSpaceOnUse" x1="139.5" y1="0" x2="391.5" y2="0"><stop offset=".000" stop-color="#0042ff"/><stop offset=".103" stop-color="#0009ff"/><stop offset=".127" stop-color="#0000f9"/><stop offset=".194" stop-color="#0000dc"/><stop offset=".329" stop-color="#0000d3"/><stop offset=".556" stop-color="#0000c6"/><stop offset=".774" stop-color="#0000ce"/><stop offset=".861" stop-color="#0000d4"/><stop offset=".921" stop-color="#0000f3"/><stop offset=".940" stop-color="#0005ff"/><stop offset="1.000" stop-color="#0038ff"/></linearGradient><linearGradient id="g95" gradientUnits="userSpaceOnUse" x1="137.5" y1="0" x2="393.5" y2="0"><stop offset=".000" stop-color="#0045ff"/><stop offset=".098" stop-color="#000dff"/><stop offset=".125" stop-color="#0000fa"/><stop offset=".191" stop-color="#0000da"/><stop offset=".270" stop-color="#0000e0"/><stop offset=".348" stop-color="#0000dc"/><stop offset=".543" stop-color="#0000ca"/><stop offset=".742" stop-color="#0000d1"/><stop offset=".848" stop-color="#0000ca"/><stop offset=".902" stop-color="#0000e0"/><stop offset=".941" stop-color="#0003ff"/><stop offset="1.000" stop-color="#0038ff"/></linearGradient><linearGradient id="g96" gradientUnits="userSpaceOnUse" x1="135.5" y1="0" x2="395.5" y2="0"><stop offset=".000" stop-color="#0048ff"/><stop offset=".092" stop-color="#0014ff"/><stop offset=".127" stop-color="#0000fa"/><stop offset=".188" stop-color="#0000da"/><stop offset=".246" stop-color="#0000dd"/><stop offset=".319" stop-color="#0000e8"/><stop offset=".527" stop-color="#0000cd"/><stop offset=".727" stop-color="#0000d5"/><stop offset=".842" stop-color="#0000c6"/><stop offset=".892" stop-color="#0000d8"/><stop offset=".938" stop-color="#0002ff"/><stop offset="1.000" stop-color="#003bff"/></linearGradient><linearGradient id="g97" gradientUnits="userSpaceOnUse" x1="133.5" y1="0" x2="397.5" y2="0"><stop offset=".000" stop-color="#004aff"/><stop offset=".091" stop-color="#0016ff"/><stop offset=".125" stop-color="#0000fb"/><stop offset=".186" stop-color="#0000d8"/><stop offset=".231" stop-color="#0000da"/><stop offset=".314" stop-color="#0000f8"/><stop offset=".424" stop-color="#0000e4"/><stop offset=".530" stop-color="#0000d5"/><stop offset=".705" stop-color="#0000de"/><stop offset=".837" stop-color="#0000c0"/><stop offset=".886" stop-color="#0000ce"/><stop offset=".943" stop-color="#0004ff"/><stop offset="1.000" stop-color="#003cff"/></linearGradient><linearGradient id="g98" gradientUnits="userSpaceOnUse" x1="132.5" y1="0" x2="398.5" y2="0"><stop offset=".000" stop-color="#004bff"/><stop offset=".094" stop-color="#0014ff"/><stop offset=".124" stop-color="#0000fc"/><stop offset=".184" stop-color="#0000d7"/><stop offset=".226" stop-color="#0000d8"/><stop offset=".308" stop-color="#0000ff"/><stop offset=".380" stop-color="#0000f8"/><stop offset=".511" stop-color="#0000db"/><stop offset=".699" stop-color="#0000e4"/><stop offset=".835" stop-color="#0000be"/><stop offset=".880" stop-color="#0000c7"/><stop offset=".932" stop-color="#0000f7"/><stop offset=".944" stop-color="#0004ff"/><stop offset="1.000" stop-color="#003dff"/></linearGradient><linearGradient id="g99" gradientUnits="userSpaceOnUse" x1="130.5" y1="0" x2="400.5" y2="0"><stop offset=".000" stop-color="#004dff"/><stop offset=".093" stop-color="#0015ff"/><stop offset=".126" stop-color="#0000fb"/><stop offset=".185" stop-color="#0000d4"/><stop offset=".222" stop-color="#0000d5"/><stop offset=".285" stop-color="#0004ff"/><stop offset=".330" stop-color="#0017ff"/><stop offset=".407" stop-color="#0004ff"/><stop offset=".519" stop-color="#0000e6"/><stop offset=".685" stop-color="#0000f1"/><stop offset=".774" stop-color="#0000ce"/><stop offset=".844" stop-color="#0000b9"/><stop offset=".885" stop-color="#0000c6"/><stop offset=".941" stop-color="#0001ff"/><stop offset="1.000" stop-color="#0041ff"/></linearGradient><linearGradient id="g100" gradientUnits="userSpaceOnUse" x1="129.5" y1="0" x2="401.5" y2="0"><stop offset=".000" stop-color="#004eff"/><stop offset=".092" stop-color="#0015ff"/><stop offset=".125" stop-color="#0000fb"/><stop offset=".188" stop-color="#0000d2"/><stop offset=".224" stop-color="#0000d4"/><stop offset=".279" stop-color="#0005ff"/><stop offset=".320" stop-color="#001fff"/><stop offset=".371" stop-color="#001bff"/><stop offset=".452" stop-color="#0000fb"/><stop offset=".526" stop-color="#0000ee"/><stop offset=".680" stop-color="#0000f9"/><stop offset=".754" stop-color="#0000da"/><stop offset=".831" stop-color="#0000b9"/><stop offset=".875" stop-color="#0000be"/><stop offset=".930" stop-color="#0000f4"/><stop offset=".945" stop-color="#0006ff"/><stop offset="1.000" stop-color="#0043ff"/></linearGradient><linearGradient id="g101" gradientUnits="userSpaceOnUse" x1="127.5" y1="0" x2="403.5" y2="0"><stop offset=".000" stop-color="#004fff"/><stop offset=".083" stop-color="#001aff"/><stop offset=".123" stop-color="#0000fb"/><stop offset=".188" stop-color="#0000d0"/><stop offset=".221" stop-color="#0000d0"/><stop offset=".264" stop-color="#0000fb"/><stop offset=".319" stop-color="#0033ff"/><stop offset=".359" stop-color="#0034ff"/><stop offset=".504" stop-color="#0000ff"/><stop offset=".674" stop-color="#000aff"/><stop offset=".710" stop-color="#0000fb"/><stop offset=".815" stop-color="#0000bd"/><stop offset=".862" stop-color="#0000b9"/><stop offset=".902" stop-color="#0000d7"/><stop offset=".938" stop-color="#0002ff"/><stop offset="1.000" stop-color="#0048ff"/></linearGradient><linearGradient id="g102" gradientUnits="userSpaceOnUse" x1="126.5" y1="0" x2="404.5" y2="0"><stop offset=".000" stop-color="#0050ff"/><stop offset=".076" stop-color="#001fff"/><stop offset=".119" stop-color="#0000fd"/><stop offset=".187" stop-color="#0000d0"/><stop offset=".223" stop-color="#0000d1"/><stop offset=".266" stop-color="#0001ff"/><stop offset=".313" stop-color="#0038ff"/><stop offset=".345" stop-color="#0042ff"/><stop offset=".450" stop-color="#001bff"/><stop offset=".514" stop-color="#0009ff"/><stop offset=".669" stop-color="#0013ff"/><stop offset=".719" stop-color="#0000fb"/><stop offset=".809" stop-color="#0000c0"/><stop offset=".856" stop-color="#0000b9"/><stop offset=".896" stop-color="#0000d3"/><stop offset=".939" stop-color="#0004ff"/><stop offset="1.000" stop-color="#004bff"/></linearGradient><linearGradient id="g103" gradientUnits="userSpaceOnUse" x1="125.5" y1="0" x2="405.5" y2="0"><stop offset=".000" stop-color="#004eff"/><stop offset=".071" stop-color="#001eff"/><stop offset=".114" stop-color="#0000fb"/><stop offset=".182" stop-color="#0000d0"/><stop offset=".218" stop-color="#0000d1"/><stop offset=".250" stop-color="#0000f0"/><stop offset=".264" stop-color="#0005ff"/><stop offset=".314" stop-color="#004aff"/><stop offset=".346" stop-color="#0055ff"/><stop offset=".432" stop-color="#0039ff"/><stop offset=".507" stop-color="#001eff"/><stop offset=".661" stop-color="#0025ff"/><stop offset=".707" stop-color="#0010ff"/><stop offset=".732" stop-color="#0000fc"/><stop offset=".807" stop-color="#0000c5"/><stop offset=".854" stop-color="#0000bc"/><stop offset=".893" stop-color="#0000d3"/><stop offset=".936" stop-color="#0002ff"/><stop offset="1.000" stop-color="#004dff"/></linearGradient><linearGradient id="g104" gradientUnits="userSpaceOnUse" x1="124.5" y1="0" x2="406.5" y2="0"><stop offset=".000" stop-color="#004dff"/><stop offset=".064" stop-color="#0024ff"/><stop offset=".110" stop-color="#0000fd"/><stop offset=".177" stop-color="#0000d2"/><stop offset=".216" stop-color="#0000d2"/><stop offset=".248" stop-color="#0000ef"/><stop offset=".262" stop-color="#0005ff"/><stop offset=".316" stop-color="#0051ff"/><stop offset=".348" stop-color="#005eff"/><stop offset=".426" stop-color="#0048ff"/><stop offset=".507" stop-color="#002bff"/><stop offset=".656" stop-color="#002fff"/><stop offset=".706" stop-color="#0017ff"/><stop offset=".738" stop-color="#0000fb"/><stop offset=".809" stop-color="#0000c6"/><stop offset=".851" stop-color="#0000bf"/><stop offset=".894" stop-color="#0000d7"/><stop offset=".933" stop-color="#0002ff"/><stop offset="1.000" stop-color="#0051ff"/></linearGradient><linearGradient id="g105" gradientUnits="userSpaceOnUse" x1="123.5" y1="0" x2="407.5" y2="0"><stop offset=".000" stop-color="#0049ff"/><stop offset=".056" stop-color="#0024ff"/><stop offset=".106" stop-color="#0000fb"/><stop offset=".173" stop-color="#0000d1"/><stop offset=".211" stop-color="#0000d2"/><stop offset=".246" stop-color="#0000f3"/><stop offset=".257" stop-color="#0003ff"/><stop offset=".313" stop-color="#0058ff"/><stop offset=".345" stop-color="#006dff"/><stop offset=".405" stop-color="#0067ff"/><stop offset=".511" stop-color="#0048ff"/><stop offset=".648" stop-color="#0043ff"/><stop offset=".701" stop-color="#0028ff"/><stop offset=".746" stop-color="#0000fc"/><stop offset=".810" stop-color="#0000cb"/><stop offset=".852" stop-color="#0000c4"/><stop offset=".894" stop-color="#0000dc"/><stop offset=".930" stop-color="#0001ff"/><stop offset="1.000" stop-color="#0054ff"/></linearGradient><linearGradient id="g106" gradientUnits="userSpaceOnUse" x1="122.5" y1="0" x2="408.5" y2="0"><stop offset=".000" stop-color="#0045ff"/><stop offset=".049" stop-color="#0028ff"/><stop offset=".101" stop-color="#0000fc"/><stop offset=".168" stop-color="#0000d1"/><stop offset=".206" stop-color="#0000d1"/><stop offset=".241" stop-color="#0000ed"/><stop offset=".255" stop-color="#0002ff"/><stop offset=".315" stop-color="#005dff"/><stop offset=".350" stop-color="#0075ff"/><stop offset=".409" stop-color="#0071ff"/><stop offset=".517" stop-color="#0058ff"/><stop offset=".643" stop-color="#004eff"/><stop offset=".696" stop-color="#0032ff"/><stop offset=".752" stop-color="#0000fb"/><stop offset=".808" stop-color="#0000cf"/><stop offset=".850" stop-color="#0000c7"/><stop offset=".895" stop-color="#0000e1"/><stop offset=".927" stop-color="#0002ff"/><stop offset="1.000" stop-color="#0058ff"/></linearGradient><linearGradient id="g107" gradientUnits="userSpaceOnUse" x1="121.5" y1="0" x2="409.5" y2="0"><stop offset=".000" stop-color="#003bff"/><stop offset=".052" stop-color="#001eff"/><stop offset=".094" stop-color="#0000fc"/><stop offset=".163" stop-color="#0000cf"/><stop offset=".201" stop-color="#0000cf"/><stop offset=".236" stop-color="#0000eb"/><stop offset=".253" stop-color="#0004ff"/><stop offset=".316" stop-color="#0066ff"/><stop offset=".351" stop-color="#0083ff"/><stop offset=".410" stop-color="#0088ff"/><stop offset=".628" stop-color="#0068ff"/><stop offset=".684" stop-color="#0049ff"/><stop offset=".757" stop-color="#0000fe"/><stop offset=".809" stop-color="#0000d4"/><stop offset=".851" stop-color="#0000ce"/><stop offset=".896" stop-color="#0000e7"/><stop offset=".924" stop-color="#0003ff"/><stop offset="1.000" stop-color="#005bff"/></linearGradient><linearGradient id="g108" gradientUnits="userSpaceOnUse" x1="120.5" y1="0" x2="410.5" y2="0"><stop offset=".000" stop-color="#0036ff"/><stop offset=".055" stop-color="#0019ff"/><stop offset=".093" stop-color="#0000fa"/><stop offset=".162" stop-color="#0000ce"/><stop offset=".200" stop-color="#0000cd"/><stop offset=".234" stop-color="#0000e9"/><stop offset=".252" stop-color="#0002ff"/><stop offset=".321" stop-color="#006fff"/><stop offset=".359" stop-color="#008dff"/><stop offset=".431" stop-color="#0093ff"/><stop offset=".600" stop-color="#007cff"/><stop offset=".666" stop-color="#005fff"/><stop offset=".731" stop-color="#001fff"/><stop offset=".762" stop-color="#0000fb"/><stop offset=".810" stop-color="#0000d6"/><stop offset=".852" stop-color="#0000d1"/><stop offset=".897" stop-color="#0000eb"/><stop offset=".921" stop-color="#0003ff"/><stop offset="1.000" stop-color="#005fff"/></linearGradient><linearGradient id="g109" gradientUnits="userSpaceOnUse" x1="119.5" y1="0" x2="411.5" y2="0"><stop offset=".000" stop-color="#002bff"/><stop offset=".072" stop-color="#0004ff"/><stop offset=".164" stop-color="#0000c9"/><stop offset=".202" stop-color="#0000cc"/><stop offset=".236" stop-color="#0000ed"/><stop offset=".250" stop-color="#0002ff"/><stop offset=".318" stop-color="#0074ff"/><stop offset=".356" stop-color="#0099ff"/><stop offset=".425" stop-color="#00adff"/><stop offset=".524" stop-color="#00adff"/><stop offset=".623" stop-color="#008cff"/><stop offset=".685" stop-color="#005eff"/><stop offset=".767" stop-color="#0000fd"/><stop offset=".812" stop-color="#0000dc"/><stop offset=".853" stop-color="#0000d8"/><stop offset=".901" stop-color="#0000f4"/><stop offset=".918" stop-color="#0005ff"/><stop offset="1.000" stop-color="#0063ff"/></linearGradient><linearGradient id="g110" gradientUnits="userSpaceOnUse" x1="119.5" y1="0" x2="411.5" y2="0"><stop offset=".000" stop-color="#0024ff"/><stop offset=".075" stop-color="#0000fc"/><stop offset=".158" stop-color="#0000c8"/><stop offset=".195" stop-color="#0000c8"/><stop offset=".229" stop-color="#0000e5"/><stop offset=".250" stop-color="#0004ff"/><stop offset=".318" stop-color="#0079ff"/><stop offset=".360" stop-color="#00a2ff"/><stop offset=".442" stop-color="#00bdff"/><stop offset=".521" stop-color="#00bfff"/><stop offset=".616" stop-color="#009bff"/><stop offset=".678" stop-color="#006dff"/><stop offset=".771" stop-color="#0000fe"/><stop offset=".815" stop-color="#0000de"/><stop offset=".856" stop-color="#0000dc"/><stop offset=".904" stop-color="#0000f9"/><stop offset=".921" stop-color="#000aff"/><stop offset="1.000" stop-color="#0063ff"/></linearGradient><linearGradient id="g111" gradientUnits="userSpaceOnUse" x1="118.5" y1="0" x2="412.5" y2="0"><stop offset=".000" stop-color="#001bff"/><stop offset=".065" stop-color="#0000fc"/><stop offset=".160" stop-color="#0000c4"/><stop offset=".197" stop-color="#0000c5"/><stop offset=".228" stop-color="#0000e1"/><stop offset=".248" stop-color="#0002ff"/><stop offset=".320" stop-color="#0083ff"/><stop offset=".361" stop-color="#00b0ff"/><stop offset=".456" stop-color="#00ddff"/><stop offset=".514" stop-color="#00e3ff"/><stop offset=".592" stop-color="#00c2ff"/><stop offset=".663" stop-color="#008bff"/><stop offset=".738" stop-color="#002dff"/><stop offset=".776" stop-color="#0000ff"/><stop offset=".816" stop-color="#0000e2"/><stop offset=".861" stop-color="#0000e3"/><stop offset=".908" stop-color="#0003ff"/><stop offset="1.000" stop-color="#0069ff"/></linearGradient><linearGradient id="g112" gradientUnits="userSpaceOnUse" x1="118.5" y1="0" x2="412.5" y2="0"><stop offset=".000" stop-color="#0017ff"/><stop offset=".058" stop-color="#0000fc"/><stop offset=".160" stop-color="#0000c2"/><stop offset=".197" stop-color="#0000c4"/><stop offset=".228" stop-color="#0000e2"/><stop offset=".248" stop-color="#0003ff"/><stop offset=".320" stop-color="#0087ff"/><stop offset=".364" stop-color="#00b9ff"/><stop offset=".469" stop-color="#00f0ff"/><stop offset=".517" stop-color="#00f3ff"/><stop offset=".595" stop-color="#00ccff"/><stop offset=".667" stop-color="#008fff"/><stop offset=".779" stop-color="#0000ff"/><stop offset=".820" stop-color="#0000e4"/><stop offset=".864" stop-color="#0000e7"/><stop offset=".905" stop-color="#0002ff"/><stop offset="1.000" stop-color="#006aff"/></linearGradient><linearGradient id="g113" gradientUnits="userSpaceOnUse" x1="117.5" y1="0" x2="413.5" y2="0"><stop offset=".000" stop-color="#0014ff"/><stop offset=".051" stop-color="#0000fb"/><stop offset=".162" stop-color="#0000bf"/><stop offset=".199" stop-color="#0000c2"/><stop offset=".230" stop-color="#0000e2"/><stop offset=".247" stop-color="#0000ff"/><stop offset=".321" stop-color="#0090ff"/><stop offset=".365" stop-color="#00c7ff"/><stop offset=".446" stop-color="#02fffd"/><stop offset=".500" stop-color="#16ffe9"/><stop offset=".564" stop-color="#00fbff"/><stop offset=".642" stop-color="#00b9ff"/><stop offset=".706" stop-color="#0067ff"/><stop offset=".774" stop-color="#0009ff"/><stop offset=".791" stop-color="#0000f8"/><stop offset=".831" stop-color="#0000e7"/><stop offset=".875" stop-color="#0000f1"/><stop offset=".899" stop-color="#0003ff"/><stop offset=".983" stop-color="#005dff"/><stop offset="1.000" stop-color="#0072ff"/></linearGradient><linearGradient id="g114" gradientUnits="userSpaceOnUse" x1="117.5" y1="0" x2="413.5" y2="0"><stop offset=".000" stop-color="#0013ff"/><stop offset=".044" stop-color="#0000fc"/><stop offset=".162" stop-color="#0000be"/><stop offset=".199" stop-color="#0000c1"/><stop offset=".226" stop-color="#0000de"/><stop offset=".247" stop-color="#0001ff"/><stop offset=".321" stop-color="#0094ff"/><stop offset=".368" stop-color="#00d1ff"/><stop offset=".429" stop-color="#03fffc"/><stop offset=".486" stop-color="#22ffdd"/><stop offset=".527" stop-color="#1dffe2"/><stop offset=".581" stop-color="#00fbff"/><stop offset=".652" stop-color="#00b5ff"/><stop offset=".720" stop-color="#0056ff"/><stop offset=".777" stop-color="#0008ff"/><stop offset=".794" stop-color="#0000f8"/><stop offset=".834" stop-color="#0000e9"/><stop offset=".882" stop-color="#0000f7"/><stop offset=".902" stop-color="#0008ff"/><stop offset=".986" stop-color="#0064ff"/><stop offset="1.000" stop-color="#0075ff"/></linearGradient><linearGradient id="g115" gradientUnits="userSpaceOnUse" x1="116.5" y1="0" x2="414.5" y2="0"><stop offset=".000" stop-color="#0016ff"/><stop offset=".044" stop-color="#0000fc"/><stop offset=".164" stop-color="#0000be"/><stop offset=".201" stop-color="#0000c3"/><stop offset=".232" stop-color="#0000e5"/><stop offset=".248" stop-color="#0003ff"/><stop offset=".326" stop-color="#00a0ff"/><stop offset=".376" stop-color="#00e6ff"/><stop offset=".406" stop-color="#04fffb"/><stop offset=".466" stop-color="#32ffcd"/><stop offset=".510" stop-color="#3affc5"/><stop offset=".567" stop-color="#1effe1"/><stop offset=".604" stop-color="#00fbff"/><stop offset=".678" stop-color="#009cff"/><stop offset=".762" stop-color="#001cff"/><stop offset=".792" stop-color="#0000fd"/><stop offset=".832" stop-color="#0000ed"/><stop offset=".876" stop-color="#0000fa"/><stop offset=".899" stop-color="#000cff"/><stop offset=".977" stop-color="#0061ff"/><stop offset="1.000" stop-color="#0080ff"/></linearGradient><linearGradient id="g116" gradientUnits="userSpaceOnUse" x1="116.5" y1="0" x2="414.5" y2="0"><stop offset=".000" stop-color="#0018ff"/><stop offset=".047" stop-color="#0000fb"/><stop offset=".161" stop-color="#0000bf"/><stop offset=".198" stop-color="#0000c2"/><stop offset=".228" stop-color="#0000e1"/><stop offset=".248" stop-color="#0004ff"/><stop offset=".329" stop-color="#00a9ff"/><stop offset=".379" stop-color="#00f0ff"/><stop offset=".396" stop-color="#04fffb"/><stop offset=".456" stop-color="#38ffc7"/><stop offset=".503" stop-color="#45ffba"/><stop offset=".554" stop-color="#33ffcc"/><stop offset=".611" stop-color="#00fdff"/><stop offset=".688" stop-color="#0090ff"/><stop offset=".762" stop-color="#001eff"/><stop offset=".792" stop-color="#0000ff"/><stop offset=".832" stop-color="#0000ef"/><stop offset=".876" stop-color="#0000fc"/><stop offset=".913" stop-color="#001aff"/><stop offset="1.000" stop-color="#0084ff"/></linearGradient><linearGradient id="g117" gradientUnits="userSpaceOnUse" x1="116.5" y1="0" x2="414.5" y2="0"><stop offset=".000" stop-color="#001dff"/><stop offset=".054" stop-color="#0000fb"/><stop offset=".161" stop-color="#0000c1"/><stop offset=".198" stop-color="#0000c5"/><stop offset=".228" stop-color="#0000e3"/><stop offset=".245" stop-color="#0000fe"/><stop offset=".339" stop-color="#00bfff"/><stop offset=".383" stop-color="#03fffc"/><stop offset=".440" stop-color="#40ffbf"/><stop offset=".487" stop-color="#55ffaa"/><stop offset=".540" stop-color="#4dffb2"/><stop offset=".587" stop-color="#29ffd6"/><stop offset=".621" stop-color="#00feff"/><stop offset=".755" stop-color="#0028ff"/><stop offset=".795" stop-color="#0000ff"/><stop offset=".836" stop-color="#0000f2"/><stop offset=".883" stop-color="#0005ff"/><stop offset=".940" stop-color="#003dff"/><stop offset="1.000" stop-color="#008cff"/></linearGradient><linearGradient id="g118" gradientUnits="userSpaceOnUse" x1="116.5" y1="0" x2="414.5" y2="0"><stop offset=".000" stop-color="#0020ff"/><stop offset=".057" stop-color="#0000fb"/><stop offset=".158" stop-color="#0000c3"/><stop offset=".195" stop-color="#0000c4"/><stop offset=".225" stop-color="#0000df"/><stop offset=".245" stop-color="#0000fe"/><stop offset=".346" stop-color="#00cdff"/><stop offset=".379" stop-color="#03fffc"/><stop offset=".433" stop-color="#43ffbc"/><stop offset=".477" stop-color="#5affa5"/><stop offset=".537" stop-color="#56ffa9"/><stop offset=".581" stop-color="#38ffc7"/><stop offset=".624" stop-color="#00feff"/><stop offset=".748" stop-color="#0031ff"/><stop offset=".792" stop-color="#0003ff"/><stop offset=".842" stop-color="#0000f4"/><stop offset=".879" stop-color="#0004ff"/><stop offset=".936" stop-color="#003cff"/><stop offset="1.000" stop-color="#0091ff"/></linearGradient><linearGradient id="g119" gradientUnits="userSpaceOnUse" x1="116.5" y1="0" x2="414.5" y2="0"><stop offset=".000" stop-color="#0028ff"/><stop offset=".067" stop-color="#0000fb"/><stop offset=".161" stop-color="#0000c5"/><stop offset=".198" stop-color="#0000c8"/><stop offset=".232" stop-color="#0000e8"/><stop offset=".248" stop-color="#0004ff"/><stop offset=".352" stop-color="#00dbff"/><stop offset=".372" stop-color="#00ffff"/><stop offset=".423" stop-color="#48ffb7"/><stop offset=".460" stop-color="#62ff9d"/><stop offset=".537" stop-color="#63ff9c"/><stop offset=".577" stop-color="#49ffb6"/><stop offset=".621" stop-color="#0cfff3"/><stop offset=".631" stop-color="#00f9ff"/><stop offset=".735" stop-color="#0043ff"/><stop offset=".779" stop-color="#000eff"/><stop offset=".805" stop-color="#0000fb"/><stop offset=".849" stop-color="#0000f8"/><stop offset=".876" stop-color="#0006ff"/><stop offset=".930" stop-color="#003aff"/><stop offset="1.000" stop-color="#009aff"/></linearGradient><linearGradient id="g120" gradientUnits="userSpaceOnUse" x1="116.5" y1="0" x2="414.5" y2="0"><stop offset=".000" stop-color="#002cff"/><stop offset=".070" stop-color="#0000fc"/><stop offset=".161" stop-color="#0000c7"/><stop offset=".198" stop-color="#0000c9"/><stop offset=".232" stop-color="#0000e7"/><stop offset=".248" stop-color="#0003ff"/><stop offset=".359" stop-color="#00e8ff"/><stop offset=".372" stop-color="#02fffd"/><stop offset=".419" stop-color="#4affb5"/><stop offset=".456" stop-color="#66ff99"/><stop offset=".544" stop-color="#66ff99"/><stop offset=".581" stop-color="#4bffb4"/><stop offset=".624" stop-color="#08fff7"/><stop offset=".634" stop-color="#00f4ff"/><stop offset=".728" stop-color="#004bff"/><stop offset=".775" stop-color="#0010ff"/><stop offset=".805" stop-color="#0000fc"/><stop offset=".849" stop-color="#0000f9"/><stop offset=".876" stop-color="#0007ff"/><stop offset=".930" stop-color="#003dff"/><stop offset="1.000" stop-color="#009eff"/></linearGradient><linearGradient id="g121" gradientUnits="userSpaceOnUse" x1="116.5" y1="0" x2="414.5" y2="0"><stop offset=".000" stop-color="#0036ff"/><stop offset=".084" stop-color="#0000fc"/><stop offset=".164" stop-color="#0000ca"/><stop offset=".201" stop-color="#0000cb"/><stop offset=".235" stop-color="#0000e9"/><stop offset=".252" stop-color="#0004ff"/><stop offset=".312" stop-color="#0084ff"/><stop offset=".372" stop-color="#01fffe"/><stop offset=".416" stop-color="#4dffb2"/><stop offset=".450" stop-color="#6bff94"/><stop offset=".550" stop-color="#6bff94"/><stop offset=".584" stop-color="#4effb1"/><stop offset=".628" stop-color="#01fffe"/><stop offset=".715" stop-color="#005aff"/><stop offset=".762" stop-color="#001aff"/><stop offset=".799" stop-color="#0000fe"/><stop offset=".842" stop-color="#0000f9"/><stop offset=".869" stop-color="#0006ff"/><stop offset=".919" stop-color="#0036ff"/><stop offset="1.000" stop-color="#00a8ff"/></linearGradient><linearGradient id="g122" gradientUnits="userSpaceOnUse" x1="116.5" y1="0" x2="414.5" y2="0"><stop offset=".000" stop-color="#003cff"/><stop offset=".091" stop-color="#0000fb"/><stop offset=".168" stop-color="#0000ca"/><stop offset=".205" stop-color="#0000cc"/><stop offset=".238" stop-color="#0000eb"/><stop offset=".252" stop-color="#0001ff"/><stop offset=".302" stop-color="#0069ff"/><stop offset=".372" stop-color="#00feff"/><stop offset=".419" stop-color="#53ffac"/><stop offset=".450" stop-color="#6dff92"/><stop offset=".550" stop-color="#6dff92"/><stop offset=".581" stop-color="#54ffab"/><stop offset=".617" stop-color="#14ffeb"/><stop offset=".628" stop-color="#00feff"/><stop offset=".701" stop-color="#006bff"/><stop offset=".748" stop-color="#0025ff"/><stop offset=".792" stop-color="#0001ff"/><stop offset=".839" stop-color="#0000f9"/><stop offset=".869" stop-color="#0007ff"/><stop offset=".916" stop-color="#0034ff"/><stop offset="1.000" stop-color="#00adff"/></linearGradient><linearGradient id="g123" gradientUnits="userSpaceOnUse" x1="116.5" y1="0" x2="414.5" y2="0"><stop offset=".000" stop-color="#0048ff"/><stop offset=".104" stop-color="#0000fb"/><stop offset=".171" stop-color="#0000cc"/><stop offset=".208" stop-color="#0000cb"/><stop offset=".242" stop-color="#0000e9"/><stop offset=".258" stop-color="#0003ff"/><stop offset=".309" stop-color="#006bff"/><stop offset=".376" stop-color="#00fcff"/><stop offset=".423" stop-color="#58ffa7"/><stop offset=".450" stop-color="#6eff91"/><stop offset=".523" stop-color="#70ff8f"/><stop offset=".560" stop-color="#69ff96"/><stop offset=".587" stop-color="#4affb5"/><stop offset=".624" stop-color="#00fcff"/><stop offset=".678" stop-color="#0088ff"/><stop offset=".728" stop-color="#0034ff"/><stop offset=".772" stop-color="#0009ff"/><stop offset=".802" stop-color="#0000fa"/><stop offset=".849" stop-color="#0000fe"/><stop offset=".893" stop-color="#001dff"/><stop offset=".950" stop-color="#0069ff"/><stop offset="1.000" stop-color="#00b6ff"/></linearGradient><linearGradient id="g124" gradientUnits="userSpaceOnUse" x1="116.5" y1="0" x2="414.5" y2="0"><stop offset=".000" stop-color="#004eff"/><stop offset=".107" stop-color="#0000fd"/><stop offset=".174" stop-color="#0000cc"/><stop offset=".211" stop-color="#0000cb"/><stop offset=".245" stop-color="#0000e9"/><stop offset=".262" stop-color="#0003ff"/><stop offset=".312" stop-color="#0069ff"/><stop offset=".379" stop-color="#00fcff"/><stop offset=".423" stop-color="#56ffa9"/><stop offset=".450" stop-color="#6cff93"/><stop offset=".554" stop-color="#6aff95"/><stop offset=".581" stop-color="#52ffad"/><stop offset=".614" stop-color="#0efff1"/><stop offset=".621" stop-color="#00fdff"/><stop offset=".671" stop-color="#008bff"/><stop offset=".721" stop-color="#0036ff"/><stop offset=".765" stop-color="#000aff"/><stop offset=".792" stop-color="#0000fb"/><stop offset=".842" stop-color="#0000fc"/><stop offset=".879" stop-color="#0013ff"/><stop offset=".930" stop-color="#004dff"/><stop offset="1.000" stop-color="#00baff"/></linearGradient><linearGradient id="g125" gradientUnits="userSpaceOnUse" x1="116.5" y1="0" x2="414.5" y2="0"><stop offset=".000" stop-color="#005bff"/><stop offset=".121" stop-color="#0000fb"/><stop offset=".181" stop-color="#0000cc"/><stop offset=".218" stop-color="#0000c9"/><stop offset=".255" stop-color="#0000eb"/><stop offset=".272" stop-color="#0004ff"/><stop offset=".339" stop-color="#0088ff"/><stop offset=".389" stop-color="#03fffc"/><stop offset=".423" stop-color="#4cffb3"/><stop offset=".446" stop-color="#60ff9f"/><stop offset=".523" stop-color="#65ff9a"/><stop offset=".564" stop-color="#5affa5"/><stop offset=".587" stop-color="#3bffc4"/><stop offset=".614" stop-color="#00fbff"/><stop offset=".664" stop-color="#007fff"/><stop offset=".708" stop-color="#0035ff"/><stop offset=".752" stop-color="#000aff"/><stop offset=".782" stop-color="#0000fb"/><stop offset=".836" stop-color="#0000fc"/><stop offset=".872" stop-color="#0010ff"/><stop offset=".919" stop-color="#0044ff"/><stop offset="1.000" stop-color="#00c1ff"/></linearGradient><linearGradient id="g126" gradientUnits="userSpaceOnUse" x1="116.5" y1="0" x2="414.5" y2="0"><stop offset=".000" stop-color="#0062ff"/><stop offset=".124" stop-color="#0000fd"/><stop offset=".181" stop-color="#0000cc"/><stop offset=".218" stop-color="#0000c7"/><stop offset=".255" stop-color="#0000e4"/><stop offset=".275" stop-color="#0000ff"/><stop offset=".332" stop-color="#006aff"/><stop offset=".386" stop-color="#00eeff"/><stop offset=".393" stop-color="#00ffff"/><stop offset=".423" stop-color="#42ffbd"/><stop offset=".446" stop-color="#57ffa8"/><stop offset=".513" stop-color="#5fffa0"/><stop offset=".564" stop-color="#51ffae"/><stop offset=".584" stop-color="#37ffc8"/><stop offset=".607" stop-color="#02fffd"/><stop offset=".664" stop-color="#0070ff"/><stop offset=".701" stop-color="#0032ff"/><stop offset=".745" stop-color="#0008ff"/><stop offset=".775" stop-color="#0000fa"/><stop offset=".829" stop-color="#0000fb"/><stop offset=".862" stop-color="#000bff"/><stop offset=".906" stop-color="#0035ff"/><stop offset="1.000" stop-color="#00c4ff"/></linearGradient><linearGradient id="g127" gradientUnits="userSpaceOnUse" x1="116.5" y1="0" x2="414.5" y2="0"><stop offset=".000" stop-color="#0071ff"/><stop offset=".117" stop-color="#000eff"/><stop offset=".134" stop-color="#0000fa"/><stop offset=".188" stop-color="#0000ca"/><stop offset=".225" stop-color="#0000c4"/><stop offset=".265" stop-color="#0000df"/><stop offset=".292" stop-color="#0001ff"/><stop offset=".332" stop-color="#0047ff"/><stop offset=".376" stop-color="#00b4ff"/><stop offset=".403" stop-color="#00fcff"/><stop offset=".430" stop-color="#2effd1"/><stop offset=".460" stop-color="#3fffc0"/><stop offset=".523" stop-color="#42ffbd"/><stop offset=".564" stop-color="#37ffc8"/><stop offset=".587" stop-color="#17ffe8"/><stop offset=".597" stop-color="#01fffe"/><stop offset=".661" stop-color="#0055ff"/><stop offset=".691" stop-color="#0021ff"/><stop offset=".732" stop-color="#0000ff"/><stop offset=".792" stop-color="#0000f5"/><stop offset=".842" stop-color="#0004ff"/><stop offset=".889" stop-color="#0026ff"/><stop offset=".953" stop-color="#0080ff"/><stop offset="1.000" stop-color="#00c9ff"/></linearGradient><linearGradient id="g128" gradientUnits="userSpaceOnUse" x1="117.5" y1="0" x2="413.5" y2="0"><stop offset=".000" stop-color="#0076ff"/><stop offset=".115" stop-color="#0013ff"/><stop offset=".135" stop-color="#0000fa"/><stop offset=".186" stop-color="#0000cb"/><stop offset=".223" stop-color="#0000c2"/><stop offset=".267" stop-color="#0000d9"/><stop offset=".301" stop-color="#0000ff"/><stop offset=".338" stop-color="#0042ff"/><stop offset=".409" stop-color="#00faff"/><stop offset=".436" stop-color="#24ffdb"/><stop offset=".476" stop-color="#2fffd0"/><stop offset=".557" stop-color="#2affd5"/><stop offset=".581" stop-color="#13ffec"/><stop offset=".591" stop-color="#01fffe"/><stop offset=".622" stop-color="#00b0ff"/><stop offset=".662" stop-color="#0043ff"/><stop offset=".689" stop-color="#0015ff"/><stop offset=".716" stop-color="#0000fd"/><stop offset=".774" stop-color="#0000f2"/><stop offset=".841" stop-color="#0004ff"/><stop offset=".892" stop-color="#0029ff"/><stop offset=".959" stop-color="#0088ff"/><stop offset="1.000" stop-color="#00c7ff"/></linearGradient><linearGradient id="g129" gradientUnits="userSpaceOnUse" x1="117.5" y1="0" x2="413.5" y2="0"><stop offset=".000" stop-color="#0085ff"/><stop offset=".105" stop-color="#0026ff"/><stop offset=".139" stop-color="#0000fc"/><stop offset=".189" stop-color="#0000cb"/><stop offset=".233" stop-color="#0000be"/><stop offset=".284" stop-color="#0000d1"/><stop offset=".321" stop-color="#0000f9"/><stop offset=".331" stop-color="#000bff"/><stop offset=".361" stop-color="#0055ff"/><stop offset=".405" stop-color="#00ceff"/><stop offset=".429" stop-color="#00f6ff"/><stop offset=".449" stop-color="#03fffc"/><stop offset=".561" stop-color="#02fffd"/><stop offset=".581" stop-color="#00efff"/><stop offset=".605" stop-color="#00bdff"/><stop offset=".659" stop-color="#0023ff"/><stop offset=".679" stop-color="#0000fd"/><stop offset=".706" stop-color="#0000e9"/><stop offset=".764" stop-color="#0000ec"/><stop offset=".831" stop-color="#0004ff"/><stop offset=".889" stop-color="#002dff"/><stop offset=".953" stop-color="#0084ff"/><stop offset="1.000" stop-color="#00cdff"/></linearGradient><linearGradient id="g130" gradientUnits="userSpaceOnUse" x1="118.5" y1="0" x2="412.5" y2="0"><stop offset=".000" stop-color="#008aff"/><stop offset=".099" stop-color="#002eff"/><stop offset=".139" stop-color="#0000fb"/><stop offset=".190" stop-color="#0000c9"/><stop offset=".235" stop-color="#0000bb"/><stop offset=".289" stop-color="#0000c9"/><stop offset=".320" stop-color="#0000e5"/><stop offset=".337" stop-color="#0004ff"/><stop offset=".374" stop-color="#0068ff"/><stop offset=".408" stop-color="#00c2ff"/><stop offset=".432" stop-color="#00e4ff"/><stop offset=".463" stop-color="#00ecff"/><stop offset=".514" stop-color="#00e6ff"/><stop offset=".561" stop-color="#00ebff"/><stop offset=".585" stop-color="#00d7ff"/><stop offset=".609" stop-color="#00a1ff"/><stop offset=".656" stop-color="#0017ff"/><stop offset=".667" stop-color="#0001ff"/><stop offset=".690" stop-color="#0000e2"/><stop offset=".728" stop-color="#0000dd"/><stop offset=".827" stop-color="#0003ff"/><stop offset=".888" stop-color="#002fff"/><stop offset=".949" stop-color="#007dff"/><stop offset="1.000" stop-color="#00caff"/></linearGradient><linearGradient id="g131" gradientUnits="userSpaceOnUse" x1="118.5" y1="0" x2="412.5" y2="0"><stop offset=".000" stop-color="#0099ff"/><stop offset=".085" stop-color="#0046ff"/><stop offset=".143" stop-color="#0000fc"/><stop offset=".194" stop-color="#0000c9"/><stop offset=".252" stop-color="#0000b2"/><stop offset=".303" stop-color="#0000b5"/><stop offset=".327" stop-color="#0000c9"/><stop offset=".350" stop-color="#0000fc"/><stop offset=".405" stop-color="#0092ff"/><stop offset=".425" stop-color="#00b3ff"/><stop offset=".452" stop-color="#00bdff"/><stop offset=".507" stop-color="#00aeff"/><stop offset=".565" stop-color="#00bbff"/><stop offset=".585" stop-color="#00adff"/><stop offset=".605" stop-color="#0082ff"/><stop offset=".650" stop-color="#0002ff"/><stop offset=".673" stop-color="#0000cf"/><stop offset=".697" stop-color="#0000c4"/><stop offset=".762" stop-color="#0000e4"/><stop offset=".816" stop-color="#0003ff"/><stop offset=".888" stop-color="#0038ff"/><stop offset=".956" stop-color="#008fff"/><stop offset="1.000" stop-color="#00d1ff"/></linearGradient><linearGradient id="g132" gradientUnits="userSpaceOnUse" x1="119.5" y1="0" x2="411.5" y2="0"><stop offset=".000" stop-color="#009eff"/><stop offset=".079" stop-color="#004fff"/><stop offset=".140" stop-color="#0000ff"/><stop offset=".192" stop-color="#0000ca"/><stop offset=".257" stop-color="#0000ad"/><stop offset=".305" stop-color="#0000aa"/><stop offset=".329" stop-color="#0000bd"/><stop offset=".353" stop-color="#0000f2"/><stop offset=".360" stop-color="#0006ff"/><stop offset=".401" stop-color="#0076ff"/><stop offset=".421" stop-color="#009aff"/><stop offset=".449" stop-color="#00a5ff"/><stop offset=".507" stop-color="#0093ff"/><stop offset=".568" stop-color="#00a1ff"/><stop offset=".589" stop-color="#0091ff"/><stop offset=".616" stop-color="#0052ff"/><stop offset=".644" stop-color="#0003ff"/><stop offset=".671" stop-color="#0000c3"/><stop offset=".692" stop-color="#0000b8"/><stop offset=".736" stop-color="#0000cf"/><stop offset=".815" stop-color="#0004ff"/><stop offset=".890" stop-color="#003eff"/><stop offset=".962" stop-color="#0098ff"/><stop offset="1.000" stop-color="#00cfff"/></linearGradient><linearGradient id="g133" gradientUnits="userSpaceOnUse" x1="120.5" y1="0" x2="410.5" y2="0"><stop offset=".000" stop-color="#00abff"/><stop offset=".072" stop-color="#005eff"/><stop offset=".145" stop-color="#0000fb"/><stop offset=".200" stop-color="#0000c6"/><stop offset=".293" stop-color="#000097"/><stop offset=".321" stop-color="#00009b"/><stop offset=".338" stop-color="#0000b3"/><stop offset=".369" stop-color="#0001ff"/><stop offset=".403" stop-color="#0054ff"/><stop offset=".428" stop-color="#0072ff"/><stop offset=".455" stop-color="#0074ff"/><stop offset=".507" stop-color="#005fff"/><stop offset=".572" stop-color="#006bff"/><stop offset=".597" stop-color="#0054ff"/><stop offset=".631" stop-color="#0008ff"/><stop offset=".638" stop-color="#0000f6"/><stop offset=".669" stop-color="#0000b2"/><stop offset=".686" stop-color="#0000a7"/><stop offset=".724" stop-color="#0000bd"/><stop offset=".800" stop-color="#0000fd"/><stop offset=".886" stop-color="#0042ff"/><stop offset=".962" stop-color="#009bff"/><stop offset="1.000" stop-color="#00d2ff"/></linearGradient><linearGradient id="g134" gradientUnits="userSpaceOnUse" x1="120.5" y1="0" x2="410.5" y2="0"><stop offset=".000" stop-color="#00b3ff"/><stop offset=".069" stop-color="#0068ff"/><stop offset=".145" stop-color="#0000fe"/><stop offset=".200" stop-color="#0000c8"/><stop offset=".297" stop-color="#000091"/><stop offset=".324" stop-color="#000097"/><stop offset=".345" stop-color="#0000b8"/><stop offset=".376" stop-color="#0004ff"/><stop offset=".407" stop-color="#0046ff"/><stop offset=".431" stop-color="#005eff"/><stop offset=".462" stop-color="#005aff"/><stop offset=".507" stop-color="#0046ff"/><stop offset=".572" stop-color="#0050ff"/><stop offset=".597" stop-color="#003cff"/><stop offset=".628" stop-color="#0000ff"/><stop offset=".666" stop-color="#0000b1"/><stop offset=".683" stop-color="#0000a3"/><stop offset=".714" stop-color="#0000b2"/><stop offset=".793" stop-color="#0000fa"/><stop offset=".831" stop-color="#0018ff"/><stop offset=".917" stop-color="#0069ff"/><stop offset="1.000" stop-color="#00d6ff"/></linearGradient><linearGradient id="g135" gradientUnits="userSpaceOnUse" x1="121.5" y1="0" x2="409.5" y2="0"><stop offset=".000" stop-color="#00c0ff"/><stop offset=".062" stop-color="#0079ff"/><stop offset=".149" stop-color="#0000fc"/><stop offset=".205" stop-color="#0000c8"/><stop offset=".295" stop-color="#00008d"/><stop offset=".323" stop-color="#000090"/><stop offset=".347" stop-color="#0000b0"/><stop offset=".385" stop-color="#0000fd"/><stop offset=".417" stop-color="#002dff"/><stop offset=".444" stop-color="#0036ff"/><stop offset=".507" stop-color="#0015ff"/><stop offset=".576" stop-color="#001bff"/><stop offset=".611" stop-color="#0000fd"/><stop offset=".667" stop-color="#0000ac"/><stop offset=".691" stop-color="#0000a4"/><stop offset=".729" stop-color="#0000c1"/><stop offset=".792" stop-color="#0000fd"/><stop offset=".899" stop-color="#005fff"/><stop offset=".986" stop-color="#00c7ff"/><stop offset="1.000" stop-color="#00daff"/></linearGradient><linearGradient id="g136" gradientUnits="userSpaceOnUse" x1="122.5" y1="0" x2="408.5" y2="0"><stop offset=".000" stop-color="#00c4ff"/><stop offset=".063" stop-color="#007bff"/><stop offset=".147" stop-color="#0001ff"/><stop offset=".210" stop-color="#0000c7"/><stop offset=".294" stop-color="#00008e"/><stop offset=".322" stop-color="#000090"/><stop offset=".350" stop-color="#0000b1"/><stop offset=".395" stop-color="#0003ff"/><stop offset=".423" stop-color="#0021ff"/><stop offset=".451" stop-color="#0020ff"/><stop offset=".503" stop-color="#0000fe"/><stop offset=".584" stop-color="#0002ff"/><stop offset=".612" stop-color="#0000ed"/><stop offset=".668" stop-color="#0000ac"/><stop offset=".696" stop-color="#0000a8"/><stop offset=".745" stop-color="#0000d2"/><stop offset=".794" stop-color="#0001ff"/><stop offset=".927" stop-color="#007fff"/><stop offset="1.000" stop-color="#00dbff"/></linearGradient><linearGradient id="g137" gradientUnits="userSpaceOnUse" x1="123.5" y1="0" x2="407.5" y2="0"><stop offset=".000" stop-color="#00d1ff"/><stop offset=".060" stop-color="#0089ff"/><stop offset=".151" stop-color="#0002ff"/><stop offset=".278" stop-color="#00009b"/><stop offset=".313" stop-color="#000090"/><stop offset=".345" stop-color="#0000a6"/><stop offset=".408" stop-color="#0000fa"/><stop offset=".440" stop-color="#0004ff"/><stop offset=".461" stop-color="#0000f6"/><stop offset=".504" stop-color="#0000d5"/><stop offset=".599" stop-color="#0000d7"/><stop offset=".676" stop-color="#0000ae"/><stop offset=".711" stop-color="#0000ba"/><stop offset=".792" stop-color="#0003ff"/><stop offset=".954" stop-color="#00a8ff"/><stop offset="1.000" stop-color="#00e1ff"/></linearGradient><linearGradient id="g138" gradientUnits="userSpaceOnUse" x1="124.5" y1="0" x2="406.5" y2="0"><stop offset=".000" stop-color="#00d6ff"/><stop offset=".060" stop-color="#008bff"/><stop offset=".145" stop-color="#000bff"/><stop offset=".160" stop-color="#0000fb"/><stop offset=".287" stop-color="#00009a"/><stop offset=".323" stop-color="#000096"/><stop offset=".358" stop-color="#0000b4"/><stop offset=".411" stop-color="#0000f2"/><stop offset=".440" stop-color="#0000f7"/><stop offset=".504" stop-color="#0000c4"/><stop offset=".613" stop-color="#0000c6"/><stop offset=".681" stop-color="#0000b3"/><stop offset=".723" stop-color="#0000c8"/><stop offset=".791" stop-color="#0003ff"/><stop offset=".972" stop-color="#00bfff"/><stop offset="1.000" stop-color="#00e3ff"/></linearGradient><linearGradient id="g139" gradientUnits="userSpaceOnUse" x1="125.5" y1="0" x2="405.5" y2="0"><stop offset=".000" stop-color="#00e1ff"/><stop offset=".061" stop-color="#0095ff"/><stop offset=".143" stop-color="#0018ff"/><stop offset=".171" stop-color="#0000fb"/><stop offset=".289" stop-color="#0000a4"/><stop offset=".329" stop-color="#0000a0"/><stop offset=".368" stop-color="#0000bb"/><stop offset=".414" stop-color="#0000e3"/><stop offset=".439" stop-color="#0000e4"/><stop offset=".504" stop-color="#0000ad"/><stop offset=".611" stop-color="#0000b6"/><stop offset=".693" stop-color="#0000c2"/><stop offset=".786" stop-color="#0002ff"/><stop offset=".904" stop-color="#007eff"/><stop offset="1.000" stop-color="#00ecff"/></linearGradient><linearGradient id="g140" gradientUnits="userSpaceOnUse" x1="127.5" y1="0" x2="403.5" y2="0"><stop offset=".000" stop-color="#00e2ff"/><stop offset=".065" stop-color="#008dff"/><stop offset=".138" stop-color="#0020ff"/><stop offset=".174" stop-color="#0000fc"/><stop offset=".290" stop-color="#0000aa"/><stop offset=".330" stop-color="#0000a5"/><stop offset=".373" stop-color="#0000c0"/><stop offset=".420" stop-color="#0000df"/><stop offset=".449" stop-color="#0000d6"/><stop offset=".504" stop-color="#0000a8"/><stop offset=".594" stop-color="#0000ab"/><stop offset=".699" stop-color="#0000cc"/><stop offset=".786" stop-color="#0003ff"/><stop offset=".859" stop-color="#004cff"/><stop offset="1.000" stop-color="#00ebff"/></linearGradient><linearGradient id="g141" gradientUnits="userSpaceOnUse" x1="128.5" y1="0" x2="402.5" y2="0"><stop offset=".000" stop-color="#00edff"/><stop offset=".066" stop-color="#0098ff"/><stop offset=".139" stop-color="#002fff"/><stop offset=".193" stop-color="#0000fc"/><stop offset=".299" stop-color="#0000b7"/><stop offset=".343" stop-color="#0000b2"/><stop offset=".420" stop-color="#0000d6"/><stop offset=".456" stop-color="#0000ca"/><stop offset=".511" stop-color="#0000a5"/><stop offset=".584" stop-color="#0000a1"/><stop offset=".679" stop-color="#0000ce"/><stop offset=".759" stop-color="#0000f8"/><stop offset=".785" stop-color="#0007ff"/><stop offset=".843" stop-color="#003fff"/><stop offset="1.000" stop-color="#00f7ff"/></linearGradient><linearGradient id="g142" gradientUnits="userSpaceOnUse" x1="129.5" y1="0" x2="401.5" y2="0"><stop offset=".000" stop-color="#00f1ff"/><stop offset=".066" stop-color="#009cff"/><stop offset=".136" stop-color="#0039ff"/><stop offset=".202" stop-color="#0000fe"/><stop offset=".305" stop-color="#0000bd"/><stop offset=".349" stop-color="#0000b9"/><stop offset=".423" stop-color="#0000d4"/><stop offset=".463" stop-color="#0000c6"/><stop offset=".522" stop-color="#0000a5"/><stop offset=".585" stop-color="#0000a0"/><stop offset=".647" stop-color="#0000bf"/><stop offset=".735" stop-color="#0000f6"/><stop offset=".776" stop-color="#0005ff"/><stop offset=".824" stop-color="#002aff"/><stop offset="1.000" stop-color="#00fbff"/></linearGradient><linearGradient id="g143" gradientUnits="userSpaceOnUse" x1="131.5" y1="0" x2="399.5" y2="0"><stop offset=".000" stop-color="#00f9ff"/><stop offset=".067" stop-color="#00a3ff"/><stop offset=".134" stop-color="#004aff"/><stop offset=".216" stop-color="#0006ff"/><stop offset=".250" stop-color="#0000ef"/><stop offset=".325" stop-color="#0000c8"/><stop offset=".377" stop-color="#0000cb"/><stop offset=".437" stop-color="#0000d5"/><stop offset=".563" stop-color="#0000a5"/><stop offset=".608" stop-color="#0000aa"/><stop offset=".690" stop-color="#0000e9"/><stop offset=".724" stop-color="#0002ff"/><stop offset=".795" stop-color="#0014ff"/><stop offset=".843" stop-color="#0043ff"/><stop offset=".993" stop-color="#00fbff"/><stop offset="1.000" stop-color="#05fffa"/></linearGradient><linearGradient id="g144" gradientUnits="userSpaceOnUse" x1="132.5" y1="0" x2="398.5" y2="0"><stop offset=".000" stop-color="#00fdff"/><stop offset=".075" stop-color="#009cff"/><stop offset=".143" stop-color="#0049ff"/><stop offset=".241" stop-color="#0000ff"/><stop offset=".327" stop-color="#0000d0"/><stop offset=".383" stop-color="#0000d1"/><stop offset=".447" stop-color="#0000d8"/><stop offset=".575" stop-color="#0000a9"/><stop offset=".617" stop-color="#0000b2"/><stop offset=".714" stop-color="#0003ff"/><stop offset=".756" stop-color="#000eff"/><stop offset=".801" stop-color="#001bff"/><stop offset=".850" stop-color="#004cff"/><stop offset=".989" stop-color="#00fbff"/><stop offset="1.000" stop-color="#09fff6"/></linearGradient><linearGradient id="g145" gradientUnits="userSpaceOnUse" x1="134.5" y1="0" x2="396.5" y2="0"><stop offset=".000" stop-color="#06fff9"/><stop offset=".019" stop-color="#00f0ff"/><stop offset=".126" stop-color="#006bff"/><stop offset=".210" stop-color="#0028ff"/><stop offset=".279" stop-color="#0000fc"/><stop offset=".344" stop-color="#0000df"/><stop offset=".412" stop-color="#0000e3"/><stop offset=".481" stop-color="#0000e2"/><stop offset=".584" stop-color="#0000b7"/><stop offset=".622" stop-color="#0000bf"/><stop offset=".698" stop-color="#0004ff"/><stop offset=".740" stop-color="#0019ff"/><stop offset=".802" stop-color="#0021ff"/><stop offset=".847" stop-color="#004eff"/><stop offset=".985" stop-color="#00ffff"/><stop offset="1.000" stop-color="#11ffee"/></linearGradient><linearGradient id="g146" gradientUnits="userSpaceOnUse" x1="135.5" y1="0" x2="395.5" y2="0"><stop offset=".000" stop-color="#0afff5"/><stop offset=".015" stop-color="#00f8ff"/><stop offset=".127" stop-color="#0072ff"/><stop offset=".219" stop-color="#002cff"/><stop offset=".296" stop-color="#0000fc"/><stop offset=".362" stop-color="#0000e5"/><stop offset=".477" stop-color="#0000ef"/><stop offset=".527" stop-color="#0000db"/><stop offset=".588" stop-color="#0000c0"/><stop offset=".623" stop-color="#0000c7"/><stop offset=".688" stop-color="#0003ff"/><stop offset=".735" stop-color="#001fff"/><stop offset=".804" stop-color="#0026ff"/><stop offset=".850" stop-color="#0054ff"/><stop offset=".981" stop-color="#00feff"/><stop offset="1.000" stop-color="#16ffe9"/></linearGradient><linearGradient id="g147" gradientUnits="userSpaceOnUse" x1="137.5" y1="0" x2="393.5" y2="0"><stop offset=".000" stop-color="#13ffec"/><stop offset=".020" stop-color="#00fcff"/><stop offset=".125" stop-color="#0086ff"/><stop offset=".230" stop-color="#003aff"/><stop offset=".340" stop-color="#0000ff"/><stop offset=".395" stop-color="#0000fa"/><stop offset=".492" stop-color="#0008ff"/><stop offset=".523" stop-color="#0000fa"/><stop offset=".598" stop-color="#0000d5"/><stop offset=".629" stop-color="#0000dd"/><stop offset=".672" stop-color="#0004ff"/><stop offset=".723" stop-color="#002aff"/><stop offset=".809" stop-color="#0035ff"/><stop offset=".859" stop-color="#0069ff"/><stop offset=".977" stop-color="#02fffd"/><stop offset="1.000" stop-color="#1effe1"/></linearGradient><linearGradient id="g148" gradientUnits="userSpaceOnUse" x1="139.5" y1="0" x2="391.5" y2="0"><stop offset=".000" stop-color="#13ffec"/><stop offset=".020" stop-color="#00fcff"/><stop offset=".123" stop-color="#008eff"/><stop offset=".238" stop-color="#0040ff"/><stop offset=".345" stop-color="#000aff"/><stop offset=".397" stop-color="#0007ff"/><stop offset=".484" stop-color="#0017ff"/><stop offset=".536" stop-color="#0002ff"/><stop offset=".607" stop-color="#0000e1"/><stop offset=".639" stop-color="#0000ef"/><stop offset=".663" stop-color="#0005ff"/><stop offset=".722" stop-color="#0032ff"/><stop offset=".786" stop-color="#0039ff"/><stop offset=".821" stop-color="#0045ff"/><stop offset=".881" stop-color="#0086ff"/><stop offset=".976" stop-color="#01fffe"/><stop offset="1.000" stop-color="#1dffe2"/></linearGradient><linearGradient id="g149" gradientUnits="userSpaceOnUse" x1="141.5" y1="0" x2="389.5" y2="0"><stop offset=".000" stop-color="#1cffe3"/><stop offset=".028" stop-color="#00fdff"/><stop offset=".125" stop-color="#009eff"/><stop offset=".250" stop-color="#0050ff"/><stop offset=".355" stop-color="#0022ff"/><stop offset=".407" stop-color="#0024ff"/><stop offset=".488" stop-color="#0034ff"/><stop offset=".548" stop-color="#001cff"/><stop offset=".609" stop-color="#0003ff"/><stop offset=".645" stop-color="#0011ff"/><stop offset=".722" stop-color="#0047ff"/><stop offset=".819" stop-color="#0057ff"/><stop offset=".867" stop-color="#0081ff"/><stop offset=".968" stop-color="#00feff"/><stop offset="1.000" stop-color="#26ffd9"/></linearGradient><linearGradient id="g150" gradientUnits="userSpaceOnUse" x1="143.5" y1="0" x2="387.5" y2="0"><stop offset=".000" stop-color="#1dffe2"/><stop offset=".033" stop-color="#00faff"/><stop offset=".127" stop-color="#00a3ff"/><stop offset=".254" stop-color="#0059ff"/><stop offset=".352" stop-color="#0030ff"/><stop offset=".410" stop-color="#0034ff"/><stop offset=".488" stop-color="#0043ff"/><stop offset=".553" stop-color="#002bff"/><stop offset=".615" stop-color="#0016ff"/><stop offset=".660" stop-color="#002aff"/><stop offset=".730" stop-color="#0054ff"/><stop offset=".824" stop-color="#0064ff"/><stop offset=".873" stop-color="#008dff"/><stop offset=".971" stop-color="#04fffb"/><stop offset="1.000" stop-color="#26ffd9"/></linearGradient><linearGradient id="g151" gradientUnits="userSpaceOnUse" x1="146.5" y1="0" x2="384.5" y2="0"><stop offset=".000" stop-color="#24ffdb"/><stop offset=".038" stop-color="#00feff"/><stop offset=".134" stop-color="#00afff"/><stop offset=".261" stop-color="#006eff"/><stop offset=".353" stop-color="#004eff"/><stop offset=".424" stop-color="#0057ff"/><stop offset=".496" stop-color="#0063ff"/><stop offset=".618" stop-color="#003eff"/><stop offset=".668" stop-color="#004dff"/><stop offset=".739" stop-color="#006fff"/><stop offset=".828" stop-color="#007cff"/><stop offset=".882" stop-color="#00a5ff"/><stop offset=".962" stop-color="#00ffff"/><stop offset="1.000" stop-color="#2cffd3"/></linearGradient><linearGradient id="g152" gradientUnits="userSpaceOnUse" x1="148.5" y1="0" x2="382.5" y2="0"><stop offset=".000" stop-color="#25ffda"/><stop offset=".043" stop-color="#00fdff"/><stop offset=".141" stop-color="#00b3ff"/><stop offset=".269" stop-color="#0076ff"/><stop offset=".350" stop-color="#005dff"/><stop offset=".432" stop-color="#0069ff"/><stop offset=".500" stop-color="#0073ff"/><stop offset=".620" stop-color="#0053ff"/><stop offset=".675" stop-color="#0060ff"/><stop offset=".744" stop-color="#007cff"/><stop offset=".833" stop-color="#008aff"/><stop offset=".889" stop-color="#00b2ff"/><stop offset=".962" stop-color="#01fffe"/><stop offset="1.000" stop-color="#2dffd2"/></linearGradient><linearGradient id="g153" gradientUnits="userSpaceOnUse" x1="150.5" y1="0" x2="380.5" y2="0"><stop offset=".000" stop-color="#32ffcd"/><stop offset=".061" stop-color="#00fdff"/><stop offset=".170" stop-color="#00b8ff"/><stop offset=".322" stop-color="#0080ff"/><stop offset=".396" stop-color="#0081ff"/><stop offset=".500" stop-color="#0095ff"/><stop offset=".630" stop-color="#007bff"/><stop offset=".700" stop-color="#0089ff"/><stop offset=".774" stop-color="#0098ff"/><stop offset=".843" stop-color="#00a8ff"/><stop offset=".904" stop-color="#00d4ff"/><stop offset=".948" stop-color="#01fffe"/><stop offset="1.000" stop-color="#39ffc6"/></linearGradient><linearGradient id="g154" gradientUnits="userSpaceOnUse" x1="153.5" y1="0" x2="377.5" y2="0"><stop offset=".000" stop-color="#31ffce"/><stop offset=".067" stop-color="#00fbff"/><stop offset=".179" stop-color="#00bcff"/><stop offset=".321" stop-color="#008eff"/><stop offset=".402" stop-color="#0093ff"/><stop offset=".504" stop-color="#00a6ff"/><stop offset=".643" stop-color="#008dff"/><stop offset=".844" stop-color="#00b2ff"/><stop offset=".906" stop-color="#00daff"/><stop offset=".951" stop-color="#05fffa"/><stop offset="1.000" stop-color="#37ffc8"/></linearGradient><linearGradient id="g155" gradientUnits="userSpaceOnUse" x1="156.5" y1="0" x2="374.5" y2="0"><stop offset=".000" stop-color="#3cffc3"/><stop offset=".087" stop-color="#00feff"/><stop offset=".206" stop-color="#00c6ff"/><stop offset=".326" stop-color="#00aaff"/><stop offset=".431" stop-color="#00baff"/><stop offset=".509" stop-color="#00c6ff"/><stop offset=".679" stop-color="#00b0ff"/><stop offset=".849" stop-color="#00ccff"/><stop offset=".917" stop-color="#00f5ff"/><stop offset=".936" stop-color="#05fffa"/><stop offset="1.000" stop-color="#41ffbe"/></linearGradient><linearGradient id="g156" gradientUnits="userSpaceOnUse" x1="159.5" y1="0" x2="371.5" y2="0"><stop offset=".000" stop-color="#3cffc3"/><stop offset=".099" stop-color="#00fcff"/><stop offset=".222" stop-color="#00cbff"/><stop offset=".325" stop-color="#00b9ff"/><stop offset=".509" stop-color="#00d5ff"/><stop offset=".693" stop-color="#00c0ff"/><stop offset=".849" stop-color="#00d6ff"/><stop offset=".920" stop-color="#00fcff"/><stop offset=".995" stop-color="#3cffc3"/><stop offset="1.000" stop-color="#40ffbf"/></linearGradient><linearGradient id="g157" gradientUnits="userSpaceOnUse" x1="162.5" y1="0" x2="368.5" y2="0"><stop offset=".000" stop-color="#49ffb6"/><stop offset=".131" stop-color="#01fffe"/><stop offset=".262" stop-color="#00d9ff"/><stop offset=".354" stop-color="#00d8ff"/><stop offset=".510" stop-color="#00f3ff"/><stop offset=".718" stop-color="#00dcff"/><stop offset=".850" stop-color="#00eeff"/><stop offset=".898" stop-color="#03fffc"/><stop offset=".995" stop-color="#49ffb6"/><stop offset="1.000" stop-color="#4dffb2"/></linearGradient><linearGradient id="g158" gradientUnits="userSpaceOnUse" x1="165.5" y1="0" x2="365.5" y2="0"><stop offset=".000" stop-color="#4bffb4"/><stop offset=".135" stop-color="#07fff8"/><stop offset=".180" stop-color="#00f6ff"/><stop offset=".295" stop-color="#00e3ff"/><stop offset=".420" stop-color="#00f4ff"/><stop offset=".510" stop-color="#02fffd"/><stop offset=".740" stop-color="#00eaff"/><stop offset=".860" stop-color="#00fbff"/><stop offset=".915" stop-color="#13ffec"/><stop offset="1.000" stop-color="#4effb1"/></linearGradient><linearGradient id="g159" gradientUnits="userSpaceOnUse" x1="168.5" y1="0" x2="362.5" y2="0"><stop offset=".000" stop-color="#59ffa6"/><stop offset=".139" stop-color="#19ffe6"/><stop offset=".253" stop-color="#00ffff"/><stop offset=".366" stop-color="#07fff8"/><stop offset=".510" stop-color="#1effe1"/><stop offset=".753" stop-color="#04fffb"/><stop offset=".866" stop-color="#15ffea"/><stop offset=".959" stop-color="#41ffbe"/><stop offset="1.000" stop-color="#5dffa2"/></linearGradient><linearGradient id="g160" gradientUnits="userSpaceOnUse" x1="172.5" y1="0" x2="358.5" y2="0"><stop offset=".000" stop-color="#5affa5"/><stop offset=".145" stop-color="#1fffe0"/><stop offset=".258" stop-color="#0cfff3"/><stop offset=".387" stop-color="#1bffe4"/><stop offset=".516" stop-color="#2cffd3"/><stop offset=".769" stop-color="#11ffee"/><stop offset=".882" stop-color="#22ffdd"/><stop offset=".978" stop-color="#4effb1"/><stop offset="1.000" stop-color="#5cffa3"/></linearGradient><linearGradient id="g161" gradientUnits="userSpaceOnUse" x1="176.5" y1="0" x2="354.5" y2="0"><stop offset=".000" stop-color="#68ff97"/><stop offset=".146" stop-color="#33ffcc"/><stop offset=".258" stop-color="#25ffda"/><stop offset=".511" stop-color="#47ffb8"/><stop offset=".674" stop-color="#34ffcb"/><stop offset=".798" stop-color="#2affd5"/><stop offset=".910" stop-color="#40ffbf"/><stop offset="1.000" stop-color="#6aff95"/></linearGradient><linearGradient id="g162" gradientUnits="userSpaceOnUse" x1="180.5" y1="0" x2="350.5" y2="0"><stop offset=".000" stop-color="#6aff95"/><stop offset=".147" stop-color="#3bffc4"/><stop offset=".259" stop-color="#33ffcc"/><stop offset=".512" stop-color="#55ffaa"/><stop offset=".676" stop-color="#42ffbd"/><stop offset=".806" stop-color="#35ffca"/><stop offset=".918" stop-color="#4affb5"/><stop offset="1.000" stop-color="#6bff94"/></linearGradient><linearGradient id="g163" gradientUnits="userSpaceOnUse" x1="185.5" y1="0" x2="345.5" y2="0"><stop offset=".000" stop-color="#78ff87"/><stop offset=".150" stop-color="#50ffaf"/><stop offset=".263" stop-color="#4fffb0"/><stop offset=".500" stop-color="#70ff8f"/><stop offset=".650" stop-color="#62ff9d"/><stop offset=".812" stop-color="#4dffb2"/><stop offset=".925" stop-color="#5fffa0"/><stop offset="1.000" stop-color="#79ff86"/></linearGradient><linearGradient id="g164" gradientUnits="userSpaceOnUse" x1="190.5" y1="0" x2="340.5" y2="0"><stop offset=".000" stop-color="#7aff85"/><stop offset=".147" stop-color="#5affa5"/><stop offset=".273" stop-color="#5fffa0"/><stop offset=".500" stop-color="#7eff81"/><stop offset=".660" stop-color="#6fff90"/><stop offset=".833" stop-color="#5affa5"/><stop offset=".953" stop-color="#6cff93"/><stop offset="1.000" stop-color="#7aff85"/></linearGradient><linearGradient id="g165" gradientUnits="userSpaceOnUse" x1="196.5" y1="0" x2="334.5" y2="0"><stop offset=".000" stop-color="#88ff77"/><stop offset=".145" stop-color="#72ff8d"/><stop offset=".326" stop-color="#85ff7a"/><stop offset=".507" stop-color="#99ff66"/><stop offset=".681" stop-color="#89ff76"/><stop offset=".862" stop-color="#73ff8c"/><stop offset=".993" stop-color="#87ff78"/><stop offset="1.000" stop-color="#89ff76"/></linearGradient><linearGradient id="g166" gradientUnits="userSpaceOnUse" x1="202.5" y1="0" x2="328.5" y2="0"><stop offset=".000" stop-color="#8cff73"/><stop offset=".135" stop-color="#80ff7f"/><stop offset=".500" stop-color="#a7ff58"/><stop offset=".690" stop-color="#97ff68"/><stop offset=".897" stop-color="#80ff7f"/><stop offset="1.000" stop-color="#8cff73"/></linearGradient><linearGradient id="g167" gradientUnits="userSpaceOnUse" x1="209.5" y1="0" x2="321.5" y2="0"><stop offset=".000" stop-color="#9fff60"/><stop offset=".143" stop-color="#9eff61"/><stop offset=".491" stop-color="#c2ff3d"/><stop offset=".696" stop-color="#b4ff4b"/><stop offset=".946" stop-color="#9bff64"/><stop offset="1.000" stop-color="#9fff60"/></linearGradient><linearGradient id="g168" gradientUnits="userSpaceOnUse" x1="218.5" y1="0" x2="312.5" y2="0"><stop offset=".000" stop-color="#a9ff56"/><stop offset=".511" stop-color="#d0ff2f"/><stop offset=".787" stop-color="#bcff43"/><stop offset="1.000" stop-color="#aaff55"/></linearGradient><linearGradient id="g169" gradientUnits="userSpaceOnUse" x1="228.5" y1="0" x2="302.5" y2="0"><stop offset=".000" stop-color="#ccff33"/><stop offset=".500" stop-color="#ecff13"/><stop offset=".865" stop-color="#d9ff26"/><stop offset="1.000" stop-color="#ceff31"/></linearGradient><linearGradient id="g170" gradientUnits="userSpaceOnUse" x1="245.5" y1="0" x2="285.5" y2="0"><stop offset=".000" stop-color="#ecff13"/><stop offset=".575" stop-color="#faff05"/><stop offset="1.000" stop-color="#eeff11"/></linearGradient><radialGradient id="h171" gradientUnits="userSpaceOnUse" cx="788.5" cy="1304.5" r="160"><stop offset="0.91" stop-color="#dcebf5"/><stop offset="0.96" stop-color="#eef4f9"/><stop offset="1" stop-color="#fff"/></radialGradient><clipPath id="c172"><circle cx="788.5" cy="1304.5" r="147"/></clipPath><linearGradient id="g173" gradientUnits="userSpaceOnUse" x1="761.5" y1="0" x2="815.5" y2="0"><stop offset=".000" stop-color="#0000d3"/><stop offset=".463" stop-color="#0000fc"/><stop offset=".704" stop-color="#0000ef"/><stop offset="1.000" stop-color="#0000ce"/></linearGradient><linearGradient id="g174" gradientUnits="userSpaceOnUse" x1="747.5" y1="0" x2="829.5" y2="0"><stop offset=".000" stop-color="#0000d0"/><stop offset=".220" stop-color="#0000e6"/><stop offset=".390" stop-color="#0003ff"/><stop offset=".524" stop-color="#000aff"/><stop offset=".646" stop-color="#0000fa"/><stop offset=".939" stop-color="#0000cc"/><stop offset="1.000" stop-color="#0000c8"/></linearGradient><linearGradient id="g175" gradientUnits="userSpaceOnUse" x1="738.5" y1="0" x2="838.5" y2="0"><stop offset=".000" stop-color="#0000d6"/><stop offset=".170" stop-color="#0000da"/><stop offset=".380" stop-color="#0003ff"/><stop offset=".510" stop-color="#0010ff"/><stop offset=".640" stop-color="#0000fb"/><stop offset=".860" stop-color="#0000d1"/><stop offset="1.000" stop-color="#0000cd"/></linearGradient><linearGradient id="g176" gradientUnits="userSpaceOnUse" x1="730.5" y1="0" x2="846.5" y2="0"><stop offset=".000" stop-color="#0000e9"/><stop offset=".155" stop-color="#0000dd"/><stop offset=".293" stop-color="#0000f2"/><stop offset=".362" stop-color="#0004ff"/><stop offset=".491" stop-color="#001aff"/><stop offset=".603" stop-color="#000aff"/><stop offset=".664" stop-color="#0000f9"/><stop offset=".819" stop-color="#0000d8"/><stop offset=".966" stop-color="#0000db"/><stop offset="1.000" stop-color="#0000de"/></linearGradient><linearGradient id="g177" gradientUnits="userSpaceOnUse" x1="723.5" y1="0" x2="853.5" y2="0"><stop offset=".000" stop-color="#0000f7"/><stop offset=".177" stop-color="#0000e0"/><stop offset=".292" stop-color="#0000ef"/><stop offset=".362" stop-color="#0004ff"/><stop offset=".477" stop-color="#001dff"/><stop offset=".569" stop-color="#0015ff"/><stop offset=".654" stop-color="#0000fb"/><stop offset=".785" stop-color="#0000dc"/><stop offset=".908" stop-color="#0000df"/><stop offset="1.000" stop-color="#0000eb"/></linearGradient><linearGradient id="g178" gradientUnits="userSpaceOnUse" x1="717.5" y1="0" x2="859.5" y2="0"><stop offset=".000" stop-color="#0007ff"/><stop offset=".085" stop-color="#0000fa"/><stop offset=".204" stop-color="#0000e5"/><stop offset=".296" stop-color="#0000f2"/><stop offset=".352" stop-color="#0006ff"/><stop offset=".472" stop-color="#0026ff"/><stop offset=".556" stop-color="#0020ff"/><stop offset=".662" stop-color="#0000fc"/><stop offset=".768" stop-color="#0000e1"/><stop offset=".873" stop-color="#0000e8"/><stop offset="1.000" stop-color="#0000fb"/></linearGradient><linearGradient id="g179" gradientUnits="userSpaceOnUse" x1="711.5" y1="0" x2="865.5" y2="0"><stop offset=".000" stop-color="#0005ff"/><stop offset=".065" stop-color="#000bff"/><stop offset=".130" stop-color="#0000fa"/><stop offset=".234" stop-color="#0000e7"/><stop offset=".318" stop-color="#0000f7"/><stop offset=".357" stop-color="#0007ff"/><stop offset=".468" stop-color="#002aff"/><stop offset=".545" stop-color="#0026ff"/><stop offset=".662" stop-color="#0000fb"/><stop offset=".753" stop-color="#0000e3"/><stop offset=".851" stop-color="#0000ee"/><stop offset=".948" stop-color="#0002ff"/><stop offset="1.000" stop-color="#0000fa"/></linearGradient><linearGradient id="g180" gradientUnits="userSpaceOnUse" x1="707.5" y1="0" x2="869.5" y2="0"><stop offset=".000" stop-color="#0005ff"/><stop offset=".074" stop-color="#0013ff"/><stop offset=".160" stop-color="#0000fc"/><stop offset=".247" stop-color="#0000eb"/><stop offset=".321" stop-color="#0000fc"/><stop offset=".463" stop-color="#0035ff"/><stop offset=".537" stop-color="#0033ff"/><stop offset=".654" stop-color="#0004ff"/><stop offset=".747" stop-color="#0000e8"/><stop offset=".840" stop-color="#0000f7"/><stop offset=".895" stop-color="#0006ff"/><stop offset=".963" stop-color="#0008ff"/><stop offset="1.000" stop-color="#0000fd"/></linearGradient><linearGradient id="g181" gradientUnits="userSpaceOnUse" x1="702.5" y1="0" x2="874.5" y2="0"><stop offset=".000" stop-color="#0000fc"/><stop offset=".093" stop-color="#0015ff"/><stop offset=".192" stop-color="#0000fa"/><stop offset=".267" stop-color="#0000ed"/><stop offset=".337" stop-color="#0004ff"/><stop offset=".453" stop-color="#0039ff"/><stop offset=".523" stop-color="#003cff"/><stop offset=".610" stop-color="#001bff"/><stop offset=".669" stop-color="#0000fc"/><stop offset=".733" stop-color="#0000eb"/><stop offset=".820" stop-color="#0000fa"/><stop offset=".919" stop-color="#000eff"/><stop offset=".988" stop-color="#0000fc"/><stop offset="1.000" stop-color="#0000f7"/></linearGradient><linearGradient id="g182" gradientUnits="userSpaceOnUse" x1="698.5" y1="0" x2="878.5" y2="0"><stop offset=".000" stop-color="#0000f9"/><stop offset=".050" stop-color="#000cff"/><stop offset=".122" stop-color="#0016ff"/><stop offset=".222" stop-color="#0000fa"/><stop offset=".283" stop-color="#0000f4"/><stop offset=".328" stop-color="#0005ff"/><stop offset=".444" stop-color="#0045ff"/><stop offset=".511" stop-color="#004eff"/><stop offset=".583" stop-color="#0035ff"/><stop offset=".678" stop-color="#0000fe"/><stop offset=".733" stop-color="#0000f1"/><stop offset=".811" stop-color="#0004ff"/><stop offset=".894" stop-color="#0013ff"/><stop offset=".989" stop-color="#0000fb"/><stop offset="1.000" stop-color="#0000f7"/></linearGradient><linearGradient id="g183" gradientUnits="userSpaceOnUse" x1="694.5" y1="0" x2="882.5" y2="0"><stop offset=".000" stop-color="#0000f3"/><stop offset=".048" stop-color="#0006ff"/><stop offset=".128" stop-color="#0017ff"/><stop offset=".218" stop-color="#0004ff"/><stop offset=".293" stop-color="#0000f7"/><stop offset=".324" stop-color="#0004ff"/><stop offset=".441" stop-color="#004cff"/><stop offset=".505" stop-color="#0057ff"/><stop offset=".569" stop-color="#0044ff"/><stop offset=".681" stop-color="#0000fe"/><stop offset=".729" stop-color="#0000f6"/><stop offset=".787" stop-color="#0005ff"/><stop offset=".872" stop-color="#0016ff"/><stop offset=".957" stop-color="#0003ff"/><stop offset="1.000" stop-color="#0000f2"/></linearGradient><linearGradient id="g184" gradientUnits="userSpaceOnUse" x1="690.5" y1="0" x2="886.5" y2="0"><stop offset=".000" stop-color="#0000f1"/><stop offset=".056" stop-color="#0005ff"/><stop offset=".148" stop-color="#0019ff"/><stop offset=".255" stop-color="#0006ff"/><stop offset=".306" stop-color="#0005ff"/><stop offset=".378" stop-color="#0038ff"/><stop offset=".449" stop-color="#0064ff"/><stop offset=".505" stop-color="#006dff"/><stop offset=".566" stop-color="#0059ff"/><stop offset=".689" stop-color="#0006ff"/><stop offset=".740" stop-color="#0007ff"/><stop offset=".847" stop-color="#001bff"/><stop offset=".934" stop-color="#000aff"/><stop offset=".980" stop-color="#0000f8"/><stop offset="1.000" stop-color="#0000f0"/></linearGradient><linearGradient id="g185" gradientUnits="userSpaceOnUse" x1="687.5" y1="0" x2="889.5" y2="0"><stop offset=".000" stop-color="#0000ee"/><stop offset=".064" stop-color="#0005ff"/><stop offset=".163" stop-color="#001aff"/><stop offset=".307" stop-color="#000bff"/><stop offset=".356" stop-color="#002eff"/><stop offset=".436" stop-color="#006aff"/><stop offset=".495" stop-color="#007aff"/><stop offset=".554" stop-color="#006aff"/><stop offset=".644" stop-color="#0029ff"/><stop offset=".688" stop-color="#000cff"/><stop offset=".757" stop-color="#0015ff"/><stop offset=".847" stop-color="#001eff"/><stop offset=".965" stop-color="#0000fb"/><stop offset="1.000" stop-color="#0000ee"/></linearGradient><linearGradient id="g186" gradientUnits="userSpaceOnUse" x1="684.5" y1="0" x2="892.5" y2="0"><stop offset=".000" stop-color="#0000ef"/><stop offset=".072" stop-color="#0005ff"/><stop offset=".202" stop-color="#0022ff"/><stop offset=".312" stop-color="#0025ff"/><stop offset=".380" stop-color="#005dff"/><stop offset=".447" stop-color="#008cff"/><stop offset=".505" stop-color="#0096ff"/><stop offset=".562" stop-color="#0081ff"/><stop offset=".683" stop-color="#0025ff"/><stop offset=".832" stop-color="#0026ff"/><stop offset=".962" stop-color="#0000fc"/><stop offset="1.000" stop-color="#0000ef"/></linearGradient><linearGradient id="g187" gradientUnits="userSpaceOnUse" x1="681.5" y1="0" x2="895.5" y2="0"><stop offset=".000" stop-color="#0000ef"/><stop offset=".079" stop-color="#0005ff"/><stop offset=".238" stop-color="#002bff"/><stop offset=".318" stop-color="#0037ff"/><stop offset=".430" stop-color="#0092ff"/><stop offset=".486" stop-color="#00a6ff"/><stop offset=".542" stop-color="#009bff"/><stop offset=".612" stop-color="#006aff"/><stop offset=".678" stop-color="#0037ff"/><stop offset=".832" stop-color="#0028ff"/><stop offset=".958" stop-color="#0000fb"/><stop offset="1.000" stop-color="#0000ed"/></linearGradient><linearGradient id="g188" gradientUnits="userSpaceOnUse" x1="678.5" y1="0" x2="898.5" y2="0"><stop offset=".000" stop-color="#0000f2"/><stop offset=".082" stop-color="#0005ff"/><stop offset=".282" stop-color="#004dff"/><stop offset=".341" stop-color="#006eff"/><stop offset=".427" stop-color="#00b5ff"/><stop offset=".486" stop-color="#00c8ff"/><stop offset=".545" stop-color="#00bbff"/><stop offset=".623" stop-color="#0084ff"/><stop offset=".682" stop-color="#005aff"/><stop offset=".836" stop-color="#002bff"/><stop offset=".950" stop-color="#0000fd"/><stop offset="1.000" stop-color="#0000ef"/></linearGradient><linearGradient id="g189" gradientUnits="userSpaceOnUse" x1="675.5" y1="0" x2="901.5" y2="0"><stop offset=".000" stop-color="#0000f3"/><stop offset=".084" stop-color="#0004ff"/><stop offset=".195" stop-color="#002cff"/><stop offset=".332" stop-color="#007bff"/><stop offset=".429" stop-color="#00c9ff"/><stop offset=".487" stop-color="#00dbff"/><stop offset=".544" stop-color="#00ceff"/><stop offset=".624" stop-color="#0096ff"/><stop offset=".690" stop-color="#0069ff"/><stop offset=".858" stop-color="#0021ff"/><stop offset=".947" stop-color="#0000fc"/><stop offset="1.000" stop-color="#0000ef"/></linearGradient><linearGradient id="g190" gradientUnits="userSpaceOnUse" x1="672.5" y1="0" x2="904.5" y2="0"><stop offset=".000" stop-color="#0000f9"/><stop offset=".086" stop-color="#0006ff"/><stop offset=".181" stop-color="#0028ff"/><stop offset=".284" stop-color="#007aff"/><stop offset=".397" stop-color="#00dfff"/><stop offset=".461" stop-color="#00ffff"/><stop offset=".534" stop-color="#00fbff"/><stop offset=".608" stop-color="#00ceff"/><stop offset=".819" stop-color="#0039ff"/><stop offset=".922" stop-color="#0004ff"/><stop offset="1.000" stop-color="#0000f3"/></linearGradient><linearGradient id="g191" gradientUnits="userSpaceOnUse" x1="670.5" y1="0" x2="906.5" y2="0"><stop offset=".000" stop-color="#0000fd"/><stop offset=".093" stop-color="#0008ff"/><stop offset=".182" stop-color="#0029ff"/><stop offset=".263" stop-color="#0070ff"/><stop offset=".369" stop-color="#00e0ff"/><stop offset=".415" stop-color="#02fffd"/><stop offset=".479" stop-color="#19ffe6"/><stop offset=".538" stop-color="#0ffff0"/><stop offset=".576" stop-color="#00fbff"/><stop offset=".847" stop-color="#0027ff"/><stop offset=".932" stop-color="#0000ff"/><stop offset="1.000" stop-color="#0000f5"/></linearGradient><linearGradient id="g192" gradientUnits="userSpaceOnUse" x1="668.5" y1="0" x2="908.5" y2="0"><stop offset=".000" stop-color="#0007ff"/><stop offset=".092" stop-color="#000aff"/><stop offset=".171" stop-color="#0029ff"/><stop offset=".225" stop-color="#0057ff"/><stop offset=".300" stop-color="#00baff"/><stop offset=".350" stop-color="#00ffff"/><stop offset=".417" stop-color="#32ffcd"/><stop offset=".479" stop-color="#45ffba"/><stop offset=".542" stop-color="#3bffc4"/><stop offset=".625" stop-color="#08fff7"/><stop offset=".646" stop-color="#00f7ff"/><stop offset=".825" stop-color="#003bff"/><stop offset=".900" stop-color="#000aff"/><stop offset=".950" stop-color="#0000fc"/><stop offset="1.000" stop-color="#0000fa"/></linearGradient><linearGradient id="g193" gradientUnits="userSpaceOnUse" x1="666.5" y1="0" x2="910.5" y2="0"><stop offset=".000" stop-color="#000cff"/><stop offset=".086" stop-color="#000aff"/><stop offset=".164" stop-color="#0026ff"/><stop offset=".217" stop-color="#0052ff"/><stop offset=".283" stop-color="#00aaff"/><stop offset=".336" stop-color="#03fffc"/><stop offset=".373" stop-color="#2cffd3"/><stop offset=".443" stop-color="#55ffaa"/><stop offset=".504" stop-color="#5cffa3"/><stop offset=".570" stop-color="#45ffba"/><stop offset=".656" stop-color="#05fffa"/><stop offset=".680" stop-color="#00e8ff"/><stop offset=".807" stop-color="#004cff"/><stop offset=".877" stop-color="#0014ff"/><stop offset=".934" stop-color="#0000fe"/><stop offset="1.000" stop-color="#0000fd"/></linearGradient><linearGradient id="g194" gradientUnits="userSpaceOnUse" x1="663.5" y1="0" x2="913.5" y2="0"><stop offset=".000" stop-color="#0019ff"/><stop offset=".076" stop-color="#000dff"/><stop offset=".144" stop-color="#001fff"/><stop offset=".200" stop-color="#0047ff"/><stop offset=".252" stop-color="#0089ff"/><stop offset=".316" stop-color="#00fcff"/><stop offset=".356" stop-color="#44ffbb"/><stop offset=".412" stop-color="#74ff8b"/><stop offset=".472" stop-color="#8bff74"/><stop offset=".536" stop-color="#84ff7b"/><stop offset=".612" stop-color="#58ffa7"/><stop offset=".660" stop-color="#2affd5"/><stop offset=".688" stop-color="#00ffff"/><stop offset=".796" stop-color="#005eff"/><stop offset=".856" stop-color="#001fff"/><stop offset=".912" stop-color="#0002ff"/><stop offset="1.000" stop-color="#0005ff"/></linearGradient><linearGradient id="g195" gradientUnits="userSpaceOnUse" x1="662.5" y1="0" x2="914.5" y2="0"><stop offset=".000" stop-color="#0020ff"/><stop offset=".075" stop-color="#0010ff"/><stop offset=".139" stop-color="#001eff"/><stop offset=".198" stop-color="#004aff"/><stop offset=".250" stop-color="#008dff"/><stop offset=".310" stop-color="#00fcff"/><stop offset=".357" stop-color="#57ffa8"/><stop offset=".405" stop-color="#86ff79"/><stop offset=".464" stop-color="#a2ff5d"/><stop offset=".528" stop-color="#9fff60"/><stop offset=".595" stop-color="#7cff83"/><stop offset=".651" stop-color="#49ffb6"/><stop offset=".698" stop-color="#00feff"/><stop offset=".794" stop-color="#0064ff"/><stop offset=".849" stop-color="#0025ff"/><stop offset=".901" stop-color="#0005ff"/><stop offset=".964" stop-color="#0002ff"/><stop offset="1.000" stop-color="#0008ff"/></linearGradient><linearGradient id="g196" gradientUnits="userSpaceOnUse" x1="660.5" y1="0" x2="916.5" y2="0"><stop offset=".000" stop-color="#002eff"/><stop offset=".074" stop-color="#0016ff"/><stop offset=".133" stop-color="#001fff"/><stop offset=".188" stop-color="#0046ff"/><stop offset=".238" stop-color="#0087ff"/><stop offset=".289" stop-color="#00e4ff"/><stop offset=".301" stop-color="#00fdff"/><stop offset=".359" stop-color="#78ff87"/><stop offset=".402" stop-color="#afff50"/><stop offset=".453" stop-color="#d0ff2f"/><stop offset=".512" stop-color="#d5ff2a"/><stop offset=".574" stop-color="#bbff44"/><stop offset=".633" stop-color="#87ff78"/><stop offset=".676" stop-color="#46ffb9"/><stop offset=".715" stop-color="#00fbff"/><stop offset=".793" stop-color="#006cff"/><stop offset=".844" stop-color="#0029ff"/><stop offset=".891" stop-color="#0007ff"/><stop offset=".941" stop-color="#0001ff"/><stop offset="1.000" stop-color="#000fff"/></linearGradient><linearGradient id="g197" gradientUnits="userSpaceOnUse" x1="658.5" y1="0" x2="918.5" y2="0"><stop offset=".000" stop-color="#0039ff"/><stop offset=".073" stop-color="#001aff"/><stop offset=".127" stop-color="#001dff"/><stop offset=".177" stop-color="#003dff"/><stop offset=".231" stop-color="#007dff"/><stop offset=".281" stop-color="#00d7ff"/><stop offset=".300" stop-color="#01fffe"/><stop offset=".362" stop-color="#89ff76"/><stop offset=".400" stop-color="#c0ff3f"/><stop offset=".446" stop-color="#e5ff1a"/><stop offset=".500" stop-color="#f0ff0f"/><stop offset=".558" stop-color="#ddff22"/><stop offset=".615" stop-color="#aeff51"/><stop offset=".658" stop-color="#74ff8b"/><stop offset=".715" stop-color="#03fffc"/><stop offset=".796" stop-color="#0065ff"/><stop offset=".846" stop-color="#0023ff"/><stop offset=".892" stop-color="#0004ff"/><stop offset=".946" stop-color="#0004ff"/><stop offset="1.000" stop-color="#0014ff"/></linearGradient><linearGradient id="g198" gradientUnits="userSpaceOnUse" x1="656.5" y1="0" x2="920.5" y2="0"><stop offset=".000" stop-color="#004aff"/><stop offset=".080" stop-color="#001fff"/><stop offset=".129" stop-color="#0021ff"/><stop offset=".174" stop-color="#003fff"/><stop offset=".227" stop-color="#0082ff"/><stop offset=".277" stop-color="#00dbff"/><stop offset=".292" stop-color="#00fcff"/><stop offset=".371" stop-color="#b8ff47"/><stop offset=".409" stop-color="#f3ff0c"/><stop offset=".424" stop-color="#fffb00"/><stop offset=".470" stop-color="#ffdf00"/><stop offset=".523" stop-color="#ffdf00"/><stop offset=".580" stop-color="#feff01"/><stop offset=".629" stop-color="#c5ff3a"/><stop offset=".674" stop-color="#74ff8b"/><stop offset=".727" stop-color="#00fbff"/><stop offset=".788" stop-color="#0077ff"/><stop offset=".833" stop-color="#002fff"/><stop offset=".875" stop-color="#0009ff"/><stop offset=".917" stop-color="#0000ff"/><stop offset=".996" stop-color="#001cff"/><stop offset="1.000" stop-color="#001dff"/></linearGradient><linearGradient id="g199" gradientUnits="userSpaceOnUse" x1="655.5" y1="0" x2="921.5" y2="0"><stop offset=".000" stop-color="#0054ff"/><stop offset=".079" stop-color="#0023ff"/><stop offset=".124" stop-color="#0020ff"/><stop offset=".169" stop-color="#003bff"/><stop offset=".222" stop-color="#007dff"/><stop offset=".274" stop-color="#00dcff"/><stop offset=".289" stop-color="#00feff"/><stop offset=".372" stop-color="#c9ff36"/><stop offset=".402" stop-color="#feff01"/><stop offset=".444" stop-color="#ffd300"/><stop offset=".489" stop-color="#ffc200"/><stop offset=".541" stop-color="#ffcd00"/><stop offset=".594" stop-color="#fff800"/><stop offset=".605" stop-color="#f9ff06"/><stop offset=".650" stop-color="#b4ff4b"/><stop offset=".707" stop-color="#36ffc9"/><stop offset=".729" stop-color="#00feff"/><stop offset=".789" stop-color="#0076ff"/><stop offset=".835" stop-color="#002dff"/><stop offset=".876" stop-color="#0007ff"/><stop offset=".917" stop-color="#0000ff"/><stop offset=".996" stop-color="#0021ff"/><stop offset="1.000" stop-color="#0023ff"/></linearGradient><linearGradient id="g200" gradientUnits="userSpaceOnUse" x1="653.5" y1="0" x2="923.5" y2="0"><stop offset=".000" stop-color="#0067ff"/><stop offset=".085" stop-color="#0029ff"/><stop offset=".126" stop-color="#0023ff"/><stop offset=".167" stop-color="#003bff"/><stop offset=".215" stop-color="#007aff"/><stop offset=".270" stop-color="#00e0ff"/><stop offset=".285" stop-color="#02fffd"/><stop offset=".337" stop-color="#8aff75"/><stop offset=".381" stop-color="#fdff02"/><stop offset=".422" stop-color="#ffba00"/><stop offset=".463" stop-color="#ff9600"/><stop offset=".507" stop-color="#ff8e00"/><stop offset=".556" stop-color="#ffa400"/><stop offset=".604" stop-color="#ffd800"/><stop offset=".630" stop-color="#fdff02"/><stop offset=".674" stop-color="#9fff60"/><stop offset=".733" stop-color="#02fffd"/><stop offset=".793" stop-color="#0071ff"/><stop offset=".833" stop-color="#002cff"/><stop offset=".870" stop-color="#0007ff"/><stop offset=".907" stop-color="#0000ff"/><stop offset=".974" stop-color="#001eff"/><stop offset="1.000" stop-color="#0030ff"/></linearGradient><linearGradient id="g201" gradientUnits="userSpaceOnUse" x1="652.5" y1="0" x2="924.5" y2="0"><stop offset=".000" stop-color="#0071ff"/><stop offset=".088" stop-color="#002bff"/><stop offset=".129" stop-color="#0024ff"/><stop offset=".165" stop-color="#0039ff"/><stop offset=".210" stop-color="#0074ff"/><stop offset=".268" stop-color="#00e2ff"/><stop offset=".283" stop-color="#03fffc"/><stop offset=".327" stop-color="#77ff88"/><stop offset=".375" stop-color="#feff01"/><stop offset=".412" stop-color="#ffb400"/><stop offset=".449" stop-color="#ff8700"/><stop offset=".489" stop-color="#ff7400"/><stop offset=".537" stop-color="#ff7e00"/><stop offset=".581" stop-color="#ffa400"/><stop offset=".625" stop-color="#ffe600"/><stop offset=".640" stop-color="#fcff03"/><stop offset=".684" stop-color="#93ff6c"/><stop offset=".735" stop-color="#03fffc"/><stop offset=".790" stop-color="#0076ff"/><stop offset=".831" stop-color="#002eff"/><stop offset=".868" stop-color="#0008ff"/><stop offset=".904" stop-color="#0001ff"/><stop offset=".967" stop-color="#001eff"/><stop offset="1.000" stop-color="#0037ff"/></linearGradient><linearGradient id="g202" gradientUnits="userSpaceOnUse" x1="650.5" y1="0" x2="926.5" y2="0"><stop offset=".000" stop-color="#0086ff"/><stop offset=".094" stop-color="#002fff"/><stop offset=".130" stop-color="#0025ff"/><stop offset=".167" stop-color="#0039ff"/><stop offset=".203" stop-color="#006bff"/><stop offset=".268" stop-color="#00eeff"/><stop offset=".275" stop-color="#00ffff"/><stop offset=".319" stop-color="#71ff8e"/><stop offset=".362" stop-color="#fbff04"/><stop offset=".402" stop-color="#ff9b00"/><stop offset=".435" stop-color="#ff6500"/><stop offset=".471" stop-color="#ff4600"/><stop offset=".514" stop-color="#ff4100"/><stop offset=".554" stop-color="#ff5800"/><stop offset=".598" stop-color="#ff8f00"/><stop offset=".641" stop-color="#ffe300"/><stop offset=".652" stop-color="#fffd00"/><stop offset=".692" stop-color="#92ff6d"/><stop offset=".739" stop-color="#01fffe"/><stop offset=".786" stop-color="#007fff"/><stop offset=".826" stop-color="#0034ff"/><stop offset=".862" stop-color="#000cff"/><stop offset=".899" stop-color="#0005ff"/><stop offset=".953" stop-color="#0020ff"/><stop offset="1.000" stop-color="#0048ff"/></linearGradient><linearGradient id="g203" gradientUnits="userSpaceOnUse" x1="649.5" y1="0" x2="927.5" y2="0"><stop offset=".000" stop-color="#0090ff"/><stop offset=".097" stop-color="#0030ff"/><stop offset=".133" stop-color="#0025ff"/><stop offset=".165" stop-color="#0036ff"/><stop offset=".201" stop-color="#0068ff"/><stop offset=".266" stop-color="#00f1ff"/><stop offset=".273" stop-color="#03fffc"/><stop offset=".317" stop-color="#73ff8c"/><stop offset=".356" stop-color="#f7ff08"/><stop offset=".363" stop-color="#ffef00"/><stop offset=".399" stop-color="#ff8c00"/><stop offset=".432" stop-color="#ff5100"/><stop offset=".468" stop-color="#ff2e00"/><stop offset=".511" stop-color="#ff2700"/><stop offset=".550" stop-color="#ff3b00"/><stop offset=".594" stop-color="#ff7200"/><stop offset=".633" stop-color="#ffbe00"/><stop offset=".658" stop-color="#fffd00"/><stop offset=".701" stop-color="#7eff81"/><stop offset=".741" stop-color="#00feff"/><stop offset=".784" stop-color="#0084ff"/><stop offset=".820" stop-color="#003cff"/><stop offset=".856" stop-color="#0011ff"/><stop offset=".888" stop-color="#0007ff"/><stop offset=".939" stop-color="#001bff"/><stop offset="1.000" stop-color="#0052ff"/></linearGradient><linearGradient id="g204" gradientUnits="userSpaceOnUse" x1="648.5" y1="0" x2="928.5" y2="0"><stop offset=".000" stop-color="#00a2ff"/><stop offset=".100" stop-color="#0032ff"/><stop offset=".136" stop-color="#0024ff"/><stop offset=".168" stop-color="#0036ff"/><stop offset=".200" stop-color="#0066ff"/><stop offset=".254" stop-color="#00e3ff"/><stop offset=".264" stop-color="#00feff"/><stop offset=".318" stop-color="#94ff6b"/><stop offset=".346" stop-color="#fbff04"/><stop offset=".386" stop-color="#ff8300"/><stop offset=".418" stop-color="#ff3800"/><stop offset=".450" stop-color="#ff0900"/><stop offset=".468" stop-color="#fa0000"/><stop offset=".511" stop-color="#f10000"/><stop offset=".546" stop-color="#ff0400"/><stop offset=".582" stop-color="#ff3100"/><stop offset=".625" stop-color="#ff8400"/><stop offset=".664" stop-color="#ffef00"/><stop offset=".671" stop-color="#f8ff07"/><stop offset=".743" stop-color="#04fffb"/><stop offset=".789" stop-color="#007dff"/><stop offset=".825" stop-color="#0038ff"/><stop offset=".857" stop-color="#0015ff"/><stop offset=".893" stop-color="#000eff"/><stop offset=".943" stop-color="#0029ff"/><stop offset="1.000" stop-color="#0063ff"/></linearGradient><linearGradient id="g205" gradientUnits="userSpaceOnUse" x1="647.5" y1="0" x2="929.5" y2="0"><stop offset=".000" stop-color="#00adff"/><stop offset=".057" stop-color="#0069ff"/><stop offset=".106" stop-color="#002fff"/><stop offset=".138" stop-color="#0023ff"/><stop offset=".167" stop-color="#0031ff"/><stop offset=".199" stop-color="#0060ff"/><stop offset=".241" stop-color="#00c6ff"/><stop offset=".262" stop-color="#01fffe"/><stop offset=".323" stop-color="#b6ff49"/><stop offset=".344" stop-color="#fffa00"/><stop offset=".383" stop-color="#ff7600"/><stop offset=".415" stop-color="#ff2600"/><stop offset=".436" stop-color="#ff0100"/><stop offset=".472" stop-color="#de0000"/><stop offset=".514" stop-color="#d70000"/><stop offset=".550" stop-color="#ec0000"/><stop offset=".567" stop-color="#ff0200"/><stop offset=".613" stop-color="#ff5600"/><stop offset=".649" stop-color="#ffb200"/><stop offset=".674" stop-color="#fcff03"/><stop offset=".745" stop-color="#00ffff"/><stop offset=".780" stop-color="#0093ff"/><stop offset=".812" stop-color="#004dff"/><stop offset=".844" stop-color="#0021ff"/><stop offset=".876" stop-color="#0011ff"/><stop offset=".918" stop-color="#001eff"/><stop offset=".979" stop-color="#0055ff"/><stop offset="1.000" stop-color="#006fff"/></linearGradient><linearGradient id="g206" gradientUnits="userSpaceOnUse" x1="646.5" y1="0" x2="930.5" y2="0"><stop offset=".000" stop-color="#00bdff"/><stop offset=".042" stop-color="#008aff"/><stop offset=".102" stop-color="#0035ff"/><stop offset=".134" stop-color="#001fff"/><stop offset=".162" stop-color="#0026ff"/><stop offset=".190" stop-color="#004aff"/><stop offset=".222" stop-color="#0095ff"/><stop offset=".257" stop-color="#02fffd"/><stop offset=".331" stop-color="#ffff00"/><stop offset=".377" stop-color="#ff5b00"/><stop offset=".408" stop-color="#ff0400"/><stop offset=".444" stop-color="#c50000"/><stop offset=".479" stop-color="#a70000"/><stop offset=".518" stop-color="#a30000"/><stop offset=".553" stop-color="#bb0000"/><stop offset=".588" stop-color="#f20000"/><stop offset=".595" stop-color="#ff0100"/><stop offset=".630" stop-color="#ff5700"/><stop offset=".669" stop-color="#ffd700"/><stop offset=".680" stop-color="#ffff00"/><stop offset=".746" stop-color="#01fffe"/><stop offset=".782" stop-color="#0093ff"/><stop offset=".813" stop-color="#004dff"/><stop offset=".845" stop-color="#0025ff"/><stop offset=".880" stop-color="#0019ff"/><stop offset=".923" stop-color="#002dff"/><stop offset=".982" stop-color="#006dff"/><stop offset="1.000" stop-color="#0085ff"/></linearGradient><linearGradient id="g207" gradientUnits="userSpaceOnUse" x1="645.5" y1="0" x2="931.5" y2="0"><stop offset=".000" stop-color="#00c6ff"/><stop offset=".042" stop-color="#0094ff"/><stop offset=".105" stop-color="#0034ff"/><stop offset=".136" stop-color="#001dff"/><stop offset=".164" stop-color="#0023ff"/><stop offset=".189" stop-color="#0042ff"/><stop offset=".217" stop-color="#0083ff"/><stop offset=".255" stop-color="#00ffff"/><stop offset=".325" stop-color="#ffff00"/><stop offset=".374" stop-color="#ff4d00"/><stop offset=".399" stop-color="#ff0600"/><stop offset=".409" stop-color="#eb0000"/><stop offset=".441" stop-color="#b20000"/><stop offset=".476" stop-color="#8f0000"/><stop offset=".514" stop-color="#880000"/><stop offset=".549" stop-color="#9e0000"/><stop offset=".584" stop-color="#d20000"/><stop offset=".605" stop-color="#ff0000"/><stop offset=".640" stop-color="#ff6400"/><stop offset=".682" stop-color="#ffff00"/><stop offset=".745" stop-color="#07fff8"/><stop offset=".752" stop-color="#00edff"/><stop offset=".783" stop-color="#008dff"/><stop offset=".815" stop-color="#004aff"/><stop offset=".846" stop-color="#0026ff"/><stop offset=".881" stop-color="#001eff"/><stop offset=".927" stop-color="#0039ff"/><stop offset=".983" stop-color="#007aff"/><stop offset="1.000" stop-color="#0094ff"/></linearGradient><linearGradient id="g208" gradientUnits="userSpaceOnUse" x1="644.5" y1="0" x2="932.5" y2="0"><stop offset=".000" stop-color="#00d3ff"/><stop offset=".038" stop-color="#00a6ff"/><stop offset=".104" stop-color="#0036ff"/><stop offset=".135" stop-color="#0017ff"/><stop offset=".163" stop-color="#0018ff"/><stop offset=".188" stop-color="#0035ff"/><stop offset=".212" stop-color="#006eff"/><stop offset=".243" stop-color="#00daff"/><stop offset=".253" stop-color="#05fffa"/><stop offset=".312" stop-color="#faff05"/><stop offset=".333" stop-color="#ffb100"/><stop offset=".375" stop-color="#ff1b00"/><stop offset=".385" stop-color="#fa0000"/><stop offset=".417" stop-color="#ac0000"/><stop offset=".444" stop-color="#800000"/><stop offset=".566" stop-color="#830000"/><stop offset=".597" stop-color="#bf0000"/><stop offset=".622" stop-color="#ff0500"/><stop offset=".656" stop-color="#ff8200"/><stop offset=".684" stop-color="#fff700"/><stop offset=".688" stop-color="#f8ff07"/><stop offset=".743" stop-color="#11ffee"/><stop offset=".747" stop-color="#04fffb"/><stop offset=".785" stop-color="#008aff"/><stop offset=".812" stop-color="#004fff"/><stop offset=".844" stop-color="#002cff"/><stop offset=".878" stop-color="#0027ff"/><stop offset=".920" stop-color="#0043ff"/><stop offset=".979" stop-color="#008dff"/><stop offset="1.000" stop-color="#00b0ff"/></linearGradient><linearGradient id="g209" gradientUnits="userSpaceOnUse" x1="643.5" y1="0" x2="933.5" y2="0"><stop offset=".000" stop-color="#00dbff"/><stop offset=".041" stop-color="#00a8ff"/><stop offset=".107" stop-color="#0034ff"/><stop offset=".138" stop-color="#0014ff"/><stop offset=".166" stop-color="#0013ff"/><stop offset=".190" stop-color="#0030ff"/><stop offset=".214" stop-color="#006cff"/><stop offset=".241" stop-color="#00d1ff"/><stop offset=".252" stop-color="#00fdff"/><stop offset=".307" stop-color="#f5ff0a"/><stop offset=".310" stop-color="#fffa00"/><stop offset=".355" stop-color="#ff4800"/><stop offset=".376" stop-color="#ff0200"/><stop offset=".410" stop-color="#a40000"/><stop offset=".431" stop-color="#800000"/><stop offset=".579" stop-color="#820000"/><stop offset=".607" stop-color="#c50000"/><stop offset=".624" stop-color="#fb0000"/><stop offset=".645" stop-color="#ff4a00"/><stop offset=".686" stop-color="#fffc00"/><stop offset=".741" stop-color="#14ffeb"/><stop offset=".748" stop-color="#00f9ff"/><stop offset=".779" stop-color="#0095ff"/><stop offset=".807" stop-color="#0057ff"/><stop offset=".834" stop-color="#0034ff"/><stop offset=".866" stop-color="#002aff"/><stop offset=".903" stop-color="#003eff"/><stop offset=".959" stop-color="#007eff"/><stop offset="1.000" stop-color="#00c3ff"/></linearGradient><linearGradient id="g210" gradientUnits="userSpaceOnUse" x1="642.5" y1="0" x2="934.5" y2="0"><stop offset=".000" stop-color="#00e5ff"/><stop offset=".041" stop-color="#00afff"/><stop offset=".113" stop-color="#002aff"/><stop offset=".144" stop-color="#0009ff"/><stop offset=".168" stop-color="#0008ff"/><stop offset=".188" stop-color="#001fff"/><stop offset=".209" stop-color="#0051ff"/><stop offset=".233" stop-color="#00abff"/><stop offset=".250" stop-color="#00faff"/><stop offset=".264" stop-color="#41ffbe"/><stop offset=".301" stop-color="#fffd00"/><stop offset=".336" stop-color="#ff6500"/><stop offset=".363" stop-color="#fe0000"/><stop offset=".394" stop-color="#a00000"/><stop offset=".408" stop-color="#800000"/><stop offset=".596" stop-color="#800000"/><stop offset=".620" stop-color="#cb0000"/><stop offset=".634" stop-color="#ff0100"/><stop offset=".678" stop-color="#ffcb00"/><stop offset=".688" stop-color="#fffd00"/><stop offset=".736" stop-color="#27ffd8"/><stop offset=".747" stop-color="#00fdff"/><stop offset=".774" stop-color="#00a0ff"/><stop offset=".801" stop-color="#005fff"/><stop offset=".829" stop-color="#003bff"/><stop offset=".860" stop-color="#0032ff"/><stop offset=".897" stop-color="#0048ff"/><stop offset=".952" stop-color="#0090ff"/><stop offset="1.000" stop-color="#00e6ff"/></linearGradient><linearGradient id="g211" gradientUnits="userSpaceOnUse" x1="642.5" y1="0" x2="934.5" y2="0"><stop offset=".000" stop-color="#00e8ff"/><stop offset=".045" stop-color="#00a9ff"/><stop offset=".113" stop-color="#0028ff"/><stop offset=".144" stop-color="#0005ff"/><stop offset=".168" stop-color="#0002ff"/><stop offset=".188" stop-color="#0019ff"/><stop offset=".209" stop-color="#004cff"/><stop offset=".229" stop-color="#009bff"/><stop offset=".250" stop-color="#01fffe"/><stop offset=".295" stop-color="#f1ff0e"/><stop offset=".298" stop-color="#fffb00"/><stop offset=".329" stop-color="#ff6a00"/><stop offset=".356" stop-color="#ff0000"/><stop offset=".390" stop-color="#940000"/><stop offset=".401" stop-color="#800000"/><stop offset=".603" stop-color="#800000"/><stop offset=".627" stop-color="#d50000"/><stop offset=".637" stop-color="#ff0200"/><stop offset=".688" stop-color="#fff700"/><stop offset=".695" stop-color="#e5ff1a"/><stop offset=".736" stop-color="#28ffd7"/><stop offset=".747" stop-color="#00feff"/><stop offset=".774" stop-color="#00a0ff"/><stop offset=".801" stop-color="#005fff"/><stop offset=".829" stop-color="#003dff"/><stop offset=".860" stop-color="#0036ff"/><stop offset=".897" stop-color="#0050ff"/><stop offset=".949" stop-color="#0097ff"/><stop offset="1.000" stop-color="#00f5ff"/></linearGradient><linearGradient id="g212" gradientUnits="userSpaceOnUse" x1="641.5" y1="0" x2="935.5" y2="0"><stop offset=".000" stop-color="#00f2ff"/><stop offset=".048" stop-color="#00a9ff"/><stop offset=".119" stop-color="#001dff"/><stop offset=".143" stop-color="#0000fe"/><stop offset=".167" stop-color="#0000f5"/><stop offset=".184" stop-color="#0002ff"/><stop offset=".201" stop-color="#0022ff"/><stop offset=".218" stop-color="#005bff"/><stop offset=".238" stop-color="#00bcff"/><stop offset=".248" stop-color="#00f5ff"/><stop offset=".252" stop-color="#09fff6"/><stop offset=".293" stop-color="#ffff00"/><stop offset=".316" stop-color="#ff7e00"/><stop offset=".344" stop-color="#ff0900"/><stop offset=".347" stop-color="#fb0000"/><stop offset=".381" stop-color="#890000"/><stop offset=".384" stop-color="#800000"/><stop offset=".612" stop-color="#820000"/><stop offset=".639" stop-color="#fb0000"/><stop offset=".660" stop-color="#ff6300"/><stop offset=".690" stop-color="#fcff03"/><stop offset=".731" stop-color="#36ffc9"/><stop offset=".745" stop-color="#00fbff"/><stop offset=".772" stop-color="#009dff"/><stop offset=".796" stop-color="#0064ff"/><stop offset=".823" stop-color="#0042ff"/><stop offset=".854" stop-color="#003dff"/><stop offset=".888" stop-color="#0056ff"/><stop offset=".935" stop-color="#009eff"/><stop offset=".986" stop-color="#02fffd"/><stop offset="1.000" stop-color="#1dffe2"/></linearGradient><linearGradient id="g213" gradientUnits="userSpaceOnUse" x1="641.5" y1="0" x2="935.5" y2="0"><stop offset=".000" stop-color="#00f6ff"/><stop offset=".048" stop-color="#00a9ff"/><stop offset=".119" stop-color="#001bff"/><stop offset=".139" stop-color="#0000fe"/><stop offset=".167" stop-color="#0000f0"/><stop offset=".187" stop-color="#0000ff"/><stop offset=".204" stop-color="#0025ff"/><stop offset=".221" stop-color="#0066ff"/><stop offset=".245" stop-color="#00e3ff"/><stop offset=".248" stop-color="#00f7ff"/><stop offset=".252" stop-color="#0dfff2"/><stop offset=".289" stop-color="#f8ff07"/><stop offset=".296" stop-color="#ffdc00"/><stop offset=".320" stop-color="#ff5c00"/><stop offset=".340" stop-color="#ff0400"/><stop offset=".378" stop-color="#820000"/><stop offset=".616" stop-color="#840000"/><stop offset=".639" stop-color="#f30000"/><stop offset=".643" stop-color="#ff0600"/><stop offset=".690" stop-color="#fdff02"/><stop offset=".728" stop-color="#43ffbc"/><stop offset=".741" stop-color="#07fff8"/><stop offset=".748" stop-color="#00ebff"/><stop offset=".776" stop-color="#0090ff"/><stop offset=".799" stop-color="#005cff"/><stop offset=".827" stop-color="#0041ff"/><stop offset=".857" stop-color="#0042ff"/><stop offset=".895" stop-color="#0066ff"/><stop offset=".946" stop-color="#00bdff"/><stop offset=".980" stop-color="#04fffb"/><stop offset="1.000" stop-color="#2dffd2"/></linearGradient><linearGradient id="g214" gradientUnits="userSpaceOnUse" x1="640.5" y1="0" x2="936.5" y2="0"><stop offset=".000" stop-color="#03fffc"/><stop offset=".041" stop-color="#00beff"/><stop offset=".125" stop-color="#0012ff"/><stop offset=".139" stop-color="#0000fd"/><stop offset=".166" stop-color="#0000e8"/><stop offset=".186" stop-color="#0000f1"/><stop offset=".196" stop-color="#0001ff"/><stop offset=".209" stop-color="#0025ff"/><stop offset=".226" stop-color="#0070ff"/><stop offset=".250" stop-color="#00faff"/><stop offset=".264" stop-color="#54ffab"/><stop offset=".287" stop-color="#f6ff09"/><stop offset=".291" stop-color="#fff200"/><stop offset=".311" stop-color="#ff7400"/><stop offset=".334" stop-color="#ff0400"/><stop offset=".368" stop-color="#870000"/><stop offset=".375" stop-color="#800000"/><stop offset=".618" stop-color="#830000"/><stop offset=".642" stop-color="#fe0000"/><stop offset=".686" stop-color="#fff400"/><stop offset=".689" stop-color="#f8ff07"/><stop offset=".723" stop-color="#4affb5"/><stop offset=".740" stop-color="#00feff"/><stop offset=".767" stop-color="#009dff"/><stop offset=".791" stop-color="#0063ff"/><stop offset=".814" stop-color="#0047ff"/><stop offset=".841" stop-color="#0043ff"/><stop offset=".875" stop-color="#005eff"/><stop offset=".916" stop-color="#009fff"/><stop offset=".959" stop-color="#00fdff"/><stop offset="1.000" stop-color="#54ffab"/></linearGradient><linearGradient id="g215" gradientUnits="userSpaceOnUse" x1="640.5" y1="0" x2="936.5" y2="0"><stop offset=".000" stop-color="#08fff7"/><stop offset=".010" stop-color="#00f7ff"/><stop offset=".064" stop-color="#008fff"/><stop offset=".122" stop-color="#0017ff"/><stop offset=".139" stop-color="#0000fc"/><stop offset=".166" stop-color="#0000e6"/><stop offset=".186" stop-color="#0000ee"/><stop offset=".199" stop-color="#0004ff"/><stop offset=".213" stop-color="#002eff"/><stop offset=".230" stop-color="#0080ff"/><stop offset=".250" stop-color="#00fbff"/><stop offset=".274" stop-color="#9dff62"/><stop offset=".287" stop-color="#fbff04"/><stop offset=".311" stop-color="#ff6b00"/><stop offset=".331" stop-color="#ff0a00"/><stop offset=".334" stop-color="#fb0000"/><stop offset=".365" stop-color="#890000"/><stop offset=".368" stop-color="#800000"/><stop offset=".618" stop-color="#800000"/><stop offset=".642" stop-color="#fe0000"/><stop offset=".686" stop-color="#fff900"/><stop offset=".693" stop-color="#e0ff1f"/><stop offset=".726" stop-color="#33ffcc"/><stop offset=".736" stop-color="#06fff9"/><stop offset=".743" stop-color="#00eaff"/><stop offset=".770" stop-color="#008eff"/><stop offset=".794" stop-color="#005bff"/><stop offset=".818" stop-color="#0045ff"/><stop offset=".848" stop-color="#0048ff"/><stop offset=".882" stop-color="#006dff"/><stop offset=".926" stop-color="#00bfff"/><stop offset=".953" stop-color="#00fcff"/><stop offset="1.000" stop-color="#64ff9b"/></linearGradient><linearGradient id="g216" gradientUnits="userSpaceOnUse" x1="639.5" y1="0" x2="937.5" y2="0"><stop offset=".000" stop-color="#18ffe7"/><stop offset=".013" stop-color="#01fffe"/><stop offset=".064" stop-color="#009aff"/><stop offset=".124" stop-color="#0017ff"/><stop offset=".141" stop-color="#0000fb"/><stop offset=".168" stop-color="#0000e5"/><stop offset=".188" stop-color="#0000ed"/><stop offset=".201" stop-color="#0005ff"/><stop offset=".215" stop-color="#0030ff"/><stop offset=".232" stop-color="#0081ff"/><stop offset=".252" stop-color="#00fbff"/><stop offset=".275" stop-color="#9eff61"/><stop offset=".289" stop-color="#fdff02"/><stop offset=".312" stop-color="#ff6a00"/><stop offset=".332" stop-color="#ff0400"/><stop offset=".366" stop-color="#800000"/><stop offset=".614" stop-color="#800000"/><stop offset=".617" stop-color="#840000"/><stop offset=".638" stop-color="#f30000"/><stop offset=".641" stop-color="#ff0800"/><stop offset=".681" stop-color="#fff800"/><stop offset=".688" stop-color="#e0ff1f"/><stop offset=".718" stop-color="#41ffbe"/><stop offset=".732" stop-color="#04fffb"/><stop offset=".762" stop-color="#0096ff"/><stop offset=".785" stop-color="#0060ff"/><stop offset=".809" stop-color="#0046ff"/><stop offset=".836" stop-color="#0047ff"/><stop offset=".869" stop-color="#006aff"/><stop offset=".909" stop-color="#00b6ff"/><stop offset=".940" stop-color="#00feff"/><stop offset=".993" stop-color="#7dff82"/><stop offset="1.000" stop-color="#8aff75"/></linearGradient><linearGradient id="g217" gradientUnits="userSpaceOnUse" x1="639.5" y1="0" x2="937.5" y2="0"><stop offset=".000" stop-color="#1effe1"/><stop offset=".017" stop-color="#00ffff"/><stop offset=".077" stop-color="#007eff"/><stop offset=".128" stop-color="#0012ff"/><stop offset=".141" stop-color="#0000fc"/><stop offset=".168" stop-color="#0000e6"/><stop offset=".188" stop-color="#0000ef"/><stop offset=".198" stop-color="#0001ff"/><stop offset=".215" stop-color="#0032ff"/><stop offset=".232" stop-color="#0081ff"/><stop offset=".252" stop-color="#00fbff"/><stop offset=".265" stop-color="#56ffa9"/><stop offset=".289" stop-color="#f9ff06"/><stop offset=".299" stop-color="#ffc100"/><stop offset=".319" stop-color="#ff4900"/><stop offset=".332" stop-color="#ff0700"/><stop offset=".339" stop-color="#e80000"/><stop offset=".366" stop-color="#810000"/><stop offset=".614" stop-color="#800000"/><stop offset=".621" stop-color="#9c0000"/><stop offset=".638" stop-color="#fc0000"/><stop offset=".678" stop-color="#fff000"/><stop offset=".681" stop-color="#faff05"/><stop offset=".711" stop-color="#56ffa9"/><stop offset=".728" stop-color="#07fff8"/><stop offset=".735" stop-color="#00eaff"/><stop offset=".758" stop-color="#0099ff"/><stop offset=".782" stop-color="#0062ff"/><stop offset=".805" stop-color="#0047ff"/><stop offset=".832" stop-color="#0047ff"/><stop offset=".862" stop-color="#0065ff"/><stop offset=".899" stop-color="#00a8ff"/><stop offset=".936" stop-color="#02fffd"/><stop offset=".990" stop-color="#86ff79"/><stop offset="1.000" stop-color="#99ff66"/></linearGradient><linearGradient id="g218" gradientUnits="userSpaceOnUse" x1="639.5" y1="0" x2="937.5" y2="0"><stop offset=".000" stop-color="#2bffd4"/><stop offset=".023" stop-color="#00feff"/><stop offset=".124" stop-color="#001cff"/><stop offset=".144" stop-color="#0000fc"/><stop offset=".168" stop-color="#0000eb"/><stop offset=".188" stop-color="#0000f5"/><stop offset=".195" stop-color="#0001ff"/><stop offset=".211" stop-color="#002cff"/><stop offset=".228" stop-color="#0072ff"/><stop offset=".248" stop-color="#00e1ff"/><stop offset=".252" stop-color="#00f6ff"/><stop offset=".255" stop-color="#0cfff3"/><stop offset=".292" stop-color="#fffb00"/><stop offset=".315" stop-color="#ff6b00"/><stop offset=".336" stop-color="#ff0500"/><stop offset=".349" stop-color="#ca0000"/><stop offset=".369" stop-color="#800000"/><stop offset=".611" stop-color="#800000"/><stop offset=".628" stop-color="#d80000"/><stop offset=".634" stop-color="#ff0100"/><stop offset=".674" stop-color="#fffb00"/><stop offset=".711" stop-color="#38ffc7"/><stop offset=".721" stop-color="#0afff5"/><stop offset=".725" stop-color="#00faff"/><stop offset=".748" stop-color="#00a4ff"/><stop offset=".772" stop-color="#0069ff"/><stop offset=".795" stop-color="#0049ff"/><stop offset=".822" stop-color="#0044ff"/><stop offset=".852" stop-color="#005eff"/><stop offset=".889" stop-color="#00a1ff"/><stop offset=".926" stop-color="#00fcff"/><stop offset=".990" stop-color="#a3ff5c"/><stop offset="1.000" stop-color="#b6ff49"/></linearGradient><linearGradient id="g219" gradientUnits="userSpaceOnUse" x1="639.5" y1="0" x2="937.5" y2="0"><stop offset=".000" stop-color="#32ffcd"/><stop offset=".027" stop-color="#00fdff"/><stop offset=".124" stop-color="#0020ff"/><stop offset=".144" stop-color="#0000ff"/><stop offset=".168" stop-color="#0000ee"/><stop offset=".188" stop-color="#0000f9"/><stop offset=".198" stop-color="#000aff"/><stop offset=".215" stop-color="#003aff"/><stop offset=".232" stop-color="#0082ff"/><stop offset=".252" stop-color="#00f2ff"/><stop offset=".255" stop-color="#08fff7"/><stop offset=".292" stop-color="#f9ff06"/><stop offset=".302" stop-color="#ffc500"/><stop offset=".326" stop-color="#ff4100"/><stop offset=".339" stop-color="#ff0100"/><stop offset=".369" stop-color="#890000"/><stop offset=".372" stop-color="#800000"/><stop offset=".607" stop-color="#800000"/><stop offset=".614" stop-color="#9b0000"/><stop offset=".631" stop-color="#fb0000"/><stop offset=".648" stop-color="#ff6400"/><stop offset=".671" stop-color="#fff900"/><stop offset=".678" stop-color="#dcff23"/><stop offset=".705" stop-color="#48ffb7"/><stop offset=".718" stop-color="#09fff6"/><stop offset=".721" stop-color="#00f9ff"/><stop offset=".745" stop-color="#00a3ff"/><stop offset=".768" stop-color="#0067ff"/><stop offset=".792" stop-color="#0047ff"/><stop offset=".819" stop-color="#0042ff"/><stop offset=".849" stop-color="#005dff"/><stop offset=".886" stop-color="#009fff"/><stop offset=".923" stop-color="#00fcff"/><stop offset=".987" stop-color="#a9ff56"/><stop offset="1.000" stop-color="#c3ff3c"/></linearGradient><linearGradient id="g220" gradientUnits="userSpaceOnUse" x1="639.5" y1="0" x2="937.5" y2="0"><stop offset=".000" stop-color="#42ffbd"/><stop offset=".034" stop-color="#00fdff"/><stop offset=".121" stop-color="#002fff"/><stop offset=".151" stop-color="#0000ff"/><stop offset=".174" stop-color="#0000f5"/><stop offset=".191" stop-color="#0004ff"/><stop offset=".208" stop-color="#0027ff"/><stop offset=".228" stop-color="#006fff"/><stop offset=".252" stop-color="#00e7ff"/><stop offset=".255" stop-color="#00faff"/><stop offset=".265" stop-color="#38ffc7"/><stop offset=".295" stop-color="#f5ff0a"/><stop offset=".299" stop-color="#fff400"/><stop offset=".326" stop-color="#ff5f00"/><stop offset=".346" stop-color="#ff0100"/><stop offset=".379" stop-color="#850000"/><stop offset=".393" stop-color="#800000"/><stop offset=".601" stop-color="#800000"/><stop offset=".607" stop-color="#990000"/><stop offset=".624" stop-color="#f70000"/><stop offset=".628" stop-color="#ff0c00"/><stop offset=".664" stop-color="#fffa00"/><stop offset=".685" stop-color="#89ff76"/><stop offset=".708" stop-color="#10ffef"/><stop offset=".711" stop-color="#01fffe"/><stop offset=".735" stop-color="#00a6ff"/><stop offset=".758" stop-color="#0068ff"/><stop offset=".782" stop-color="#0045ff"/><stop offset=".809" stop-color="#003cff"/><stop offset=".839" stop-color="#0054ff"/><stop offset=".872" stop-color="#008dff"/><stop offset=".919" stop-color="#03fffc"/><stop offset=".987" stop-color="#c0ff3f"/><stop offset="1.000" stop-color="#dbff24"/></linearGradient><linearGradient id="g221" gradientUnits="userSpaceOnUse" x1="639.5" y1="0" x2="937.5" y2="0"><stop offset=".000" stop-color="#4bffb4"/><stop offset=".037" stop-color="#00feff"/><stop offset=".121" stop-color="#0034ff"/><stop offset=".151" stop-color="#0004ff"/><stop offset=".178" stop-color="#0000fa"/><stop offset=".191" stop-color="#0006ff"/><stop offset=".211" stop-color="#0031ff"/><stop offset=".232" stop-color="#007bff"/><stop offset=".255" stop-color="#00f2ff"/><stop offset=".258" stop-color="#06fff9"/><stop offset=".299" stop-color="#faff05"/><stop offset=".312" stop-color="#ffb700"/><stop offset=".339" stop-color="#ff3200"/><stop offset=".349" stop-color="#ff0700"/><stop offset=".356" stop-color="#eb0000"/><stop offset=".386" stop-color="#830000"/><stop offset=".597" stop-color="#800000"/><stop offset=".611" stop-color="#be0000"/><stop offset=".621" stop-color="#f80000"/><stop offset=".628" stop-color="#ff2200"/><stop offset=".661" stop-color="#fffd00"/><stop offset=".691" stop-color="#4cffb3"/><stop offset=".705" stop-color="#09fff6"/><stop offset=".708" stop-color="#00f9ff"/><stop offset=".732" stop-color="#009fff"/><stop offset=".755" stop-color="#0062ff"/><stop offset=".779" stop-color="#0041ff"/><stop offset=".805" stop-color="#0039ff"/><stop offset=".836" stop-color="#0051ff"/><stop offset=".869" stop-color="#008bff"/><stop offset=".916" stop-color="#01fffe"/><stop offset=".987" stop-color="#c9ff36"/><stop offset="1.000" stop-color="#e4ff1b"/></linearGradient><linearGradient id="g222" gradientUnits="userSpaceOnUse" x1="639.5" y1="0" x2="937.5" y2="0"><stop offset=".000" stop-color="#5effa1"/><stop offset=".044" stop-color="#00ffff"/><stop offset=".121" stop-color="#003fff"/><stop offset=".151" stop-color="#000dff"/><stop offset=".174" stop-color="#0000ff"/><stop offset=".195" stop-color="#000eff"/><stop offset=".215" stop-color="#0037ff"/><stop offset=".235" stop-color="#007eff"/><stop offset=".262" stop-color="#01fffe"/><stop offset=".305" stop-color="#faff05"/><stop offset=".326" stop-color="#ff9d00"/><stop offset=".359" stop-color="#ff0f00"/><stop offset=".362" stop-color="#ff0200"/><stop offset=".396" stop-color="#940000"/><stop offset=".406" stop-color="#800000"/><stop offset=".587" stop-color="#800000"/><stop offset=".604" stop-color="#c80000"/><stop offset=".614" stop-color="#ff0100"/><stop offset=".651" stop-color="#fff100"/><stop offset=".654" stop-color="#f6ff09"/><stop offset=".681" stop-color="#4effb1"/><stop offset=".695" stop-color="#07fff8"/><stop offset=".701" stop-color="#00e7ff"/><stop offset=".725" stop-color="#008fff"/><stop offset=".748" stop-color="#0054ff"/><stop offset=".772" stop-color="#0035ff"/><stop offset=".799" stop-color="#0030ff"/><stop offset=".829" stop-color="#004aff"/><stop offset=".866" stop-color="#008cff"/><stop offset=".913" stop-color="#04fffb"/><stop offset=".983" stop-color="#cdff32"/><stop offset="1.000" stop-color="#f0ff0f"/></linearGradient><linearGradient id="g223" gradientUnits="userSpaceOnUse" x1="639.5" y1="0" x2="937.5" y2="0"><stop offset=".000" stop-color="#68ff97"/><stop offset=".047" stop-color="#02fffd"/><stop offset=".121" stop-color="#0046ff"/><stop offset=".151" stop-color="#0013ff"/><stop offset=".174" stop-color="#0003ff"/><stop offset=".195" stop-color="#000eff"/><stop offset=".215" stop-color="#0034ff"/><stop offset=".235" stop-color="#0076ff"/><stop offset=".258" stop-color="#00e1ff"/><stop offset=".265" stop-color="#05fffa"/><stop offset=".309" stop-color="#f6ff09"/><stop offset=".312" stop-color="#fff700"/><stop offset=".342" stop-color="#ff6e00"/><stop offset=".369" stop-color="#ff0700"/><stop offset=".376" stop-color="#ef0000"/><stop offset=".403" stop-color="#9f0000"/><stop offset=".419" stop-color="#800000"/><stop offset=".577" stop-color="#800000"/><stop offset=".587" stop-color="#990000"/><stop offset=".604" stop-color="#e20000"/><stop offset=".607" stop-color="#f40000"/><stop offset=".611" stop-color="#ff0800"/><stop offset=".641" stop-color="#ffcb00"/><stop offset=".648" stop-color="#fff800"/><stop offset=".654" stop-color="#d9ff26"/><stop offset=".681" stop-color="#31ffce"/><stop offset=".691" stop-color="#00fbff"/><stop offset=".711" stop-color="#00a6ff"/><stop offset=".735" stop-color="#0060ff"/><stop offset=".758" stop-color="#0038ff"/><stop offset=".785" stop-color="#0028ff"/><stop offset=".812" stop-color="#0036ff"/><stop offset=".846" stop-color="#0067ff"/><stop offset=".889" stop-color="#00c9ff"/><stop offset=".909" stop-color="#01fffe"/><stop offset=".983" stop-color="#d1ff2e"/><stop offset="1.000" stop-color="#f5ff0a"/></linearGradient><linearGradient id="g224" gradientUnits="userSpaceOnUse" x1="639.5" y1="0" x2="937.5" y2="0"><stop offset=".000" stop-color="#7eff81"/><stop offset=".044" stop-color="#1fffe0"/><stop offset=".057" stop-color="#00fbff"/><stop offset=".121" stop-color="#0055ff"/><stop offset=".151" stop-color="#001eff"/><stop offset=".178" stop-color="#0009ff"/><stop offset=".201" stop-color="#0015ff"/><stop offset=".221" stop-color="#003bff"/><stop offset=".242" stop-color="#007bff"/><stop offset=".272" stop-color="#03fffc"/><stop offset=".319" stop-color="#f0ff0f"/><stop offset=".322" stop-color="#ffff00"/><stop offset=".372" stop-color="#ff3f00"/><stop offset=".393" stop-color="#fc0000"/><stop offset=".413" stop-color="#ca0000"/><stop offset=".443" stop-color="#aa0000"/><stop offset=".507" stop-color="#8c0000"/><stop offset=".550" stop-color="#980000"/><stop offset=".574" stop-color="#b50000"/><stop offset=".591" stop-color="#e20000"/><stop offset=".597" stop-color="#ff0000"/><stop offset=".617" stop-color="#ff7100"/><stop offset=".638" stop-color="#fff500"/><stop offset=".641" stop-color="#f3ff0c"/><stop offset=".674" stop-color="#1bffe4"/><stop offset=".678" stop-color="#08fff7"/><stop offset=".685" stop-color="#00e3ff"/><stop offset=".705" stop-color="#008dff"/><stop offset=".728" stop-color="#004aff"/><stop offset=".752" stop-color="#0025ff"/><stop offset=".779" stop-color="#001bff"/><stop offset=".809" stop-color="#0030ff"/><stop offset=".846" stop-color="#006eff"/><stop offset=".893" stop-color="#00ddff"/><stop offset=".906" stop-color="#02fffd"/><stop offset=".980" stop-color="#ceff31"/><stop offset="1.000" stop-color="#faff05"/></linearGradient><linearGradient id="g225" gradientUnits="userSpaceOnUse" x1="639.5" y1="0" x2="937.5" y2="0"><stop offset=".000" stop-color="#89ff76"/><stop offset=".040" stop-color="#33ffcc"/><stop offset=".060" stop-color="#00fdff"/><stop offset=".121" stop-color="#005dff"/><stop offset=".151" stop-color="#0024ff"/><stop offset=".178" stop-color="#000cff"/><stop offset=".201" stop-color="#0013ff"/><stop offset=".221" stop-color="#0034ff"/><stop offset=".245" stop-color="#007bff"/><stop offset=".272" stop-color="#00ecff"/><stop offset=".275" stop-color="#00fcff"/><stop offset=".319" stop-color="#cfff30"/><stop offset=".329" stop-color="#f7ff08"/><stop offset=".336" stop-color="#ffed00"/><stop offset=".389" stop-color="#ff2f00"/><stop offset=".406" stop-color="#ff0000"/><stop offset=".430" stop-color="#db0000"/><stop offset=".493" stop-color="#b80000"/><stop offset=".540" stop-color="#ba0000"/><stop offset=".567" stop-color="#d10000"/><stop offset=".584" stop-color="#f30000"/><stop offset=".587" stop-color="#fd0000"/><stop offset=".601" stop-color="#ff3600"/><stop offset=".621" stop-color="#ffaa00"/><stop offset=".634" stop-color="#fdff02"/><stop offset=".671" stop-color="#0ffff0"/><stop offset=".674" stop-color="#00fbff"/><stop offset=".691" stop-color="#00a6ff"/><stop offset=".711" stop-color="#005fff"/><stop offset=".735" stop-color="#002cff"/><stop offset=".758" stop-color="#0014ff"/><stop offset=".785" stop-color="#0017ff"/><stop offset=".815" stop-color="#003aff"/><stop offset=".859" stop-color="#008fff"/><stop offset=".903" stop-color="#00feff"/><stop offset=".980" stop-color="#d0ff2f"/><stop offset="1.000" stop-color="#fcff03"/></linearGradient><linearGradient id="g226" gradientUnits="userSpaceOnUse" x1="639.5" y1="0" x2="937.5" y2="0"><stop offset=".000" stop-color="#a0ff5f"/><stop offset=".040" stop-color="#4affb5"/><stop offset=".067" stop-color="#02fffd"/><stop offset=".124" stop-color="#0067ff"/><stop offset=".158" stop-color="#0028ff"/><stop offset=".185" stop-color="#000fff"/><stop offset=".208" stop-color="#0014ff"/><stop offset=".228" stop-color="#0033ff"/><stop offset=".252" stop-color="#0073ff"/><stop offset=".289" stop-color="#03fffc"/><stop offset=".326" stop-color="#9aff65"/><stop offset=".352" stop-color="#faff05"/><stop offset=".362" stop-color="#ffe100"/><stop offset=".396" stop-color="#ff7300"/><stop offset=".419" stop-color="#ff4100"/><stop offset=".450" stop-color="#ff2500"/><stop offset=".520" stop-color="#ff1100"/><stop offset=".554" stop-color="#ff1a00"/><stop offset=".574" stop-color="#ff3500"/><stop offset=".591" stop-color="#ff6300"/><stop offset=".607" stop-color="#ffad00"/><stop offset=".621" stop-color="#fff900"/><stop offset=".628" stop-color="#dcff23"/><stop offset=".661" stop-color="#0bfff4"/><stop offset=".664" stop-color="#00f6ff"/><stop offset=".685" stop-color="#008eff"/><stop offset=".701" stop-color="#004fff"/><stop offset=".721" stop-color="#001fff"/><stop offset=".745" stop-color="#0003ff"/><stop offset=".772" stop-color="#0004ff"/><stop offset=".802" stop-color="#0026ff"/><stop offset=".846" stop-color="#007cff"/><stop offset=".899" stop-color="#02fffd"/><stop offset=".980" stop-color="#d4ff2b"/><stop offset="1.000" stop-color="#fffe00"/></linearGradient><linearGradient id="g227" gradientUnits="userSpaceOnUse" x1="639.5" y1="0" x2="937.5" y2="0"><stop offset=".000" stop-color="#abff54"/><stop offset=".037" stop-color="#5fffa0"/><stop offset=".070" stop-color="#04fffb"/><stop offset=".107" stop-color="#009bff"/><stop offset=".144" stop-color="#0046ff"/><stop offset=".174" stop-color="#001aff"/><stop offset=".201" stop-color="#000fff"/><stop offset=".221" stop-color="#001fff"/><stop offset=".245" stop-color="#0050ff"/><stop offset=".275" stop-color="#00b0ff"/><stop offset=".295" stop-color="#00fcff"/><stop offset=".366" stop-color="#faff05"/><stop offset=".393" stop-color="#ffac00"/><stop offset=".416" stop-color="#ff7500"/><stop offset=".443" stop-color="#ff5800"/><stop offset=".527" stop-color="#ff4300"/><stop offset=".557" stop-color="#ff4d00"/><stop offset=".577" stop-color="#ff6b00"/><stop offset=".594" stop-color="#ff9e00"/><stop offset=".611" stop-color="#ffeb00"/><stop offset=".614" stop-color="#fffd00"/><stop offset=".641" stop-color="#62ff9d"/><stop offset=".658" stop-color="#00fcff"/><stop offset=".681" stop-color="#0082ff"/><stop offset=".698" stop-color="#0043ff"/><stop offset=".718" stop-color="#0012ff"/><stop offset=".735" stop-color="#0000fc"/><stop offset=".758" stop-color="#0000f6"/><stop offset=".779" stop-color="#0005ff"/><stop offset=".812" stop-color="#003aff"/><stop offset=".876" stop-color="#00cbff"/><stop offset=".896" stop-color="#00ffff"/><stop offset=".980" stop-color="#d6ff29"/><stop offset="1.000" stop-color="#fffd00"/></linearGradient><linearGradient id="g228" gradientUnits="userSpaceOnUse" x1="639.5" y1="0" x2="937.5" y2="0"><stop offset=".000" stop-color="#c2ff3d"/><stop offset=".037" stop-color="#79ff86"/><stop offset=".081" stop-color="#00feff"/><stop offset=".128" stop-color="#007eff"/><stop offset=".164" stop-color="#0035ff"/><stop offset=".195" stop-color="#0014ff"/><stop offset=".218" stop-color="#0013ff"/><stop offset=".242" stop-color="#002fff"/><stop offset=".272" stop-color="#0072ff"/><stop offset=".319" stop-color="#00fcff"/><stop offset=".359" stop-color="#82ff7d"/><stop offset=".396" stop-color="#faff05"/><stop offset=".416" stop-color="#ffd700"/><stop offset=".440" stop-color="#ffbc00"/><stop offset=".547" stop-color="#ffaa00"/><stop offset=".570" stop-color="#ffbf00"/><stop offset=".587" stop-color="#ffe500"/><stop offset=".594" stop-color="#fffb00"/><stop offset=".604" stop-color="#dbff24"/><stop offset=".628" stop-color="#63ff9c"/><stop offset=".644" stop-color="#05fffa"/><stop offset=".664" stop-color="#0098ff"/><stop offset=".685" stop-color="#0041ff"/><stop offset=".705" stop-color="#0007ff"/><stop offset=".711" stop-color="#0000fa"/><stop offset=".735" stop-color="#0000e3"/><stop offset=".758" stop-color="#0000e8"/><stop offset=".779" stop-color="#0001ff"/><stop offset=".815" stop-color="#004aff"/><stop offset=".889" stop-color="#00feff"/><stop offset=".977" stop-color="#d2ff2d"/><stop offset=".997" stop-color="#feff01"/><stop offset="1.000" stop-color="#fff900"/></linearGradient><linearGradient id="g229" gradientUnits="userSpaceOnUse" x1="640.5" y1="0" x2="936.5" y2="0"><stop offset=".000" stop-color="#c8ff37"/><stop offset=".034" stop-color="#85ff7a"/><stop offset=".081" stop-color="#02fffd"/><stop offset=".128" stop-color="#0081ff"/><stop offset=".166" stop-color="#0038ff"/><stop offset=".196" stop-color="#0015ff"/><stop offset=".220" stop-color="#0012ff"/><stop offset=".247" stop-color="#002dff"/><stop offset=".280" stop-color="#0070ff"/><stop offset=".334" stop-color="#03fffc"/><stop offset=".392" stop-color="#c0ff3f"/><stop offset=".416" stop-color="#f7ff08"/><stop offset=".426" stop-color="#fff900"/><stop offset=".453" stop-color="#ffe900"/><stop offset=".517" stop-color="#ffe300"/><stop offset=".554" stop-color="#ffe000"/><stop offset=".574" stop-color="#fff500"/><stop offset=".581" stop-color="#fbff04"/><stop offset=".598" stop-color="#c9ff36"/><stop offset=".618" stop-color="#70ff8f"/><stop offset=".639" stop-color="#06fff9"/><stop offset=".649" stop-color="#00ceff"/><stop offset=".672" stop-color="#005cff"/><stop offset=".693" stop-color="#0014ff"/><stop offset=".703" stop-color="#0000fb"/><stop offset=".723" stop-color="#0000de"/><stop offset=".747" stop-color="#0000da"/><stop offset=".774" stop-color="#0000f5"/><stop offset=".784" stop-color="#0007ff"/><stop offset=".831" stop-color="#0072ff"/><stop offset=".889" stop-color="#00ffff"/><stop offset=".973" stop-color="#c6ff39"/><stop offset="1.000" stop-color="#fffd00"/></linearGradient><linearGradient id="g230" gradientUnits="userSpaceOnUse" x1="640.5" y1="0" x2="936.5" y2="0"><stop offset=".000" stop-color="#ddff22"/><stop offset=".034" stop-color="#9eff61"/><stop offset=".091" stop-color="#00fdff"/><stop offset=".139" stop-color="#0083ff"/><stop offset=".179" stop-color="#0035ff"/><stop offset=".209" stop-color="#0013ff"/><stop offset=".236" stop-color="#0010ff"/><stop offset=".270" stop-color="#002dff"/><stop offset=".314" stop-color="#0074ff"/><stop offset=".341" stop-color="#00b9ff"/><stop offset=".361" stop-color="#00fdff"/><stop offset=".399" stop-color="#74ff8b"/><stop offset=".422" stop-color="#a2ff5d"/><stop offset=".446" stop-color="#b0ff4f"/><stop offset=".503" stop-color="#a9ff56"/><stop offset=".551" stop-color="#bcff43"/><stop offset=".571" stop-color="#b0ff4f"/><stop offset=".588" stop-color="#90ff6f"/><stop offset=".608" stop-color="#4cffb3"/><stop offset=".625" stop-color="#01fffe"/><stop offset=".666" stop-color="#0041ff"/><stop offset=".682" stop-color="#0006ff"/><stop offset=".693" stop-color="#0000eb"/><stop offset=".713" stop-color="#0000cd"/><stop offset=".736" stop-color="#0000c8"/><stop offset=".760" stop-color="#0000de"/><stop offset=".780" stop-color="#0005ff"/><stop offset=".878" stop-color="#00feff"/><stop offset=".966" stop-color="#c1ff3e"/><stop offset=".997" stop-color="#fffe00"/><stop offset="1.000" stop-color="#fff700"/></linearGradient><linearGradient id="g231" gradientUnits="userSpaceOnUse" x1="641.5" y1="0" x2="935.5" y2="0"><stop offset=".000" stop-color="#e1ff1e"/><stop offset=".031" stop-color="#a8ff57"/><stop offset=".092" stop-color="#02fffd"/><stop offset=".150" stop-color="#0073ff"/><stop offset=".190" stop-color="#0029ff"/><stop offset=".221" stop-color="#000dff"/><stop offset=".252" stop-color="#000eff"/><stop offset=".296" stop-color="#0036ff"/><stop offset=".323" stop-color="#0061ff"/><stop offset=".347" stop-color="#00a2ff"/><stop offset=".374" stop-color="#00ffff"/><stop offset=".401" stop-color="#50ffaf"/><stop offset=".422" stop-color="#74ff8b"/><stop offset=".446" stop-color="#81ff7e"/><stop offset=".503" stop-color="#73ff8c"/><stop offset=".551" stop-color="#8bff74"/><stop offset=".575" stop-color="#7eff81"/><stop offset=".592" stop-color="#5dffa2"/><stop offset=".612" stop-color="#18ffe7"/><stop offset=".619" stop-color="#00fbff"/><stop offset=".663" stop-color="#0034ff"/><stop offset=".677" stop-color="#0004ff"/><stop offset=".701" stop-color="#0000d0"/><stop offset=".724" stop-color="#0000bf"/><stop offset=".748" stop-color="#0000cb"/><stop offset=".776" stop-color="#0000f8"/><stop offset=".782" stop-color="#0009ff"/><stop offset=".867" stop-color="#00ecff"/><stop offset=".878" stop-color="#05fffa"/><stop offset=".966" stop-color="#c0ff3f"/><stop offset=".997" stop-color="#fdff02"/><stop offset="1.000" stop-color="#fffa00"/></linearGradient><linearGradient id="g232" gradientUnits="userSpaceOnUse" x1="641.5" y1="0" x2="935.5" y2="0"><stop offset=".000" stop-color="#f2ff0d"/><stop offset=".034" stop-color="#b3ff4c"/><stop offset=".102" stop-color="#04fffb"/><stop offset=".177" stop-color="#0054ff"/><stop offset=".214" stop-color="#0016ff"/><stop offset=".241" stop-color="#0000fe"/><stop offset=".282" stop-color="#0000fd"/><stop offset=".316" stop-color="#0010ff"/><stop offset=".333" stop-color="#002cff"/><stop offset=".361" stop-color="#0081ff"/><stop offset=".395" stop-color="#00ecff"/><stop offset=".401" stop-color="#00fdff"/><stop offset=".422" stop-color="#20ffdf"/><stop offset=".449" stop-color="#26ffd9"/><stop offset=".500" stop-color="#11ffee"/><stop offset=".554" stop-color="#31ffce"/><stop offset=".578" stop-color="#27ffd8"/><stop offset=".599" stop-color="#00fdff"/><stop offset=".622" stop-color="#00abff"/><stop offset=".663" stop-color="#0006ff"/><stop offset=".673" stop-color="#0000e5"/><stop offset=".694" stop-color="#0000c1"/><stop offset=".718" stop-color="#0000b5"/><stop offset=".741" stop-color="#0000c2"/><stop offset=".765" stop-color="#0000ea"/><stop offset=".776" stop-color="#0004ff"/><stop offset=".854" stop-color="#00eaff"/><stop offset=".864" stop-color="#04fffb"/><stop offset=".932" stop-color="#90ff6f"/><stop offset=".993" stop-color="#fffb00"/><stop offset="1.000" stop-color="#ffee00"/></linearGradient><linearGradient id="g233" gradientUnits="userSpaceOnUse" x1="642.5" y1="0" x2="934.5" y2="0"><stop offset=".000" stop-color="#f4ff0b"/><stop offset=".038" stop-color="#acff53"/><stop offset=".106" stop-color="#01fffe"/><stop offset=".185" stop-color="#004bff"/><stop offset=".223" stop-color="#000eff"/><stop offset=".240" stop-color="#0000fc"/><stop offset=".284" stop-color="#0000ef"/><stop offset=".318" stop-color="#0000f7"/><stop offset=".329" stop-color="#0005ff"/><stop offset=".349" stop-color="#003dff"/><stop offset=".387" stop-color="#00b6ff"/><stop offset=".411" stop-color="#00ebff"/><stop offset=".432" stop-color="#00fcff"/><stop offset=".469" stop-color="#00f3ff"/><stop offset=".503" stop-color="#00e8ff"/><stop offset=".545" stop-color="#04fffb"/><stop offset=".572" stop-color="#04fffb"/><stop offset=".586" stop-color="#00f6ff"/><stop offset=".606" stop-color="#00c7ff"/><stop offset=".637" stop-color="#005bff"/><stop offset=".661" stop-color="#0000ff"/><stop offset=".678" stop-color="#0000d0"/><stop offset=".699" stop-color="#0000b7"/><stop offset=".726" stop-color="#0000b6"/><stop offset=".750" stop-color="#0000cf"/><stop offset=".774" stop-color="#0003ff"/><stop offset=".849" stop-color="#00e9ff"/><stop offset=".860" stop-color="#05fffa"/><stop offset=".911" stop-color="#6fff90"/><stop offset=".993" stop-color="#fffb00"/><stop offset="1.000" stop-color="#ffee00"/></linearGradient><linearGradient id="g234" gradientUnits="userSpaceOnUse" x1="643.5" y1="0" x2="933.5" y2="0"><stop offset=".000" stop-color="#fcff03"/><stop offset=".045" stop-color="#a8ff57"/><stop offset=".117" stop-color="#00ffff"/><stop offset=".207" stop-color="#0031ff"/><stop offset=".238" stop-color="#0000ff"/><stop offset=".279" stop-color="#0000e1"/><stop offset=".317" stop-color="#0000d8"/><stop offset=".331" stop-color="#0000e4"/><stop offset=".341" stop-color="#0000fd"/><stop offset=".386" stop-color="#007bff"/><stop offset=".410" stop-color="#00a5ff"/><stop offset=".434" stop-color="#00b2ff"/><stop offset=".503" stop-color="#00a3ff"/><stop offset=".562" stop-color="#00bbff"/><stop offset=".586" stop-color="#00afff"/><stop offset=".610" stop-color="#0085ff"/><stop offset=".648" stop-color="#0016ff"/><stop offset=".655" stop-color="#0001ff"/><stop offset=".676" stop-color="#0000cb"/><stop offset=".697" stop-color="#0000b9"/><stop offset=".724" stop-color="#0000bd"/><stop offset=".752" stop-color="#0000dd"/><stop offset=".769" stop-color="#0004ff"/><stop offset=".803" stop-color="#0074ff"/><stop offset=".845" stop-color="#00fcff"/><stop offset=".883" stop-color="#55ffaa"/><stop offset=".986" stop-color="#fffe00"/><stop offset="1.000" stop-color="#ffe500"/></linearGradient><linearGradient id="g235" gradientUnits="userSpaceOnUse" x1="643.5" y1="0" x2="933.5" y2="0"><stop offset=".000" stop-color="#fffc00"/><stop offset=".031" stop-color="#cdff32"/><stop offset=".124" stop-color="#01fffe"/><stop offset=".214" stop-color="#002eff"/><stop offset=".241" stop-color="#0001ff"/><stop offset=".293" stop-color="#0000da"/><stop offset=".321" stop-color="#0000d6"/><stop offset=".338" stop-color="#0000ee"/><stop offset=".345" stop-color="#0000fe"/><stop offset=".386" stop-color="#0065ff"/><stop offset=".410" stop-color="#0087ff"/><stop offset=".438" stop-color="#0092ff"/><stop offset=".503" stop-color="#0086ff"/><stop offset=".566" stop-color="#009aff"/><stop offset=".593" stop-color="#0089ff"/><stop offset=".621" stop-color="#0058ff"/><stop offset=".655" stop-color="#0000fc"/><stop offset=".676" stop-color="#0000d0"/><stop offset=".697" stop-color="#0000c0"/><stop offset=".728" stop-color="#0000ca"/><stop offset=".755" stop-color="#0000ee"/><stop offset=".762" stop-color="#0000fd"/><stop offset=".783" stop-color="#003bff"/><stop offset=".838" stop-color="#00fdff"/><stop offset=".872" stop-color="#53ffac"/><stop offset=".983" stop-color="#fffb00"/><stop offset="1.000" stop-color="#ffdd00"/></linearGradient><linearGradient id="g236" gradientUnits="userSpaceOnUse" x1="644.5" y1="0" x2="932.5" y2="0"><stop offset=".000" stop-color="#fff500"/><stop offset=".010" stop-color="#f9ff06"/><stop offset=".090" stop-color="#65ff9a"/><stop offset=".139" stop-color="#00fcff"/><stop offset=".219" stop-color="#003aff"/><stop offset=".247" stop-color="#000cff"/><stop offset=".264" stop-color="#0000fb"/><stop offset=".309" stop-color="#0000e4"/><stop offset=".330" stop-color="#0000ee"/><stop offset=".344" stop-color="#0003ff"/><stop offset=".385" stop-color="#0047ff"/><stop offset=".417" stop-color="#005bff"/><stop offset=".514" stop-color="#0059ff"/><stop offset=".576" stop-color="#0061ff"/><stop offset=".608" stop-color="#004fff"/><stop offset=".642" stop-color="#001dff"/><stop offset=".660" stop-color="#0000fd"/><stop offset=".684" stop-color="#0000e1"/><stop offset=".712" stop-color="#0000de"/><stop offset=".743" stop-color="#0000f8"/><stop offset=".753" stop-color="#0009ff"/><stop offset=".771" stop-color="#0032ff"/><stop offset=".809" stop-color="#00baff"/><stop offset=".826" stop-color="#00faff"/><stop offset=".854" stop-color="#50ffaf"/><stop offset=".882" stop-color="#84ff7b"/><stop offset=".969" stop-color="#f9ff06"/><stop offset=".983" stop-color="#ffef00"/><stop offset="1.000" stop-color="#ffd300"/></linearGradient><linearGradient id="g237" gradientUnits="userSpaceOnUse" x1="645.5" y1="0" x2="931.5" y2="0"><stop offset=".000" stop-color="#fff400"/><stop offset=".010" stop-color="#f9ff06"/><stop offset=".105" stop-color="#52ffad"/><stop offset=".143" stop-color="#00ffff"/><stop offset=".217" stop-color="#0049ff"/><stop offset=".245" stop-color="#001bff"/><stop offset=".280" stop-color="#0000fe"/><stop offset=".315" stop-color="#0000f5"/><stop offset=".336" stop-color="#0005ff"/><stop offset=".381" stop-color="#003dff"/><stop offset=".416" stop-color="#0048ff"/><stop offset=".517" stop-color="#0048ff"/><stop offset=".594" stop-color="#0049ff"/><stop offset=".629" stop-color="#0031ff"/><stop offset=".671" stop-color="#0000fc"/><stop offset=".699" stop-color="#0000ef"/><stop offset=".734" stop-color="#0002ff"/><stop offset=".759" stop-color="#0025ff"/><stop offset=".780" stop-color="#005dff"/><stop offset=".822" stop-color="#00f7ff"/><stop offset=".829" stop-color="#12ffed"/><stop offset=".853" stop-color="#5dffa2"/><stop offset=".878" stop-color="#8cff73"/><stop offset=".962" stop-color="#f2ff0d"/><stop offset=".972" stop-color="#fffc00"/><stop offset="1.000" stop-color="#ffd000"/></linearGradient><linearGradient id="g238" gradientUnits="userSpaceOnUse" x1="646.5" y1="0" x2="930.5" y2="0"><stop offset=".000" stop-color="#ffee00"/><stop offset=".014" stop-color="#fbff04"/><stop offset=".109" stop-color="#65ff9a"/><stop offset=".151" stop-color="#0dfff2"/><stop offset=".158" stop-color="#00faff"/><stop offset=".211" stop-color="#0077ff"/><stop offset=".243" stop-color="#0042ff"/><stop offset=".285" stop-color="#0024ff"/><stop offset=".320" stop-color="#0022ff"/><stop offset=".377" stop-color="#003fff"/><stop offset=".447" stop-color="#0029ff"/><stop offset=".549" stop-color="#002fff"/><stop offset=".592" stop-color="#0032ff"/><stop offset=".630" stop-color="#0037ff"/><stop offset=".694" stop-color="#001eff"/><stop offset=".729" stop-color="#002dff"/><stop offset=".757" stop-color="#0051ff"/><stop offset=".782" stop-color="#008dff"/><stop offset=".813" stop-color="#00fcff"/><stop offset=".849" stop-color="#77ff88"/><stop offset=".870" stop-color="#a2ff5d"/><stop offset=".947" stop-color="#ecff13"/><stop offset=".965" stop-color="#fffa00"/><stop offset="1.000" stop-color="#ffc400"/></linearGradient><linearGradient id="g239" gradientUnits="userSpaceOnUse" x1="647.5" y1="0" x2="929.5" y2="0"><stop offset=".000" stop-color="#ffee00"/><stop offset=".014" stop-color="#fcff03"/><stop offset=".106" stop-color="#74ff8b"/><stop offset=".145" stop-color="#28ffd7"/><stop offset=".163" stop-color="#00faff"/><stop offset=".209" stop-color="#008bff"/><stop offset=".241" stop-color="#0059ff"/><stop offset=".284" stop-color="#003dff"/><stop offset=".323" stop-color="#003dff"/><stop offset=".369" stop-color="#004aff"/><stop offset=".408" stop-color="#0032ff"/><stop offset=".436" stop-color="#0021ff"/><stop offset=".535" stop-color="#002bff"/><stop offset=".582" stop-color="#0027ff"/><stop offset=".631" stop-color="#0040ff"/><stop offset=".702" stop-color="#0039ff"/><stop offset=".738" stop-color="#004fff"/><stop offset=".766" stop-color="#007aff"/><stop offset=".791" stop-color="#00bcff"/><stop offset=".809" stop-color="#00f8ff"/><stop offset=".816" stop-color="#12ffed"/><stop offset=".851" stop-color="#8bff74"/><stop offset=".869" stop-color="#afff50"/><stop offset=".943" stop-color="#ecff13"/><stop offset=".961" stop-color="#fffb00"/><stop offset="1.000" stop-color="#ffc100"/></linearGradient><linearGradient id="g240" gradientUnits="userSpaceOnUse" x1="648.5" y1="0" x2="928.5" y2="0"><stop offset=".000" stop-color="#ffe800"/><stop offset=".021" stop-color="#faff05"/><stop offset=".100" stop-color="#97ff68"/><stop offset=".143" stop-color="#4bffb4"/><stop offset=".175" stop-color="#00fbff"/><stop offset=".214" stop-color="#00aaff"/><stop offset=".246" stop-color="#0084ff"/><stop offset=".296" stop-color="#0072ff"/><stop offset=".357" stop-color="#0073ff"/><stop offset=".393" stop-color="#004fff"/><stop offset=".429" stop-color="#0023ff"/><stop offset=".521" stop-color="#0032ff"/><stop offset=".579" stop-color="#0027ff"/><stop offset=".643" stop-color="#0062ff"/><stop offset=".721" stop-color="#007cff"/><stop offset=".757" stop-color="#009eff"/><stop offset=".782" stop-color="#00cfff"/><stop offset=".800" stop-color="#01fffe"/><stop offset=".854" stop-color="#aaff55"/><stop offset=".871" stop-color="#c9ff36"/><stop offset=".936" stop-color="#eeff11"/><stop offset=".954" stop-color="#fffb00"/><stop offset="1.000" stop-color="#ffb600"/></linearGradient><linearGradient id="g241" gradientUnits="userSpaceOnUse" x1="650.5" y1="0" x2="926.5" y2="0"><stop offset=".000" stop-color="#ffec00"/><stop offset=".018" stop-color="#fcff03"/><stop offset=".091" stop-color="#a9ff56"/><stop offset=".134" stop-color="#61ff9e"/><stop offset=".178" stop-color="#00fdff"/><stop offset=".214" stop-color="#00bbff"/><stop offset=".246" stop-color="#009cff"/><stop offset=".312" stop-color="#0090ff"/><stop offset=".351" stop-color="#008dff"/><stop offset=".384" stop-color="#0067ff"/><stop offset=".424" stop-color="#0030ff"/><stop offset=".449" stop-color="#002dff"/><stop offset=".514" stop-color="#003cff"/><stop offset=".576" stop-color="#0031ff"/><stop offset=".616" stop-color="#0058ff"/><stop offset=".656" stop-color="#007dff"/><stop offset=".739" stop-color="#00a3ff"/><stop offset=".772" stop-color="#00caff"/><stop offset=".797" stop-color="#02fffd"/><stop offset=".859" stop-color="#b4ff4b"/><stop offset=".877" stop-color="#d1ff2e"/><stop offset=".942" stop-color="#f3ff0c"/><stop offset=".957" stop-color="#fffa00"/><stop offset="1.000" stop-color="#ffb900"/></linearGradient><linearGradient id="g242" gradientUnits="userSpaceOnUse" x1="651.5" y1="0" x2="925.5" y2="0"><stop offset=".000" stop-color="#ffe500"/><stop offset=".026" stop-color="#feff01"/><stop offset=".077" stop-color="#cfff30"/><stop offset=".128" stop-color="#82ff7d"/><stop offset=".193" stop-color="#02fffd"/><stop offset=".230" stop-color="#00d8ff"/><stop offset=".285" stop-color="#00cdff"/><stop offset=".350" stop-color="#00bdff"/><stop offset=".420" stop-color="#0056ff"/><stop offset=".445" stop-color="#004dff"/><stop offset=".511" stop-color="#005eff"/><stop offset=".573" stop-color="#0053ff"/><stop offset=".602" stop-color="#0069ff"/><stop offset=".657" stop-color="#00aaff"/><stop offset=".763" stop-color="#00eeff"/><stop offset=".777" stop-color="#02fffd"/><stop offset=".810" stop-color="#44ffbb"/><stop offset=".858" stop-color="#b9ff46"/><stop offset=".883" stop-color="#ddff22"/><stop offset=".942" stop-color="#f6ff09"/><stop offset=".953" stop-color="#fffb00"/><stop offset="1.000" stop-color="#ffaf00"/></linearGradient><linearGradient id="g243" gradientUnits="userSpaceOnUse" x1="652.5" y1="0" x2="924.5" y2="0"><stop offset=".000" stop-color="#ffe400"/><stop offset=".033" stop-color="#fdff02"/><stop offset=".074" stop-color="#d9ff26"/><stop offset=".125" stop-color="#8dff72"/><stop offset=".191" stop-color="#15ffea"/><stop offset=".210" stop-color="#00feff"/><stop offset=".243" stop-color="#00ebff"/><stop offset=".316" stop-color="#00e2ff"/><stop offset=".349" stop-color="#00d2ff"/><stop offset=".415" stop-color="#006fff"/><stop offset=".441" stop-color="#0062ff"/><stop offset=".511" stop-color="#0074ff"/><stop offset=".574" stop-color="#0069ff"/><stop offset=".607" stop-color="#0082ff"/><stop offset=".665" stop-color="#00c7ff"/><stop offset=".735" stop-color="#00f6ff"/><stop offset=".761" stop-color="#05fffa"/><stop offset=".790" stop-color="#29ffd6"/><stop offset=".831" stop-color="#7fff80"/><stop offset=".864" stop-color="#c5ff3a"/><stop offset=".890" stop-color="#e2ff1d"/><stop offset=".945" stop-color="#f9ff06"/><stop offset=".956" stop-color="#fff800"/><stop offset="1.000" stop-color="#ffad00"/></linearGradient><linearGradient id="g244" gradientUnits="userSpaceOnUse" x1="654.5" y1="0" x2="922.5" y2="0"><stop offset=".000" stop-color="#ffdf00"/><stop offset=".052" stop-color="#fcff03"/><stop offset=".108" stop-color="#b4ff4b"/><stop offset=".187" stop-color="#39ffc6"/><stop offset=".220" stop-color="#1fffe0"/><stop offset=".287" stop-color="#1fffe0"/><stop offset=".343" stop-color="#00fcff"/><stop offset=".410" stop-color="#00a1ff"/><stop offset=".440" stop-color="#0094ff"/><stop offset=".507" stop-color="#00a8ff"/><stop offset=".575" stop-color="#009bff"/><stop offset=".608" stop-color="#00b0ff"/><stop offset=".679" stop-color="#00ffff"/><stop offset=".728" stop-color="#28ffd7"/><stop offset=".776" stop-color="#39ffc6"/><stop offset=".810" stop-color="#64ff9b"/><stop offset=".869" stop-color="#ceff31"/><stop offset=".903" stop-color="#ecff13"/><stop offset=".955" stop-color="#fffb00"/><stop offset="1.000" stop-color="#ffab00"/></linearGradient><linearGradient id="g245" gradientUnits="userSpaceOnUse" x1="655.5" y1="0" x2="921.5" y2="0"><stop offset=".000" stop-color="#ffdb00"/><stop offset=".056" stop-color="#fcff03"/><stop offset=".117" stop-color="#adff52"/><stop offset=".180" stop-color="#4effb1"/><stop offset=".214" stop-color="#33ffcc"/><stop offset=".259" stop-color="#37ffc8"/><stop offset=".289" stop-color="#34ffcb"/><stop offset=".342" stop-color="#10ffef"/><stop offset=".357" stop-color="#00fdff"/><stop offset=".406" stop-color="#00bcff"/><stop offset=".436" stop-color="#00aeff"/><stop offset=".508" stop-color="#00c5ff"/><stop offset=".575" stop-color="#00b6ff"/><stop offset=".613" stop-color="#00ccff"/><stop offset=".662" stop-color="#03fffc"/><stop offset=".726" stop-color="#3dffc2"/><stop offset=".782" stop-color="#4fffb0"/><stop offset=".816" stop-color="#77ff88"/><stop offset=".876" stop-color="#d6ff29"/><stop offset=".914" stop-color="#f2ff0d"/><stop offset=".951" stop-color="#fffb00"/><stop offset=".974" stop-color="#ffdc00"/><stop offset="1.000" stop-color="#ffab00"/></linearGradient><linearGradient id="g246" gradientUnits="userSpaceOnUse" x1="657.5" y1="0" x2="919.5" y2="0"><stop offset=".000" stop-color="#ffd000"/><stop offset=".061" stop-color="#feff01"/><stop offset=".176" stop-color="#6bff94"/><stop offset=".210" stop-color="#56ffa9"/><stop offset=".282" stop-color="#5cffa3"/><stop offset=".332" stop-color="#3cffc3"/><stop offset=".385" stop-color="#00fcff"/><stop offset=".420" stop-color="#00e4ff"/><stop offset=".454" stop-color="#00eaff"/><stop offset=".496" stop-color="#03fffc"/><stop offset=".531" stop-color="#00faff"/><stop offset=".576" stop-color="#00ecff"/><stop offset=".622" stop-color="#04fffb"/><stop offset=".718" stop-color="#5bffa4"/><stop offset=".794" stop-color="#73ff8c"/><stop offset=".836" stop-color="#a3ff5c"/><stop offset=".889" stop-color="#e6ff19"/><stop offset=".931" stop-color="#fffd00"/><stop offset=".966" stop-color="#ffe200"/><stop offset="1.000" stop-color="#ffac00"/></linearGradient><linearGradient id="g247" gradientUnits="userSpaceOnUse" x1="658.5" y1="0" x2="918.5" y2="0"><stop offset=".000" stop-color="#ffcb00"/><stop offset=".065" stop-color="#fcff03"/><stop offset=".173" stop-color="#79ff86"/><stop offset=".208" stop-color="#66ff99"/><stop offset=".281" stop-color="#6dff92"/><stop offset=".327" stop-color="#50ffaf"/><stop offset=".400" stop-color="#05fffa"/><stop offset=".442" stop-color="#00ffff"/><stop offset=".500" stop-color="#22ffdd"/><stop offset=".577" stop-color="#09fff6"/><stop offset=".619" stop-color="#19ffe6"/><stop offset=".723" stop-color="#6eff91"/><stop offset=".800" stop-color="#83ff7c"/><stop offset=".854" stop-color="#c0ff3f"/><stop offset=".904" stop-color="#f4ff0b"/><stop offset=".927" stop-color="#fffb00"/><stop offset=".969" stop-color="#ffda00"/><stop offset="1.000" stop-color="#ffab00"/></linearGradient><linearGradient id="g248" gradientUnits="userSpaceOnUse" x1="660.5" y1="0" x2="916.5" y2="0"><stop offset=".000" stop-color="#ffc200"/><stop offset=".070" stop-color="#fcff03"/><stop offset=".164" stop-color="#96ff69"/><stop offset=".203" stop-color="#84ff7b"/><stop offset=".277" stop-color="#8bff74"/><stop offset=".324" stop-color="#71ff8e"/><stop offset=".395" stop-color="#32ffcd"/><stop offset=".430" stop-color="#2effd1"/><stop offset=".504" stop-color="#57ffa8"/><stop offset=".582" stop-color="#3dffc2"/><stop offset=".629" stop-color="#4cffb3"/><stop offset=".727" stop-color="#8bff74"/><stop offset=".809" stop-color="#9eff61"/><stop offset=".910" stop-color="#ffff00"/><stop offset=".977" stop-color="#ffc800"/><stop offset="1.000" stop-color="#ffa800"/></linearGradient><linearGradient id="g249" gradientUnits="userSpaceOnUse" x1="662.5" y1="0" x2="914.5" y2="0"><stop offset=".000" stop-color="#ffc200"/><stop offset=".067" stop-color="#feff01"/><stop offset=".155" stop-color="#a5ff5a"/><stop offset=".194" stop-color="#92ff6d"/><stop offset=".278" stop-color="#98ff67"/><stop offset=".325" stop-color="#7dff82"/><stop offset=".389" stop-color="#48ffb7"/><stop offset=".429" stop-color="#45ffba"/><stop offset=".504" stop-color="#6dff92"/><stop offset=".587" stop-color="#56ffa9"/><stop offset=".639" stop-color="#66ff99"/><stop offset=".730" stop-color="#99ff66"/><stop offset=".813" stop-color="#aaff55"/><stop offset=".913" stop-color="#fffc00"/><stop offset=".984" stop-color="#ffbf00"/><stop offset="1.000" stop-color="#ffab00"/></linearGradient><linearGradient id="g250" gradientUnits="userSpaceOnUse" x1="664.5" y1="0" x2="912.5" y2="0"><stop offset=".000" stop-color="#ffbb00"/><stop offset=".077" stop-color="#fbff04"/><stop offset=".149" stop-color="#bbff44"/><stop offset=".194" stop-color="#acff53"/><stop offset=".278" stop-color="#b1ff4e"/><stop offset=".335" stop-color="#91ff6e"/><stop offset=".391" stop-color="#6dff92"/><stop offset=".435" stop-color="#72ff8d"/><stop offset=".504" stop-color="#95ff6a"/><stop offset=".605" stop-color="#85ff7a"/><stop offset=".690" stop-color="#a3ff5c"/><stop offset=".762" stop-color="#b7ff48"/><stop offset=".823" stop-color="#c4ff3b"/><stop offset=".903" stop-color="#fffb00"/><stop offset=".992" stop-color="#ffac00"/><stop offset="1.000" stop-color="#ffa300"/></linearGradient><linearGradient id="g251" gradientUnits="userSpaceOnUse" x1="666.5" y1="0" x2="910.5" y2="0"><stop offset=".000" stop-color="#ffbb00"/><stop offset=".074" stop-color="#feff01"/><stop offset=".143" stop-color="#c6ff39"/><stop offset=".193" stop-color="#b9ff46"/><stop offset=".275" stop-color="#beff41"/><stop offset=".336" stop-color="#9cff63"/><stop offset=".389" stop-color="#80ff7f"/><stop offset=".434" stop-color="#86ff79"/><stop offset=".504" stop-color="#a6ff59"/><stop offset=".615" stop-color="#9bff64"/><stop offset=".758" stop-color="#c2ff3d"/><stop offset=".828" stop-color="#cfff30"/><stop offset=".898" stop-color="#fffd00"/><stop offset=".996" stop-color="#ffa800"/><stop offset="1.000" stop-color="#ffa300"/></linearGradient><linearGradient id="g252" gradientUnits="userSpaceOnUse" x1="669.5" y1="0" x2="907.5" y2="0"><stop offset=".000" stop-color="#ffb900"/><stop offset=".080" stop-color="#feff01"/><stop offset=".143" stop-color="#d7ff28"/><stop offset=".202" stop-color="#d1ff2e"/><stop offset=".277" stop-color="#d3ff2c"/><stop offset=".382" stop-color="#a2ff5d"/><stop offset=".433" stop-color="#a9ff56"/><stop offset=".508" stop-color="#c7ff38"/><stop offset=".647" stop-color="#c5ff3a"/><stop offset=".836" stop-color="#e5ff1a"/><stop offset=".887" stop-color="#fffc00"/><stop offset=".996" stop-color="#ffa200"/><stop offset="1.000" stop-color="#ff9e00"/></linearGradient><linearGradient id="g253" gradientUnits="userSpaceOnUse" x1="671.5" y1="0" x2="905.5" y2="0"><stop offset=".000" stop-color="#ffba00"/><stop offset=".081" stop-color="#ffff00"/><stop offset=".145" stop-color="#dfff20"/><stop offset=".222" stop-color="#dfff20"/><stop offset=".282" stop-color="#dbff24"/><stop offset=".380" stop-color="#b2ff4d"/><stop offset=".436" stop-color="#bbff44"/><stop offset=".513" stop-color="#d7ff28"/><stop offset=".684" stop-color="#d9ff26"/><stop offset=".842" stop-color="#f0ff0f"/><stop offset=".880" stop-color="#fffb00"/><stop offset=".987" stop-color="#ffaa00"/><stop offset="1.000" stop-color="#ff9d00"/></linearGradient><linearGradient id="g254" gradientUnits="userSpaceOnUse" x1="673.5" y1="0" x2="903.5" y2="0"><stop offset=".000" stop-color="#ffb400"/><stop offset=".087" stop-color="#fff800"/><stop offset=".122" stop-color="#f7ff08"/><stop offset=".196" stop-color="#f0ff0f"/><stop offset=".278" stop-color="#eeff11"/><stop offset=".378" stop-color="#cdff32"/><stop offset=".439" stop-color="#d9ff26"/><stop offset=".526" stop-color="#f4ff0b"/><stop offset=".787" stop-color="#f9ff06"/><stop offset=".848" stop-color="#fff900"/><stop offset=".930" stop-color="#ffcd00"/><stop offset="1.000" stop-color="#ff9300"/></linearGradient><linearGradient id="g255" gradientUnits="userSpaceOnUse" x1="676.5" y1="0" x2="900.5" y2="0"><stop offset=".000" stop-color="#ffb900"/><stop offset=".080" stop-color="#fff200"/><stop offset=".129" stop-color="#fcff03"/><stop offset=".277" stop-color="#f6ff09"/><stop offset=".375" stop-color="#daff25"/><stop offset=".446" stop-color="#e9ff16"/><stop offset=".522" stop-color="#fffe00"/><stop offset=".656" stop-color="#fffd00"/><stop offset=".830" stop-color="#fff600"/><stop offset=".911" stop-color="#ffd700"/><stop offset="1.000" stop-color="#ff9500"/></linearGradient><linearGradient id="g256" gradientUnits="userSpaceOnUse" x1="679.5" y1="0" x2="897.5" y2="0"><stop offset=".000" stop-color="#ffb500"/><stop offset=".069" stop-color="#ffe100"/><stop offset=".151" stop-color="#fff400"/><stop offset=".275" stop-color="#fffa00"/><stop offset=".372" stop-color="#f1ff0e"/><stop offset=".454" stop-color="#fffb00"/><stop offset=".555" stop-color="#ffe400"/><stop offset=".661" stop-color="#ffe500"/><stop offset=".807" stop-color="#ffe700"/><stop offset=".899" stop-color="#ffce00"/><stop offset=".982" stop-color="#ff9c00"/><stop offset="1.000" stop-color="#ff8d00"/></linearGradient><linearGradient id="g257" gradientUnits="userSpaceOnUse" x1="682.5" y1="0" x2="894.5" y2="0"><stop offset=".000" stop-color="#ffb800"/><stop offset=".066" stop-color="#ffdc00"/><stop offset=".160" stop-color="#ffec00"/><stop offset=".278" stop-color="#fff400"/><stop offset=".358" stop-color="#fcff03"/><stop offset=".429" stop-color="#fff800"/><stop offset=".552" stop-color="#ffda00"/><stop offset=".660" stop-color="#ffda00"/><stop offset=".802" stop-color="#ffdf00"/><stop offset=".901" stop-color="#ffc800"/><stop offset=".991" stop-color="#ff9600"/><stop offset="1.000" stop-color="#ff8e00"/></linearGradient><linearGradient id="g258" gradientUnits="userSpaceOnUse" x1="685.5" y1="0" x2="891.5" y2="0"><stop offset=".000" stop-color="#ffb000"/><stop offset=".078" stop-color="#ffd100"/><stop offset=".369" stop-color="#ffee00"/><stop offset=".573" stop-color="#ffc500"/><stop offset=".694" stop-color="#ffcc00"/><stop offset=".820" stop-color="#ffcc00"/><stop offset=".922" stop-color="#ffb000"/><stop offset="1.000" stop-color="#ff8400"/></linearGradient><linearGradient id="g259" gradientUnits="userSpaceOnUse" x1="688.5" y1="0" x2="888.5" y2="0"><stop offset=".000" stop-color="#ffb000"/><stop offset=".090" stop-color="#ffcd00"/><stop offset=".360" stop-color="#ffe500"/><stop offset=".585" stop-color="#ffbc00"/><stop offset=".805" stop-color="#ffc600"/><stop offset=".915" stop-color="#ffad00"/><stop offset="1.000" stop-color="#ff8300"/></linearGradient><linearGradient id="g260" gradientUnits="userSpaceOnUse" x1="691.5" y1="0" x2="885.5" y2="0"><stop offset=".000" stop-color="#ffa300"/><stop offset=".108" stop-color="#ffc100"/><stop offset=".340" stop-color="#ffd500"/><stop offset=".598" stop-color="#ffad00"/><stop offset=".799" stop-color="#ffb600"/><stop offset=".918" stop-color="#ff9c00"/><stop offset="1.000" stop-color="#ff7600"/></linearGradient><linearGradient id="g261" gradientUnits="userSpaceOnUse" x1="695.5" y1="0" x2="881.5" y2="0"><stop offset=".000" stop-color="#ffa100"/><stop offset=".134" stop-color="#ffbe00"/><stop offset=".323" stop-color="#ffce00"/><stop offset=".484" stop-color="#ffb500"/><stop offset=".624" stop-color="#ffa600"/><stop offset=".806" stop-color="#ffaf00"/><stop offset=".930" stop-color="#ff9400"/><stop offset="1.000" stop-color="#ff7600"/></linearGradient><linearGradient id="g262" gradientUnits="userSpaceOnUse" x1="699.5" y1="0" x2="877.5" y2="0"><stop offset=".000" stop-color="#ff9400"/><stop offset=".185" stop-color="#ffb900"/><stop offset=".331" stop-color="#ffbd00"/><stop offset=".612" stop-color="#ff9900"/><stop offset=".815" stop-color="#ff9f00"/><stop offset=".944" stop-color="#ff8100"/><stop offset="1.000" stop-color="#ff6a00"/></linearGradient><linearGradient id="g263" gradientUnits="userSpaceOnUse" x1="703.5" y1="0" x2="873.5" y2="0"><stop offset=".000" stop-color="#ff9100"/><stop offset=".212" stop-color="#ffb700"/><stop offset=".376" stop-color="#ffb000"/><stop offset=".618" stop-color="#ff9200"/><stop offset=".824" stop-color="#ff9800"/><stop offset=".959" stop-color="#ff7800"/><stop offset="1.000" stop-color="#ff6900"/></linearGradient><linearGradient id="g264" gradientUnits="userSpaceOnUse" x1="708.5" y1="0" x2="868.5" y2="0"><stop offset=".000" stop-color="#ff8500"/><stop offset=".200" stop-color="#ffa900"/><stop offset=".400" stop-color="#ff9d00"/><stop offset=".644" stop-color="#ff8500"/><stop offset=".838" stop-color="#ff8800"/><stop offset=".988" stop-color="#ff6200"/><stop offset="1.000" stop-color="#ff5e00"/></linearGradient><linearGradient id="g265" gradientUnits="userSpaceOnUse" x1="713.5" y1="0" x2="863.5" y2="0"><stop offset=".000" stop-color="#ff8200"/><stop offset=".187" stop-color="#ffa100"/><stop offset=".433" stop-color="#ff9200"/><stop offset=".667" stop-color="#ff7e00"/><stop offset=".860" stop-color="#ff8000"/><stop offset="1.000" stop-color="#ff5e00"/></linearGradient><linearGradient id="g266" gradientUnits="userSpaceOnUse" x1="719.5" y1="0" x2="857.5" y2="0"><stop offset=".000" stop-color="#ff7800"/><stop offset=".167" stop-color="#ff9100"/><stop offset=".500" stop-color="#ff7c00"/><stop offset=".725" stop-color="#ff7000"/><stop offset=".891" stop-color="#ff6d00"/><stop offset="1.000" stop-color="#ff5400"/></linearGradient><linearGradient id="g267" gradientUnits="userSpaceOnUse" x1="725.5" y1="0" x2="851.5" y2="0"><stop offset=".000" stop-color="#ff7700"/><stop offset=".151" stop-color="#ff8800"/><stop offset=".563" stop-color="#ff7000"/><stop offset=".817" stop-color="#ff6800"/><stop offset=".952" stop-color="#ff5e00"/><stop offset="1.000" stop-color="#ff5400"/></linearGradient><linearGradient id="g268" gradientUnits="userSpaceOnUse" x1="732.5" y1="0" x2="844.5" y2="0"><stop offset=".000" stop-color="#ff6b00"/><stop offset=".188" stop-color="#ff7300"/><stop offset=".857" stop-color="#ff5500"/><stop offset="1.000" stop-color="#ff4900"/></linearGradient><linearGradient id="g269" gradientUnits="userSpaceOnUse" x1="741.5" y1="0" x2="835.5" y2="0"><stop offset=".000" stop-color="#ff6800"/><stop offset=".479" stop-color="#ff5f00"/><stop offset=".926" stop-color="#ff4b00"/><stop offset="1.000" stop-color="#ff4800"/></linearGradient><linearGradient id="g270" gradientUnits="userSpaceOnUse" x1="751.5" y1="0" x2="825.5" y2="0"><stop offset=".000" stop-color="#ff5400"/><stop offset=".595" stop-color="#ff4700"/><stop offset="1.000" stop-color="#ff3600"/></linearGradient><linearGradient id="g271" gradientUnits="userSpaceOnUse" x1="768.5" y1="0" x2="808.5" y2="0"><stop offset=".000" stop-color="#ff4800"/><stop offset=".825" stop-color="#ff3900"/><stop offset="1.000" stop-color="#ff3400"/></linearGradient><linearGradient id="g272" x1="0" y1="0" x2="0" y2="1"><stop offset="0.0000" stop-color="#800000"/><stop offset="0.0625" stop-color="#bf0000"/><stop offset="0.1250" stop-color="#ff0000"/><stop offset="0.1875" stop-color="#ff4000"/><stop offset="0.2500" stop-color="#ff8000"/><stop offset="0.3125" stop-color="#ffbf00"/><stop offset="0.3750" stop-color="#ffff00"/><stop offset="0.4375" stop-color="#bfff40"/><stop offset="0.5000" stop-color="#80ff80"/><stop offset="0.5625" stop-color="#40ffbf"/><stop offset="0.6250" stop-color="#00ffff"/><stop offset="0.6875" stop-color="#00bfff"/><stop offset="0.7500" stop-color="#0080ff"/><stop offset="0.8125" stop-color="#0040ff"/><stop offset="0.8750" stop-color="#0000ff"/><stop offset="0.9375" stop-color="#0000bf"/><stop offset="1.0000" stop-color="#000080"/></linearGradient></defs><rect width="1535" height="1583" fill="#fff"/>
<text x="0" y="0" font-family="'Liberation Serif','Times New Roman',serif" font-weight="bold" font-size="46" transform="translate(4.8 37) scale(0.96 1)">A</text>
<text x="5" y="970.2" font-family="'Liberation Serif','Times New Roman',serif" font-weight="bold" font-size="47">B</text>
<text x="0" y="0" text-anchor="middle" font-family="'Liberation Sans',Arial,Helvetica,sans-serif" font-weight="bold" font-size="42.5" transform="translate(324.7 70.6) scale(1.1 1)">PT</text>
<text x="0" y="0" text-anchor="middle" font-family="'Liberation Sans',Arial,Helvetica,sans-serif" font-weight="bold" font-size="42.5" transform="translate(1177.2 73.6) scale(1.09 1)">HC</text>
<g clip-path="url(#c1)"><g filter="url(#vb)">
<rect x="89.5" y="811.23" width="514.5" height="15.77" fill="url(#g2)"/>
<rect x="89.5" y="788.27" width="514.5" height="23.55" fill="url(#g3)"/>
<rect x="89.5" y="765.33" width="514.5" height="23.55" fill="url(#g4)"/>
<rect x="89.5" y="742.38" width="514.5" height="23.55" fill="url(#g5)"/>
<rect x="89.5" y="719.43" width="514.5" height="23.55" fill="url(#g6)"/>
<rect x="89.5" y="696.48" width="514.5" height="23.55" fill="url(#g7)"/>
<rect x="89.5" y="673.52" width="514.5" height="23.55" fill="url(#g8)"/>
<rect x="89.5" y="650.58" width="514.5" height="23.55" fill="url(#g9)"/>
<rect x="89.5" y="627.62" width="514.5" height="23.55" fill="url(#g10)"/>
<rect x="89.5" y="604.68" width="514.5" height="23.55" fill="url(#g11)"/>
<rect x="89.5" y="581.73" width="514.5" height="23.55" fill="url(#g12)"/>
<rect x="89.5" y="558.77" width="514.5" height="23.55" fill="url(#g13)"/>
<rect x="89.5" y="535.83" width="514.5" height="23.55" fill="url(#g14)"/>
<rect x="89.5" y="512.88" width="514.5" height="23.55" fill="url(#g15)"/>
<rect x="89.5" y="489.92" width="514.5" height="23.55" fill="url(#g16)"/>
<rect x="89.5" y="466.97" width="514.5" height="23.55" fill="url(#g17)"/>
<rect x="89.5" y="444.02" width="514.5" height="23.55" fill="url(#g18)"/>
<rect x="89.5" y="421.07" width="514.5" height="23.55" fill="url(#g19)"/>
<rect x="89.5" y="398.12" width="514.5" height="23.55" fill="url(#g20)"/>
<rect x="89.5" y="375.17" width="514.5" height="23.55" fill="url(#g21)"/>
<rect x="89.5" y="352.22" width="514.5" height="23.55" fill="url(#g22)"/>
<rect x="89.5" y="329.27" width="514.5" height="23.55" fill="url(#g23)"/>
<rect x="89.5" y="306.32" width="514.5" height="23.55" fill="url(#g24)"/>
<rect x="89.5" y="283.37" width="514.5" height="23.55" fill="url(#g25)"/>
<rect x="89.5" y="260.43" width="514.5" height="23.55" fill="url(#g26)"/>
<rect x="89.5" y="237.47" width="514.5" height="23.55" fill="url(#g27)"/>
<rect x="89.5" y="214.53" width="514.5" height="23.55" fill="url(#g28)"/>
<rect x="89.5" y="191.58" width="514.5" height="23.55" fill="url(#g29)"/>
<rect x="89.5" y="168.62" width="514.5" height="23.55" fill="url(#g30)"/>
<rect x="89.5" y="145.68" width="514.5" height="23.55" fill="url(#g31)"/>
<rect x="89.5" y="122.73" width="514.5" height="23.55" fill="url(#g32)"/>
<rect x="89.5" y="99.78" width="514.5" height="23.55" fill="url(#g33)"/>
<rect x="89.5" y="84.60" width="514.5" height="15.78" fill="url(#g34)"/>
</g></g>
<line x1="211.5" y1="88.6" x2="211.5" y2="823" stroke="#1c5e30" stroke-width="2.2" stroke-dasharray="2.2,1.3" stroke-opacity="0.85"/>
<rect x="93.5" y="88.6" width="506.5" height="734.4" fill="none" stroke="#4a5a4a" stroke-width="1.3"/>
<path d="M211.5 823v-6M211.5 88.6v6M346.2 823v-6M346.2 88.6v6M480.9 823v-6M480.9 88.6v6M93.5 823h6M600 823h-6M93.5 670.3h6M600 670.3h-6M93.5 569.7h6M600 569.7h-6M93.5 494.6h6M600 494.6h-6M93.5 434.6h6M600 434.6h-6M93.5 384.7h6M600 384.7h-6M93.5 341.9h6M600 341.9h-6M93.5 304.5h6M600 304.5h-6M93.5 271.2h6M600 271.2h-6M93.5 241.3h6M600 241.3h-6M93.5 214.1h6M600 214.1h-6M93.5 177.5h6M600 177.5h-6M93.5 144.8h6M600 144.8h-6M93.5 115.4h6M600 115.4h-6M93.5 88.6h6M600 88.6h-6" stroke="#333" stroke-width="1.2" fill="none"/>
<g font-family="'Liberation Sans',Arial,Helvetica,sans-serif" fill="#333" stroke="#333" stroke-width="0.3" font-size="17.5">
<text x="0" y="829.2" text-anchor="end" transform="translate(83.9 0) scale(1.12 1) translate(0 0)">3</text>
<text x="0" y="676.5" text-anchor="end" transform="translate(83.9 0) scale(1.12 1) translate(0 0)">5</text>
<text x="0" y="575.9" text-anchor="end" transform="translate(83.9 0) scale(1.12 1) translate(0 0)">7</text>
<text x="0" y="500.8" text-anchor="end" transform="translate(83.9 0) scale(1.12 1) translate(0 0)">9</text>
<text x="0" y="440.8" text-anchor="end" transform="translate(83.9 0) scale(1.12 1) translate(0 0)">11</text>
<text x="0" y="390.9" text-anchor="end" transform="translate(83.9 0) scale(1.12 1) translate(0 0)">13</text>
<text x="0" y="348.1" text-anchor="end" transform="translate(83.9 0) scale(1.12 1) translate(0 0)">15</text>
<text x="0" y="310.7" text-anchor="end" transform="translate(83.9 0) scale(1.12 1) translate(0 0)">17</text>
<text x="0" y="277.4" text-anchor="end" transform="translate(83.9 0) scale(1.12 1) translate(0 0)">19</text>
<text x="0" y="247.5" text-anchor="end" transform="translate(83.9 0) scale(1.12 1) translate(0 0)">21</text>
<text x="0" y="220.3" text-anchor="end" transform="translate(83.9 0) scale(1.12 1) translate(0 0)">23</text>
<text x="0" y="183.7" text-anchor="end" transform="translate(83.9 0) scale(1.12 1) translate(0 0)">26</text>
<text x="0" y="151" text-anchor="end" transform="translate(83.9 0) scale(1.12 1) translate(0 0)">29</text>
<text x="0" y="121.6" text-anchor="end" transform="translate(83.9 0) scale(1.12 1) translate(0 0)">32</text>
<text x="0" y="94.8" text-anchor="end" transform="translate(83.9 0) scale(1.12 1) translate(0 0)">35</text>
<text x="0" y="850.5" text-anchor="middle" transform="translate(211.5 0) scale(1.2 1)">0</text>
<text x="0" y="850.5" text-anchor="middle" transform="translate(346.2 0) scale(1.2 1)">500</text>
<text x="0" y="850.5" text-anchor="middle" transform="translate(480.9 0) scale(1.2 1)">1000</text>
</g>
<text x="0" y="877.7" text-anchor="middle" font-family="'Liberation Sans',Arial,Helvetica,sans-serif" fill="#333" stroke="#333" stroke-width="0.3" font-size="20.5" transform="translate(346.8 0) scale(1.175 1)">Time (ms)</text>
<g clip-path="url(#c35)"><g filter="url(#vb)">
<rect x="935" y="811.23" width="515.5" height="15.77" fill="url(#g36)"/>
<rect x="935" y="788.27" width="515.5" height="23.55" fill="url(#g37)"/>
<rect x="935" y="765.33" width="515.5" height="23.55" fill="url(#g38)"/>
<rect x="935" y="742.38" width="515.5" height="23.55" fill="url(#g39)"/>
<rect x="935" y="719.43" width="515.5" height="23.55" fill="url(#g40)"/>
<rect x="935" y="696.48" width="515.5" height="23.55" fill="url(#g41)"/>
<rect x="935" y="673.52" width="515.5" height="23.55" fill="url(#g42)"/>
<rect x="935" y="650.58" width="515.5" height="23.55" fill="url(#g43)"/>
<rect x="935" y="627.62" width="515.5" height="23.55" fill="url(#g44)"/>
<rect x="935" y="604.68" width="515.5" height="23.55" fill="url(#g45)"/>
<rect x="935" y="581.73" width="515.5" height="23.55" fill="url(#g46)"/>
<rect x="935" y="558.77" width="515.5" height="23.55" fill="url(#g47)"/>
<rect x="935" y="535.83" width="515.5" height="23.55" fill="url(#g48)"/>
<rect x="935" y="512.88" width="515.5" height="23.55" fill="url(#g49)"/>
<rect x="935" y="489.92" width="515.5" height="23.55" fill="url(#g50)"/>
<rect x="935" y="466.97" width="515.5" height="23.55" fill="url(#g51)"/>
<rect x="935" y="444.02" width="515.5" height="23.55" fill="url(#g52)"/>
<rect x="935" y="421.07" width="515.5" height="23.55" fill="url(#g53)"/>
<rect x="935" y="398.12" width="515.5" height="23.55" fill="url(#g54)"/>
<rect x="935" y="375.17" width="515.5" height="23.55" fill="url(#g55)"/>
<rect x="935" y="352.22" width="515.5" height="23.55" fill="url(#g56)"/>
<rect x="935" y="329.27" width="515.5" height="23.55" fill="url(#g57)"/>
<rect x="935" y="306.32" width="515.5" height="23.55" fill="url(#g58)"/>
<rect x="935" y="283.37" width="515.5" height="23.55" fill="url(#g59)"/>
<rect x="935" y="260.43" width="515.5" height="23.55" fill="url(#g60)"/>
<rect x="935" y="237.47" width="515.5" height="23.55" fill="url(#g61)"/>
<rect x="935" y="214.53" width="515.5" height="23.55" fill="url(#g62)"/>
<rect x="935" y="191.58" width="515.5" height="23.55" fill="url(#g63)"/>
<rect x="935" y="168.62" width="515.5" height="23.55" fill="url(#g64)"/>
<rect x="935" y="145.68" width="515.5" height="23.55" fill="url(#g65)"/>
<rect x="935" y="122.73" width="515.5" height="23.55" fill="url(#g66)"/>
<rect x="935" y="99.78" width="515.5" height="23.55" fill="url(#g67)"/>
<rect x="935" y="84.60" width="515.5" height="15.78" fill="url(#g68)"/>
</g></g>
<line x1="1058" y1="88.6" x2="1058" y2="823" stroke="#1c5e30" stroke-width="2.2" stroke-dasharray="2.2,1.3" stroke-opacity="0.85"/>
<rect x="939" y="88.6" width="507.5" height="734.4" fill="none" stroke="#4a5a4a" stroke-width="1.3"/>
<path d="M1058 823v-6M1058 88.6v6M1192.7 823v-6M1192.7 88.6v6M1327.4 823v-6M1327.4 88.6v6M939 823h6M1446.5 823h-6M939 670.3h6M1446.5 670.3h-6M939 569.7h6M1446.5 569.7h-6M939 494.6h6M1446.5 494.6h-6M939 434.6h6M1446.5 434.6h-6M939 384.7h6M1446.5 384.7h-6M939 341.9h6M1446.5 341.9h-6M939 304.5h6M1446.5 304.5h-6M939 271.2h6M1446.5 271.2h-6M939 241.3h6M1446.5 241.3h-6M939 214.1h6M1446.5 214.1h-6M939 177.5h6M1446.5 177.5h-6M939 144.8h6M1446.5 144.8h-6M939 115.4h6M1446.5 115.4h-6M939 88.6h6M1446.5 88.6h-6" stroke="#333" stroke-width="1.2" fill="none"/>
<g font-family="'Liberation Sans',Arial,Helvetica,sans-serif" fill="#333" stroke="#333" stroke-width="0.3" font-size="17.5">
<text x="0" y="829.2" text-anchor="end" transform="translate(929.4 0) scale(1.12 1) translate(0 0)">3</text>
<text x="0" y="676.5" text-anchor="end" transform="translate(929.4 0) scale(1.12 1) translate(0 0)">5</text>
<text x="0" y="575.9" text-anchor="end" transform="translate(929.4 0) scale(1.12 1) translate(0 0)">7</text>
<text x="0" y="500.8" text-anchor="end" transform="translate(929.4 0) scale(1.12 1) translate(0 0)">9</text>
<text x="0" y="440.8" text-anchor="end" transform="translate(929.4 0) scale(1.12 1) translate(0 0)">11</text>
<text x="0" y="390.9" text-anchor="end" transform="translate(929.4 0) scale(1.12 1) translate(0 0)">13</text>
<text x="0" y="348.1" text-anchor="end" transform="translate(929.4 0) scale(1.12 1) translate(0 0)">15</text>
<text x="0" y="310.7" text-anchor="end" transform="translate(929.4 0) scale(1.12 1) translate(0 0)">17</text>
<text x="0" y="277.4" text-anchor="end" transform="translate(929.4 0) scale(1.12 1) translate(0 0)">19</text>
<text x="0" y="247.5" text-anchor="end" transform="translate(929.4 0) scale(1.12 1) translate(0 0)">21</text>
<text x="0" y="220.3" text-anchor="end" transform="translate(929.4 0) scale(1.12 1) translate(0 0)">23</text>
<text x="0" y="183.7" text-anchor="end" transform="translate(929.4 0) scale(1.12 1) translate(0 0)">26</text>
<text x="0" y="151" text-anchor="end" transform="translate(929.4 0) scale(1.12 1) translate(0 0)">29</text>
<text x="0" y="121.6" text-anchor="end" transform="translate(929.4 0) scale(1.12 1) translate(0 0)">32</text>
<text x="0" y="94.8" text-anchor="end" transform="translate(929.4 0) scale(1.12 1) translate(0 0)">35</text>
<text x="0" y="850.5" text-anchor="middle" transform="translate(1058 0) scale(1.2 1)">0</text>
<text x="0" y="850.5" text-anchor="middle" transform="translate(1192.7 0) scale(1.2 1)">500</text>
<text x="0" y="850.5" text-anchor="middle" transform="translate(1327.4 0) scale(1.2 1)">1000</text>
</g>
<text x="0" y="877.7" text-anchor="middle" font-family="'Liberation Sans',Arial,Helvetica,sans-serif" fill="#333" stroke="#333" stroke-width="0.3" font-size="20.5" transform="translate(1193.3 0) scale(1.175 1)">Time (ms)</text>
<text x="0" y="0" text-anchor="middle" font-family="'Liberation Sans',Arial,Helvetica,sans-serif" fill="#333" stroke="#333" stroke-width="0.3" font-size="20.3" transform="translate(47.3 455.7) rotate(-90) scale(1.045 1)">Frequency (Hz)</text>
<rect x="1461.5" y="88.6" width="25.3" height="734.4" fill="url(#g69)" stroke="#555" stroke-width="1"/>
<path d="M1461.5 88.6h4M1486.8 88.6h-4M1461.5 272.2h4M1486.8 272.2h-4M1461.5 455.8h4M1486.8 455.8h-4M1461.5 639.4h4M1486.8 639.4h-4M1461.5 823h4M1486.8 823h-4" stroke="#333" stroke-width="1" fill="none"/>
<g font-family="'Liberation Sans',Arial,Helvetica,sans-serif" fill="#444" font-size="14">
<text x="1494" y="93.6">1.8</text>
<text x="1494" y="277.2">0.9</text>
<text x="1494" y="460.8">0</text>
<text x="1494" y="644.4">-0.9</text>
<text x="1494" y="828">-1.8</text>
<text x="1474.5" y="83.2" text-anchor="middle" font-size="15.5" fill="#222">dB</text>
</g>
<circle cx="265.5" cy="1304.8" r="160" fill="url(#h70)"/>
<g clip-path="url(#c71)"><g filter="url(#tb)">
<rect x="238.5" y="1156.8" width="54" height="3.4" fill="url(#g72)"/>
<rect x="224.5" y="1159.8" width="82" height="3.4" fill="url(#g73)"/>
<rect x="215.5" y="1162.8" width="100" height="3.4" fill="url(#g74)"/>
<rect x="207.5" y="1165.8" width="116" height="3.4" fill="url(#g75)"/>
<rect x="200.5" y="1168.8" width="130" height="3.4" fill="url(#g76)"/>
<rect x="194.5" y="1171.8" width="142" height="3.4" fill="url(#g77)"/>
<rect x="188.5" y="1174.8" width="154" height="3.4" fill="url(#g78)"/>
<rect x="184.5" y="1177.8" width="162" height="3.4" fill="url(#g79)"/>
<rect x="179.5" y="1180.8" width="172" height="3.4" fill="url(#g80)"/>
<rect x="175.5" y="1183.8" width="180" height="3.4" fill="url(#g81)"/>
<rect x="171.5" y="1186.8" width="188" height="3.4" fill="url(#g82)"/>
<rect x="167.5" y="1189.8" width="196" height="3.4" fill="url(#g83)"/>
<rect x="164.5" y="1192.8" width="202" height="3.4" fill="url(#g84)"/>
<rect x="161.5" y="1195.8" width="208" height="3.4" fill="url(#g85)"/>
<rect x="158.5" y="1198.8" width="214" height="3.4" fill="url(#g86)"/>
<rect x="155.5" y="1201.8" width="220" height="3.4" fill="url(#g87)"/>
<rect x="152.5" y="1204.8" width="226" height="3.4" fill="url(#g88)"/>
<rect x="149.5" y="1207.8" width="232" height="3.4" fill="url(#g89)"/>
<rect x="147.5" y="1210.8" width="236" height="3.4" fill="url(#g90)"/>
<rect x="145.5" y="1213.8" width="240" height="3.4" fill="url(#g91)"/>
<rect x="143.5" y="1216.8" width="244" height="3.4" fill="url(#g92)"/>
<rect x="140.5" y="1219.8" width="250" height="3.4" fill="url(#g93)"/>
<rect x="139.5" y="1222.8" width="252" height="3.4" fill="url(#g94)"/>
<rect x="137.5" y="1225.8" width="256" height="3.4" fill="url(#g95)"/>
<rect x="135.5" y="1228.8" width="260" height="3.4" fill="url(#g96)"/>
<rect x="133.5" y="1231.8" width="264" height="3.4" fill="url(#g97)"/>
<rect x="132.5" y="1234.8" width="266" height="3.4" fill="url(#g98)"/>
<rect x="130.5" y="1237.8" width="270" height="3.4" fill="url(#g99)"/>
<rect x="129.5" y="1240.8" width="272" height="3.4" fill="url(#g100)"/>
<rect x="127.5" y="1243.8" width="276" height="3.4" fill="url(#g101)"/>
<rect x="126.5" y="1246.8" width="278" height="3.4" fill="url(#g102)"/>
<rect x="125.5" y="1249.8" width="280" height="3.4" fill="url(#g103)"/>
<rect x="124.5" y="1252.8" width="282" height="3.4" fill="url(#g104)"/>
<rect x="123.5" y="1255.8" width="284" height="3.4" fill="url(#g105)"/>
<rect x="122.5" y="1258.8" width="286" height="3.4" fill="url(#g106)"/>
<rect x="121.5" y="1261.8" width="288" height="3.4" fill="url(#g107)"/>
<rect x="120.5" y="1264.8" width="290" height="3.4" fill="url(#g108)"/>
<rect x="119.5" y="1267.8" width="292" height="3.4" fill="url(#g109)"/>
<rect x="119.5" y="1270.8" width="292" height="3.4" fill="url(#g110)"/>
<rect x="118.5" y="1273.8" width="294" height="3.4" fill="url(#g111)"/>
<rect x="118.5" y="1276.8" width="294" height="3.4" fill="url(#g112)"/>
<rect x="117.5" y="1279.8" width="296" height="3.4" fill="url(#g113)"/>
<rect x="117.5" y="1282.8" width="296" height="3.4" fill="url(#g114)"/>
<rect x="116.5" y="1285.8" width="298" height="3.4" fill="url(#g115)"/>
<rect x="116.5" y="1288.8" width="298" height="3.4" fill="url(#g116)"/>
<rect x="116.5" y="1291.8" width="298" height="3.4" fill="url(#g117)"/>
<rect x="116.5" y="1294.8" width="298" height="3.4" fill="url(#g118)"/>
<rect x="116.5" y="1297.8" width="298" height="3.4" fill="url(#g119)"/>
<rect x="116.5" y="1300.8" width="298" height="3.4" fill="url(#g120)"/>
<rect x="116.5" y="1303.8" width="298" height="3.4" fill="url(#g121)"/>
<rect x="116.5" y="1306.8" width="298" height="3.4" fill="url(#g122)"/>
<rect x="116.5" y="1309.8" width="298" height="3.4" fill="url(#g123)"/>
<rect x="116.5" y="1312.8" width="298" height="3.4" fill="url(#g124)"/>
<rect x="116.5" y="1315.8" width="298" height="3.4" fill="url(#g125)"/>
<rect x="116.5" y="1318.8" width="298" height="3.4" fill="url(#g126)"/>
<rect x="116.5" y="1321.8" width="298" height="3.4" fill="url(#g127)"/>
<rect x="117.5" y="1324.8" width="296" height="3.4" fill="url(#g128)"/>
<rect x="117.5" y="1327.8" width="296" height="3.4" fill="url(#g129)"/>
<rect x="118.5" y="1330.8" width="294" height="3.4" fill="url(#g130)"/>
<rect x="118.5" y="1333.8" width="294" height="3.4" fill="url(#g131)"/>
<rect x="119.5" y="1336.8" width="292" height="3.4" fill="url(#g132)"/>
<rect x="120.5" y="1339.8" width="290" height="3.4" fill="url(#g133)"/>
<rect x="120.5" y="1342.8" width="290" height="3.4" fill="url(#g134)"/>
<rect x="121.5" y="1345.8" width="288" height="3.4" fill="url(#g135)"/>
<rect x="122.5" y="1348.8" width="286" height="3.4" fill="url(#g136)"/>
<rect x="123.5" y="1351.8" width="284" height="3.4" fill="url(#g137)"/>
<rect x="124.5" y="1354.8" width="282" height="3.4" fill="url(#g138)"/>
<rect x="125.5" y="1357.8" width="280" height="3.4" fill="url(#g139)"/>
<rect x="127.5" y="1360.8" width="276" height="3.4" fill="url(#g140)"/>
<rect x="128.5" y="1363.8" width="274" height="3.4" fill="url(#g141)"/>
<rect x="129.5" y="1366.8" width="272" height="3.4" fill="url(#g142)"/>
<rect x="131.5" y="1369.8" width="268" height="3.4" fill="url(#g143)"/>
<rect x="132.5" y="1372.8" width="266" height="3.4" fill="url(#g144)"/>
<rect x="134.5" y="1375.8" width="262" height="3.4" fill="url(#g145)"/>
<rect x="135.5" y="1378.8" width="260" height="3.4" fill="url(#g146)"/>
<rect x="137.5" y="1381.8" width="256" height="3.4" fill="url(#g147)"/>
<rect x="139.5" y="1384.8" width="252" height="3.4" fill="url(#g148)"/>
<rect x="141.5" y="1387.8" width="248" height="3.4" fill="url(#g149)"/>
<rect x="143.5" y="1390.8" width="244" height="3.4" fill="url(#g150)"/>
<rect x="146.5" y="1393.8" width="238" height="3.4" fill="url(#g151)"/>
<rect x="148.5" y="1396.8" width="234" height="3.4" fill="url(#g152)"/>
<rect x="150.5" y="1399.8" width="230" height="3.4" fill="url(#g153)"/>
<rect x="153.5" y="1402.8" width="224" height="3.4" fill="url(#g154)"/>
<rect x="156.5" y="1405.8" width="218" height="3.4" fill="url(#g155)"/>
<rect x="159.5" y="1408.8" width="212" height="3.4" fill="url(#g156)"/>
<rect x="162.5" y="1411.8" width="206" height="3.4" fill="url(#g157)"/>
<rect x="165.5" y="1414.8" width="200" height="3.4" fill="url(#g158)"/>
<rect x="168.5" y="1417.8" width="194" height="3.4" fill="url(#g159)"/>
<rect x="172.5" y="1420.8" width="186" height="3.4" fill="url(#g160)"/>
<rect x="176.5" y="1423.8" width="178" height="3.4" fill="url(#g161)"/>
<rect x="180.5" y="1426.8" width="170" height="3.4" fill="url(#g162)"/>
<rect x="185.5" y="1429.8" width="160" height="3.4" fill="url(#g163)"/>
<rect x="190.5" y="1432.8" width="150" height="3.4" fill="url(#g164)"/>
<rect x="196.5" y="1435.8" width="138" height="3.4" fill="url(#g165)"/>
<rect x="202.5" y="1438.8" width="126" height="3.4" fill="url(#g166)"/>
<rect x="209.5" y="1441.8" width="112" height="3.4" fill="url(#g167)"/>
<rect x="218.5" y="1444.8" width="94" height="3.4" fill="url(#g168)"/>
<rect x="228.5" y="1447.8" width="74" height="3.4" fill="url(#g169)"/>
<rect x="245.5" y="1450.8" width="40" height="3.4" fill="url(#g170)"/>
</g>
<path d="M116.5 1313.3 118.5 1314.8 119.8 1315.8 121.5 1317 123.5 1318.5 125.3 1319.8 126.6 1320.8 128.5 1322.2 130.5 1323.8 131.7 1324.8 133.5 1326.3 135.1 1327.8 136.5 1329.2 138 1330.8 139.5 1332.5 140.5 1333.8 141.9 1335.8 143.2 1337.8 144.3 1339.8 145.4 1341.8 146.5 1343.8 147.5 1345.7 148.5 1347.7 149.5 1349.6 150.5 1351.5 151.5 1353.4 152.5 1355.1 153.5 1356.8 154.7 1358.8 156.1 1360.8 157.5 1362.7 158.5 1364 160.1 1365.8 161.5 1367.2 163.2 1368.8 164.5 1369.9 166.5 1371.5 168.2 1372.8 169.6 1373.8 171.5 1375 173.5 1376.3 175.5 1377.4 177.5 1378.5 179.5 1379.5 181.5 1380.5 183.5 1381.4 185.5 1382.2 187.5 1383.1 189.5 1384 191.5 1384.8 194 1385.8 196.5 1386.8 198.5 1387.5 200.5 1388.2 202.5 1388.9 205.1 1389.8 207.5 1390.6 209.5 1391.2 211.7 1391.8 214.5 1392.6 216.5 1393.1 219.1 1393.8 221.5 1394.4 223.7 1394.8 226.5 1395.2 229.5 1395.6 232.5 1395.7 235.5 1395.7 238.5 1395.6 241.5 1395.3 244.5 1394.9 246.5 1394.6 249.5 1394.1 251.5 1393.8 254.5 1393.4 257.5 1393.1 260.5 1393 263.5 1393 266.5 1393.3 269.5 1393.7 271.5 1394.1 274.5 1394.6 276.5 1395 279.5 1395.6 281.5 1396 284.5 1396.5 287.2 1396.8 289.5 1397 292.5 1397.2 295.5 1397.2 298.5 1397 300.5 1396.7 303.5 1396.2 305.5 1395.7 308.5 1394.8 310.5 1394.1 312.5 1393.4 314.5 1392.7 317 1391.8 319.5 1391 321.5 1390.5 324.5 1390 326.5 1389.7 329.5 1389.5 332.5 1389.4 335.5 1389.4 338.5 1389.2 341.5 1388.9 343.5 1388.4 345.5 1387.7 347.5 1386.7 349.5 1385.4 351.3 1383.8 352.5 1382.6 354.1 1380.8 355.5 1378.9 356.5 1377.4 357.5 1375.7 358.6 1373.8 359.6 1371.8 360.6 1369.8 361.6 1367.8 362.6 1365.8 363.6 1363.8 364.6 1361.8 365.7 1359.8 366.9 1357.8 368.4 1355.8 369.5 1354.4 370.8 1352.8 372.5 1350.9 373.5 1349.8 375.3 1347.8 376.5 1346.4 378 1344.8 379.5 1343 380.5 1341.8 382.1 1339.8 383.5 1337.9 384.5 1336.5 385.6 1334.8 386.7 1332.8 387.7 1330.8 388.6 1328.8 389.5 1326.6 390.5 1323.8 391.1 1321.8 391.7 1319.8 392.5 1316.8 393 1314.8 393.6 1312.8 394.4 1309.8 395 1307.8 395.7 1305.8 396.5 1303.4 397.4 1300.8 398.2 1298.8 399 1296.8 399.8 1294.8 400.6 1292.8 401.5 1290.4 402.5 1287.8 403.2 1285.8 403.9 1283.8 404.5 1281.6 405.2 1278.8 405.5 1276.7 405.8 1273.8 405.9 1270.8 405.9 1267.8 405.8 1264.8 405.6 1261.8 405.5 1259.8 405.4 1256.8 405.4 1253.8 405.2 1250.8 405 1247.8 404.7 1244.8 404.4 1242.8 403.9 1239.8 403.5 1237.8 402.8 1234.8 402.2 1232.8 401.5 1230.4 400.7 1227.8 400 1225.8 399.3 1223.8 398.5 1221.2 397.8 1218.8 397.2 1216.8 396.5 1214 396 1211.8 395.5 1209.1 395.1 1206.8 394.7 1203.8 394.4 1201.8 394.2 1198.8 394.1 1195.8 394.3 1192.8 394.6 1190.8 395.5 1187.9 396.5 1185.9 397.5 1184.5 399.2 1182.8 400.5 1181.8 402.5 1180.6 404.5 1179.7 407.2 1178.8 409.5 1178.2 411.5 1177.8 414.5 1177.4M116.5 1219.2 118.5 1218.6 121.5 1218.2 124.5 1218.5 126.5 1219.3 128.5 1220.8 129.5 1222 130.5 1223.8 131.5 1226.8 131.8 1228.8 132 1231.8 131.9 1234.8 131.5 1237.7 131.1 1239.8 130.5 1242.3 129.7 1244.8 129 1246.8 128.1 1248.8 127.1 1250.8 125.8 1252.8 124.5 1254.3 122.5 1255.8 120.5 1256.6 118.5 1257 116.5 1257.3M254.5 1345 251.5 1345.4 248.5 1345.6 245.5 1345.4 242.5 1344.8 240.5 1344.1 238.5 1343.1 236.5 1341.8 235.1 1340.8 233.5 1339.4 231.7 1337.8 230.5 1336.6 228.7 1334.8 227.5 1333.6 225.7 1331.8 224.5 1330.7 222.5 1328.8 221.3 1327.8 219.5 1326.3 217.6 1324.8 216.3 1323.8 214.5 1322.4 212.5 1320.9 211.2 1319.8 209.5 1318.3 208 1316.8 206.5 1315 205.5 1313.6 204.5 1311.8 203.5 1309.7 202.5 1307 201.9 1304.8 201.5 1302.8 201 1299.8 200.8 1296.8 200.7 1293.8 200.8 1290.8 201 1287.8 201.3 1284.8 201.6 1282.8 202.2 1279.8 202.7 1277.8 203.5 1274.8 204 1272.8 204.7 1270.8 205.5 1268.4 206.5 1265.8 207.2 1263.8 208.1 1261.8 209 1259.8 209.9 1257.8 211 1255.8 212.4 1253.8 213.5 1252.5 215.5 1251 217.5 1250.4 220.5 1250 223.5 1250 226.5 1250.4 228.6 1250.8 231.5 1251.4 233.5 1251.9 236.5 1252.7 238.5 1253.2 241 1253.8 243.5 1254.4 245.5 1254.8 248.5 1255.5 250.5 1255.9 253.5 1256.5 255.5 1256.9 258.5 1257.5 260.7 1257.8 263.5 1258.1 266.5 1258.4 269.5 1258.4 272.5 1258.4 275.5 1258.3 278.5 1258.3 281.5 1258.3 284.5 1258.3 287.5 1258.3 290.5 1258.4 293.5 1258.5 296.5 1258.5 299.5 1258.7 301.5 1258.8 304.5 1259.2 307.5 1259.7 309.5 1260.2 311.5 1260.9 313.8 1261.8 315.7 1262.8 317.5 1263.9 319.5 1265.4 321.2 1266.8 322.5 1268 324.2 1269.8 325.5 1271.3 326.7 1272.8 328.1 1274.8 329.3 1276.8 330.3 1278.8 331.2 1280.8 332 1282.8 332.7 1284.8 333.4 1287.8 333.7 1289.8 334 1292.8 334.1 1295.8 333.8 1298.8 333.5 1300.8 332.7 1303.8 331.9 1305.8 331 1307.8 329.9 1309.8 328.5 1311.8 327.5 1313.1 326 1314.8 324.5 1316.3 322.8 1317.8 321.5 1318.8 319.5 1320.3 317.5 1321.7 316.1 1322.8 314.5 1324 312.5 1325.6 311.1 1326.8 309.5 1328.2 307.8 1329.8 306.5 1331.1 304.9 1332.8 303.5 1334.3 302.1 1335.8 300.5 1337.4 299 1338.8 297.5 1340 295.5 1341.4 293.5 1342.4 291.5 1343.1 288.6 1343.8 286.5 1344 283.5 1344.2 280.5 1344.1 277.5 1343.9 275.5 1343.7 272.5 1343.5 269.5 1343.3 266.5 1343.3 263.5 1343.5 261.2 1343.8 258.5 1344.2 255.5 1344.8 254.5 1345M284.5 1334.8 281.5 1334.9 278.5 1334.8 276.5 1334.7 273.5 1334.4 270.5 1334.2 267.5 1334 264.5 1333.9 261.5 1334.2 258.5 1334.5 255.5 1334.8 253.5 1334.9 250.5 1335 247.5 1334.8 245.5 1334.5 243 1333.8 240.9 1332.8 239.2 1331.8 237.5 1330.5 235.5 1328.9 234.4 1327.8 232.5 1325.9 231.4 1324.8 229.6 1322.8 228.5 1321.5 227.1 1319.8 225.5 1317.8 224.5 1316.5 223.3 1314.8 222 1312.8 220.9 1310.8 220 1308.8 219.3 1306.8 218.6 1303.8 218.3 1301.8 218.2 1298.8 218.5 1295.8 218.9 1293.8 219.5 1291.4 220.5 1288.8 221.5 1286.8 222.5 1285.2 223.6 1283.8 225.4 1281.8 226.6 1280.8 228.5 1279.4 230.5 1278.2 232.5 1277.3 234.5 1276.5 236.5 1275.8 239.5 1275 241.5 1274.5 244.5 1273.9 246.5 1273.5 249.5 1273.1 252.5 1272.8 254.5 1272.7 257.5 1272.5 260.5 1272.4 263.5 1272.4 266.5 1272.4 269.5 1272.6 272.5 1272.8 274.5 1273 277.5 1273.4 280.5 1273.8 282.5 1274.1 285.5 1274.7 287.5 1275.2 289.8 1275.8 292.5 1276.6 294.5 1277.3 296.5 1278.1 298.5 1279 300.5 1280 302.5 1281.2 304.5 1282.6 306 1283.8 307.5 1285.3 308.7 1286.8 310.1 1288.8 311.1 1290.8 311.9 1292.8 312.5 1295.3 312.8 1297.8 312.8 1300.8 312.5 1303.2 311.9 1305.8 311.2 1307.8 310.4 1309.8 309.3 1311.8 308.1 1313.8 306.9 1315.8 305.5 1317.7 304.5 1319.1 303.2 1320.8 301.7 1322.8 300.5 1324.2 299.2 1325.8 297.5 1327.7 296.4 1328.8 294.5 1330.6 293 1331.8 291.5 1332.8 289.5 1333.8 286.5 1334.6 284.5 1334.8M116.5 1346 118.5 1347.4 120.4 1348.8 121.7 1349.8 123.5 1351.2 125.3 1352.8 126.5 1353.9 128.5 1355.8 129.5 1356.9 131.3 1358.8 132.5 1360.1 134 1361.8 135.5 1363.6 136.6 1364.8 138.3 1366.8 139.5 1368.1 141 1369.8 142.5 1371.5 143.6 1372.8 145.3 1374.8 146.5 1376.2 147.9 1377.8 149.5 1379.5 150.8 1380.8 152.5 1382.5 153.9 1383.8 155.5 1385.2 157.3 1386.8 158.6 1387.8 160.5 1389.3 162.5 1390.7 164.1 1391.8 165.6 1392.8 167.5 1394 169.5 1395.2 171.5 1396.3 173.5 1397.4 175.5 1398.4 177.5 1399.4 179.5 1400.3 181.5 1401.2 183.5 1402 185.5 1402.8 188.1 1403.8 190.5 1404.7 192.5 1405.4 194.5 1406 197.2 1406.8 199.5 1407.5 201.5 1408 204.5 1408.7 206.5 1409.2 209.5 1409.8 211.5 1410.2 214.5 1410.7 216.5 1411 219.5 1411.4 222.5 1411.6 225.5 1411.8 228.5 1411.8 231.5 1411.7 234.5 1411.5 237.5 1411.2 240.5 1410.9 242.5 1410.6 245.5 1410.2 248.5 1409.8 250.5 1409.5 253.5 1409.1 255.5 1408.8 258.5 1408.4 261.5 1408.1 264.5 1407.9 267.5 1408 270.5 1408.2 273.5 1408.5 276.4 1408.8 278.5 1409 281.5 1409.3 284.5 1409.6 287.5 1409.8 289.5 1409.9 292.5 1410.2 295.5 1410.4 298.5 1410.6 301.5 1410.8 303.5 1410.8 306.5 1410.8 308.5 1410.7 311.5 1410.6 314.5 1410.3 317.5 1410 320.2 1409.8 322.5 1409.6 325.5 1409.4 328.5 1409.1 331.5 1408.8 333.5 1408.6 336.5 1408.1 338.5 1407.8 341.5 1407.1 343.5 1406.6 346 1405.8 348.5 1404.9 350.5 1404.1 352.5 1403.1 354.5 1402.1 356.5 1401 358.5 1399.8 360 1398.8 361.5 1397.7 363.5 1396.2 365.2 1394.8 366.5 1393.7 368.5 1391.8 369.5 1390.8 371.5 1388.8 372.5 1387.7 374.1 1385.8 375.5 1384.2 376.6 1382.8 378.2 1380.8 379.5 1379.2 380.6 1377.8 382.1 1375.8 383.5 1374 384.5 1372.8 386.2 1370.8 387.5 1369.3 388.9 1367.8 390.5 1366.2 391.9 1364.8 393.5 1363.2 394.9 1361.8 396.5 1360.1 397.7 1358.8 399.5 1356.8 400.5 1355.7 401.9 1353.8 403.3 1351.8 404.5 1349.8 405.5 1348 406.5 1346 407.5 1343.8 408.3 1341.8 409.1 1339.8 409.9 1337.8 410.6 1335.8 411.5 1332.8 412.1 1330.8 412.7 1328.8 413.5 1325.8 414 1323.8 414.5 1322M270.5 1323.8 267.5 1324 264.5 1324 261.5 1323.9 259.5 1323.8 256.5 1323.6 253.5 1323.4 250.5 1323.1 248.5 1322.7 245.8 1321.8 243.9 1320.8 242.5 1319.8 240.8 1317.8 239.7 1315.8 238.9 1313.8 238.4 1311.8 238.1 1308.8 238.3 1305.8 238.9 1303.8 239.7 1301.8 241 1299.8 242.5 1298.1 244 1296.8 245.5 1295.6 247.5 1294.3 249.5 1293.3 251.5 1292.3 253.5 1291.6 255.8 1290.8 258.5 1290.1 260.5 1289.7 263.5 1289.3 266.5 1289.2 269.5 1289.5 271.5 1289.8 274.5 1290.5 276.5 1291.1 278.7 1291.8 281.1 1292.8 283.2 1293.8 284.9 1294.8 286.5 1295.9 288.5 1297.6 289.6 1298.8 291.1 1300.8 292.1 1302.8 292.7 1304.8 293.2 1307.8 293 1310.8 292.5 1313 291.5 1315.6 290.5 1317.4 289.5 1318.8 287.5 1320.7 285.5 1321.8 283.5 1322.5 281.5 1323 278.5 1323.4 275.5 1323.6 272.5 1323.7 270.5 1323.8M116.5 1376.7 117.9 1377.8 119.5 1379.1 121.5 1380.7 122.9 1381.8 124.5 1383.2 126.4 1384.8 127.5 1385.8 129.5 1387.6 130.9 1388.8 132.5 1390.2 134.3 1391.8 135.5 1392.9 137.5 1394.6 138.9 1395.8 140.5 1397.2 142.5 1398.8 143.7 1399.8 145.5 1401.2 147.5 1402.7 148.9 1403.8 150.5 1404.9 152.5 1406.3 154.5 1407.7 156.2 1408.8 157.7 1409.8 159.5 1410.9 161.5 1412.1 163.5 1413.2 165.5 1414.3 167.5 1415.4 169.5 1416.4 171.5 1417.4 173.5 1418.3 175.5 1419.2 177.5 1420.1 179.5 1420.9 181.8 1421.8 184.4 1422.8 186.5 1423.6 188.5 1424.3 190.5 1424.9 193.2 1425.8 195.5 1426.5 197.5 1427.1 200.4 1427.8 202.5 1428.3 204.8 1428.8 207.5 1429.3 210.5 1429.8 212.5 1430 215.5 1430.2 218.5 1430.3 221.5 1430.3 224.5 1430.2 227.5 1429.9 229.5 1429.7 232.5 1429.4 235.5 1429 237.5 1428.7 240.5 1428.2 242.9 1427.8 245.5 1427.4 248.5 1426.9 250.5 1426.6 253.5 1426.2 256.3 1425.8 258.5 1425.6 261.5 1425.3 264.5 1425.1 267.5 1425.1 270.5 1425.1 273.5 1425.2 276.5 1425.4 279.5 1425.7 281.5 1425.9 284.5 1426.3 287.5 1426.7 289.5 1427 292.5 1427.4 294.8 1427.8 297.5 1428.2 300.5 1428.7 302.5 1429 305.5 1429.4 308.5 1429.7 310.5 1429.8 313.5 1430 316.5 1429.9 319.4 1429.8 321.5 1429.6 324.5 1429.2 327.1 1428.8 329.5 1428.4 332 1427.8 334.5 1427.2 336.5 1426.7 339.5 1425.8 341.5 1425.2 343.5 1424.5 345.5 1423.8 348.2 1422.8 350.5 1421.8 352.5 1421 354.5 1420 356.5 1419 358.5 1418 360.5 1416.9 362.4 1415.8 364.1 1414.8 365.7 1413.8 367.5 1412.7 369.5 1411.4 371.5 1410.1 373.4 1408.8 374.8 1407.8 376.5 1406.6 378.5 1405 380.1 1403.8 381.5 1402.6 383.5 1400.9 384.8 1399.8 386.5 1398.3 388.2 1396.8 389.5 1395.5 391.3 1393.8 392.5 1392.7 394.4 1390.8 395.5 1389.8 397.5 1387.8 398.5 1386.8 400.5 1384.8 401.5 1383.8 403.5 1381.8 404.5 1380.8 406.5 1378.8 407.5 1377.8 409.5 1375.8 410.5 1374.7 412.3 1372.8 413.5 1371.5 414.5 1370.3M116.5 1405.5 118.4 1406.8 119.9 1407.8 121.5 1408.9 123.5 1410.2 125.5 1411.5 127.4 1412.8 128.9 1413.8 130.5 1414.9 132.5 1416.2 134.5 1417.5 136.5 1418.8 138.1 1419.8 139.7 1420.8 141.5 1421.9 143.5 1423.1 145.5 1424.3 147.5 1425.4 149.5 1426.6 151.5 1427.7 153.5 1428.8 155.5 1429.8 157.5 1430.8 159.5 1431.8 161.5 1432.8 163.5 1433.7 165.5 1434.6 167.5 1435.5 169.5 1436.4 171.5 1437.2 173.5 1438 175.5 1438.8 178.1 1439.8 180.5 1440.7 182.5 1441.4 184.5 1442 186.9 1442.8 189.5 1443.6 191.5 1444.2 193.7 1444.8 196.5 1445.5 198.5 1446 201.5 1446.6 203.5 1447 206.5 1447.5 208.5 1447.8 211.5 1448.2 214.5 1448.4 217.5 1448.4 220.5 1448.4 223.5 1448.2 226.5 1447.9 228.5 1447.7 231.5 1447.3 234.5 1446.9 236.5 1446.6 239.5 1446.1 241.5 1445.8 244.5 1445.3 247.5 1444.8 249.5 1444.5 252.5 1444.1 254.8 1443.8 257.5 1443.5 260.5 1443.2 263.5 1443.1 266.5 1443 269.5 1443 272.5 1443.2 275.5 1443.4 278.5 1443.7 280.5 1444 283.5 1444.4 286.2 1444.8 288.5 1445.2 291.5 1445.7 293.5 1446 296.5 1446.5 298.5 1446.8 301.5 1447.3 304.5 1447.7 306.5 1447.9 309.5 1448.2 312.5 1448.3 315.5 1448.3 318.5 1448.1 321.5 1447.8 323.5 1447.5 326.5 1447 328.5 1446.6 331.5 1445.8 333.5 1445.3 335.5 1444.8 338.5 1443.9 340.5 1443.2 342.5 1442.5 344.6 1441.8 347.3 1440.8 349.5 1439.9 351.5 1439.1 353.5 1438.3 355.5 1437.4 357.5 1436.4 359.5 1435.5 361.5 1434.5 363.5 1433.5 365.5 1432.4 367.5 1431.4 369.5 1430.2 371.5 1429.1 373.5 1427.9 375.3 1426.8 377 1425.8 378.6 1424.8 380.5 1423.5 382.5 1422.2 384.5 1420.9 386.1 1419.8 387.5 1418.8 389.5 1417.4 391.5 1415.9 393 1414.8 394.5 1413.7 396.5 1412.1 398.2 1410.8 399.5 1409.7 401.5 1408.1 403.1 1406.8 404.5 1405.6 406.5 1403.9 407.8 1402.8 409.5 1401.3 411.2 1399.8 412.5 1398.6 414.5 1396.8M356 1453.8 358.5 1452.8 360.5 1451.9 362.5 1451.1 364.5 1450.1 366.5 1449.2 368.5 1448.2 370.5 1447.3 372.5 1446.2 374.5 1445.2 376.5 1444.1 378.5 1443 380.5 1441.9 382.5 1440.8 384.2 1439.8 385.9 1438.8 387.5 1437.8 389.5 1436.6 391.5 1435.3 393.5 1434.1 395.4 1432.8 397 1431.8 398.5 1430.8 400.5 1429.4 402.5 1428 404.2 1426.8 405.6 1425.8 407.5 1424.5 409.5 1423 411.1 1421.8 412.5 1420.7 414.5 1419.2M116.5 1430.4 118.5 1431.4 120.5 1432.5 122.5 1433.5 124.5 1434.6 126.5 1435.6 128.5 1436.6 130.5 1437.7 132.5 1438.7 134.5 1439.7 136.5 1440.7 138.5 1441.7 140.5 1442.6 142.5 1443.6 144.5 1444.5 146.5 1445.5 148.5 1446.4 150.5 1447.2 152.5 1448.1 154.5 1449 156.5 1449.8 158.9 1450.8 161.5 1451.8 163.5 1452.6 165.5 1453.3 166.8 1453.8" fill="none" stroke="#1a1a1a" stroke-width="0.6" stroke-opacity="0.75"/>
</g>
<circle cx="265.5" cy="1304.8" r="108.6" fill="none" stroke="#000" stroke-width="2.2"/><path d="M245.5 1197.7 L261 1181.2 Q265.5 1176.7 270 1181.2 L285.5 1197.7" fill="none" stroke="#000" stroke-width="2.2" stroke-linejoin="round"/><path d="M158.4 1282.8 C156.4 1276.8 145.4 1275.8 145.4 1286.8 L144.9 1321.8 C144.4 1335.8 155.4 1336.8 158.4 1330.8" fill="none" stroke="#000" stroke-width="2.2" stroke-linejoin="round"/><path d="M372.6 1282.8 C374.6 1276.8 385.6 1275.8 385.6 1286.8 L386.1 1321.8 C386.6 1335.8 375.6 1336.8 372.6 1330.8" fill="none" stroke="#000" stroke-width="2.2" stroke-linejoin="round"/>
<g fill="#111"><rect x="226.3" y="1195.1" width="2" height="2"/><rect x="302.1" y="1195.1" width="2" height="2"/><rect x="264.3" y="1193.6" width="2" height="2"/><rect x="190.4" y="1211.7" width="2" height="2"/><rect x="338" y="1211.7" width="2" height="2"/><rect x="162.4" y="1242" width="2" height="2"/><rect x="187.6" y="1247.1" width="2" height="2"/><rect x="213.8" y="1250.4" width="2" height="2"/><rect x="341.7" y="1246.7" width="2" height="2"/><rect x="366.4" y="1242" width="2" height="2"/><rect x="119.4" y="1278.9" width="2" height="2"/><rect x="177.9" y="1283.2" width="2" height="2"/><rect x="321.3" y="1282.2" width="2" height="2"/><rect x="350.5" y="1282.2" width="2" height="2"/><rect x="409" y="1278.9" width="2" height="2"/><rect x="180" y="1318.3" width="2" height="2"/><rect x="291.8" y="1310.8" width="2" height="2"/><rect x="320.2" y="1313.3" width="2" height="2"/><rect x="349.4" y="1316.6" width="2" height="2"/><rect x="148.9" y="1325.2" width="2" height="2"/><rect x="379.3" y="1324.1" width="2" height="2"/><rect x="240.2" y="1335.9" width="2" height="2"/><rect x="264.3" y="1334.4" width="2" height="2"/><rect x="290.1" y="1335.9" width="2" height="2"/><rect x="214.9" y="1339.8" width="2" height="2"/><rect x="314.8" y="1339.1" width="2" height="2"/><rect x="189.1" y="1347.3" width="2" height="2"/><rect x="340.6" y="1346.2" width="2" height="2"/><rect x="163.3" y="1357.8" width="2" height="2"/><rect x="365.5" y="1357.4" width="2" height="2"/><rect x="244.5" y="1359.1" width="2" height="2"/><rect x="264.3" y="1357.8" width="2" height="2"/><rect x="285.8" y="1358.1" width="2" height="2"/><rect x="223.7" y="1363.9" width="2" height="2"/><rect x="305.8" y="1363.2" width="2" height="2"/><rect x="141.3" y="1370.3" width="2" height="2"/><rect x="204.1" y="1371.8" width="2" height="2"/><rect x="324.7" y="1371.4" width="2" height="2"/><rect x="387" y="1370.3" width="2" height="2"/><rect x="186.5" y="1382.1" width="2" height="2"/><rect x="342.8" y="1381.5" width="2" height="2"/><rect x="234.9" y="1384.9" width="2" height="2"/><rect x="264.3" y="1381.1" width="2" height="2"/><rect x="294" y="1385.3" width="2" height="2"/><rect x="211.2" y="1398.3" width="2" height="2"/><rect x="317.6" y="1397.8" width="2" height="2"/><rect x="238.1" y="1404.7" width="2" height="2"/><rect x="264.3" y="1404.3" width="2" height="2"/><rect x="290.7" y="1404.3" width="2" height="2"/><rect x="226.9" y="1219.4" width="2" height="2"/><rect x="302.6" y="1220.3" width="2" height="2"/><rect x="239.6" y="1252.7" width="2" height="2"/><rect x="264.3" y="1253.2" width="2" height="2"/><rect x="290.3" y="1252.5" width="2" height="2"/><rect x="315.9" y="1249.5" width="2" height="2"/><rect x="208" y="1282.6" width="2" height="2"/><rect x="237" y="1282.6" width="2" height="2"/><rect x="292.2" y="1282.6" width="2" height="2"/><rect x="209.1" y="1313.3" width="2" height="2"/><rect x="237.4" y="1310.8" width="2" height="2"/><rect x="264.3" y="1310.1" width="2" height="2"/></g>
<circle cx="788.5" cy="1304.5" r="160" fill="url(#h171)"/>
<g clip-path="url(#c172)"><g filter="url(#tb)">
<rect x="761.5" y="1156.5" width="54" height="3.4" fill="url(#g173)"/>
<rect x="747.5" y="1159.5" width="82" height="3.4" fill="url(#g174)"/>
<rect x="738.5" y="1162.5" width="100" height="3.4" fill="url(#g175)"/>
<rect x="730.5" y="1165.5" width="116" height="3.4" fill="url(#g176)"/>
<rect x="723.5" y="1168.5" width="130" height="3.4" fill="url(#g177)"/>
<rect x="717.5" y="1171.5" width="142" height="3.4" fill="url(#g178)"/>
<rect x="711.5" y="1174.5" width="154" height="3.4" fill="url(#g179)"/>
<rect x="707.5" y="1177.5" width="162" height="3.4" fill="url(#g180)"/>
<rect x="702.5" y="1180.5" width="172" height="3.4" fill="url(#g181)"/>
<rect x="698.5" y="1183.5" width="180" height="3.4" fill="url(#g182)"/>
<rect x="694.5" y="1186.5" width="188" height="3.4" fill="url(#g183)"/>
<rect x="690.5" y="1189.5" width="196" height="3.4" fill="url(#g184)"/>
<rect x="687.5" y="1192.5" width="202" height="3.4" fill="url(#g185)"/>
<rect x="684.5" y="1195.5" width="208" height="3.4" fill="url(#g186)"/>
<rect x="681.5" y="1198.5" width="214" height="3.4" fill="url(#g187)"/>
<rect x="678.5" y="1201.5" width="220" height="3.4" fill="url(#g188)"/>
<rect x="675.5" y="1204.5" width="226" height="3.4" fill="url(#g189)"/>
<rect x="672.5" y="1207.5" width="232" height="3.4" fill="url(#g190)"/>
<rect x="670.5" y="1210.5" width="236" height="3.4" fill="url(#g191)"/>
<rect x="668.5" y="1213.5" width="240" height="3.4" fill="url(#g192)"/>
<rect x="666.5" y="1216.5" width="244" height="3.4" fill="url(#g193)"/>
<rect x="663.5" y="1219.5" width="250" height="3.4" fill="url(#g194)"/>
<rect x="662.5" y="1222.5" width="252" height="3.4" fill="url(#g195)"/>
<rect x="660.5" y="1225.5" width="256" height="3.4" fill="url(#g196)"/>
<rect x="658.5" y="1228.5" width="260" height="3.4" fill="url(#g197)"/>
<rect x="656.5" y="1231.5" width="264" height="3.4" fill="url(#g198)"/>
<rect x="655.5" y="1234.5" width="266" height="3.4" fill="url(#g199)"/>
<rect x="653.5" y="1237.5" width="270" height="3.4" fill="url(#g200)"/>
<rect x="652.5" y="1240.5" width="272" height="3.4" fill="url(#g201)"/>
<rect x="650.5" y="1243.5" width="276" height="3.4" fill="url(#g202)"/>
<rect x="649.5" y="1246.5" width="278" height="3.4" fill="url(#g203)"/>
<rect x="648.5" y="1249.5" width="280" height="3.4" fill="url(#g204)"/>
<rect x="647.5" y="1252.5" width="282" height="3.4" fill="url(#g205)"/>
<rect x="646.5" y="1255.5" width="284" height="3.4" fill="url(#g206)"/>
<rect x="645.5" y="1258.5" width="286" height="3.4" fill="url(#g207)"/>
<rect x="644.5" y="1261.5" width="288" height="3.4" fill="url(#g208)"/>
<rect x="643.5" y="1264.5" width="290" height="3.4" fill="url(#g209)"/>
<rect x="642.5" y="1267.5" width="292" height="3.4" fill="url(#g210)"/>
<rect x="642.5" y="1270.5" width="292" height="3.4" fill="url(#g211)"/>
<rect x="641.5" y="1273.5" width="294" height="3.4" fill="url(#g212)"/>
<rect x="641.5" y="1276.5" width="294" height="3.4" fill="url(#g213)"/>
<rect x="640.5" y="1279.5" width="296" height="3.4" fill="url(#g214)"/>
<rect x="640.5" y="1282.5" width="296" height="3.4" fill="url(#g215)"/>
<rect x="639.5" y="1285.5" width="298" height="3.4" fill="url(#g216)"/>
<rect x="639.5" y="1288.5" width="298" height="3.4" fill="url(#g217)"/>
<rect x="639.5" y="1291.5" width="298" height="3.4" fill="url(#g218)"/>
<rect x="639.5" y="1294.5" width="298" height="3.4" fill="url(#g219)"/>
<rect x="639.5" y="1297.5" width="298" height="3.4" fill="url(#g220)"/>
<rect x="639.5" y="1300.5" width="298" height="3.4" fill="url(#g221)"/>
<rect x="639.5" y="1303.5" width="298" height="3.4" fill="url(#g222)"/>
<rect x="639.5" y="1306.5" width="298" height="3.4" fill="url(#g223)"/>
<rect x="639.5" y="1309.5" width="298" height="3.4" fill="url(#g224)"/>
<rect x="639.5" y="1312.5" width="298" height="3.4" fill="url(#g225)"/>
<rect x="639.5" y="1315.5" width="298" height="3.4" fill="url(#g226)"/>
<rect x="639.5" y="1318.5" width="298" height="3.4" fill="url(#g227)"/>
<rect x="639.5" y="1321.5" width="298" height="3.4" fill="url(#g228)"/>
<rect x="640.5" y="1324.5" width="296" height="3.4" fill="url(#g229)"/>
<rect x="640.5" y="1327.5" width="296" height="3.4" fill="url(#g230)"/>
<rect x="641.5" y="1330.5" width="294" height="3.4" fill="url(#g231)"/>
<rect x="641.5" y="1333.5" width="294" height="3.4" fill="url(#g232)"/>
<rect x="642.5" y="1336.5" width="292" height="3.4" fill="url(#g233)"/>
<rect x="643.5" y="1339.5" width="290" height="3.4" fill="url(#g234)"/>
<rect x="643.5" y="1342.5" width="290" height="3.4" fill="url(#g235)"/>
<rect x="644.5" y="1345.5" width="288" height="3.4" fill="url(#g236)"/>
<rect x="645.5" y="1348.5" width="286" height="3.4" fill="url(#g237)"/>
<rect x="646.5" y="1351.5" width="284" height="3.4" fill="url(#g238)"/>
<rect x="647.5" y="1354.5" width="282" height="3.4" fill="url(#g239)"/>
<rect x="648.5" y="1357.5" width="280" height="3.4" fill="url(#g240)"/>
<rect x="650.5" y="1360.5" width="276" height="3.4" fill="url(#g241)"/>
<rect x="651.5" y="1363.5" width="274" height="3.4" fill="url(#g242)"/>
<rect x="652.5" y="1366.5" width="272" height="3.4" fill="url(#g243)"/>
<rect x="654.5" y="1369.5" width="268" height="3.4" fill="url(#g244)"/>
<rect x="655.5" y="1372.5" width="266" height="3.4" fill="url(#g245)"/>
<rect x="657.5" y="1375.5" width="262" height="3.4" fill="url(#g246)"/>
<rect x="658.5" y="1378.5" width="260" height="3.4" fill="url(#g247)"/>
<rect x="660.5" y="1381.5" width="256" height="3.4" fill="url(#g248)"/>
<rect x="662.5" y="1384.5" width="252" height="3.4" fill="url(#g249)"/>
<rect x="664.5" y="1387.5" width="248" height="3.4" fill="url(#g250)"/>
<rect x="666.5" y="1390.5" width="244" height="3.4" fill="url(#g251)"/>
<rect x="669.5" y="1393.5" width="238" height="3.4" fill="url(#g252)"/>
<rect x="671.5" y="1396.5" width="234" height="3.4" fill="url(#g253)"/>
<rect x="673.5" y="1399.5" width="230" height="3.4" fill="url(#g254)"/>
<rect x="676.5" y="1402.5" width="224" height="3.4" fill="url(#g255)"/>
<rect x="679.5" y="1405.5" width="218" height="3.4" fill="url(#g256)"/>
<rect x="682.5" y="1408.5" width="212" height="3.4" fill="url(#g257)"/>
<rect x="685.5" y="1411.5" width="206" height="3.4" fill="url(#g258)"/>
<rect x="688.5" y="1414.5" width="200" height="3.4" fill="url(#g259)"/>
<rect x="691.5" y="1417.5" width="194" height="3.4" fill="url(#g260)"/>
<rect x="695.5" y="1420.5" width="186" height="3.4" fill="url(#g261)"/>
<rect x="699.5" y="1423.5" width="178" height="3.4" fill="url(#g262)"/>
<rect x="703.5" y="1426.5" width="170" height="3.4" fill="url(#g263)"/>
<rect x="708.5" y="1429.5" width="160" height="3.4" fill="url(#g264)"/>
<rect x="713.5" y="1432.5" width="150" height="3.4" fill="url(#g265)"/>
<rect x="719.5" y="1435.5" width="138" height="3.4" fill="url(#g266)"/>
<rect x="725.5" y="1438.5" width="126" height="3.4" fill="url(#g267)"/>
<rect x="732.5" y="1441.5" width="112" height="3.4" fill="url(#g268)"/>
<rect x="741.5" y="1444.5" width="94" height="3.4" fill="url(#g269)"/>
<rect x="751.5" y="1447.5" width="74" height="3.4" fill="url(#g270)"/>
<rect x="768.5" y="1450.5" width="40" height="3.4" fill="url(#g271)"/>
</g>
<path d="M809.5 1342.5 806.5 1342.6 803.5 1342.5 801.5 1342.4 798.5 1342.1 795.5 1341.8 793.4 1341.5 790.5 1341.2 787.5 1341.1 784.5 1341.2 781.5 1341.4 779.5 1341.6 776.5 1341.8 773.5 1342 770.5 1342.1 767.5 1342 764.5 1341.7 762.5 1341.3 760 1340.5 757.7 1339.5 755.8 1338.5 754.1 1337.5 752.5 1336.5 750.5 1335.3 748.5 1334 746.5 1332.8 744.5 1331.7 742.5 1330.7 740.5 1329.8 738.5 1328.9 736.5 1328.1 734.5 1327.3 732.5 1326.5 730.2 1325.5 728.1 1324.5 726.3 1323.5 724.5 1322.4 722.5 1320.9 720.9 1319.5 719.5 1318.1 718.1 1316.5 716.6 1314.5 715.5 1312.7 714.5 1310.9 713.5 1308.7 712.7 1306.5 712.1 1304.5 711.5 1302 711.1 1299.5 710.8 1296.5 710.6 1293.5 710.6 1290.5 710.6 1287.5 710.6 1284.5 710.5 1281.5 710.5 1279.5 710.4 1276.5 710.3 1273.5 710.3 1270.5 710.4 1267.5 710.5 1265.5 710.7 1262.5 711.1 1259.5 711.5 1257.3 712.1 1254.5 712.6 1252.5 713.5 1249.8 714.4 1247.5 715.4 1245.5 716.5 1243.5 717.5 1241.7 718.5 1240.1 719.5 1238.5 720.7 1236.5 722 1234.5 723.3 1232.5 724.5 1230.7 725.5 1229.2 726.7 1227.5 728.1 1225.5 729.5 1223.7 730.5 1222.4 732.2 1220.5 733.5 1219.1 735.2 1217.5 736.5 1216.4 738.5 1214.9 740.5 1213.6 742.4 1212.5 744.5 1211.5 746.5 1210.7 748.5 1209.9 750.5 1209.2 752.8 1208.5 755.5 1207.7 757.5 1207 759.5 1206.4 762.3 1205.5 764.5 1204.8 766.5 1204.1 768.5 1203.5 771.5 1202.5 773.5 1201.9 775.5 1201.4 778.5 1200.7 780.5 1200.4 783.5 1200 786.5 1199.8 789.5 1199.9 792.5 1200.2 794.6 1200.5 797.5 1201.1 799.5 1201.6 802.5 1202.5 804.5 1203.1 806.5 1203.8 808.6 1204.5 811.5 1205.5 813.5 1206.2 815.5 1206.8 817.7 1207.5 820.5 1208.3 822.5 1208.9 824.8 1209.5 827.5 1210.2 829.5 1210.8 831.8 1211.5 834.5 1212.4 836.5 1213.2 838.5 1214 840.5 1215 842.5 1216.2 844.5 1217.4 846 1218.5 847.5 1219.7 849.4 1221.5 850.5 1222.6 852.2 1224.5 853.5 1226.1 854.5 1227.5 855.8 1229.5 857 1231.5 858.1 1233.5 859.1 1235.5 860 1237.5 860.8 1239.5 861.6 1241.5 862.5 1244.1 863.3 1246.5 863.9 1248.5 864.5 1250.5 865.3 1253.5 865.8 1255.5 866.5 1258.5 866.9 1260.5 867.3 1263.5 867.5 1265.6 867.7 1268.5 867.7 1271.5 867.5 1274.1 867.3 1276.5 866.8 1279.5 866.4 1281.5 865.7 1284.5 865.1 1286.5 864.4 1288.5 863.5 1290.6 862.5 1292.7 861.5 1294.6 860.3 1296.5 859 1298.5 857.5 1300.5 856.5 1301.7 855 1303.5 853.5 1305.2 852.3 1306.5 850.5 1308.3 849.3 1309.5 847.5 1311.3 846.3 1312.5 844.5 1314.4 843.5 1315.5 841.8 1317.5 840.5 1319 839.2 1320.5 837.5 1322.4 836.5 1323.5 834.7 1325.5 833.5 1326.7 831.8 1328.5 830.5 1329.8 828.8 1331.5 827.5 1332.8 825.8 1334.5 824.5 1335.7 822.5 1337.4 821 1338.5 819.5 1339.5 817.5 1340.6 815.1 1341.5 812.5 1342.1 809.5 1342.5 809.5 1342.5M639.5 1247.2 641.5 1248.2 643.5 1249.4 645.2 1250.5 646.5 1251.5 648.5 1253.2 649.8 1254.5 651.5 1256.5 652.5 1257.9 653.5 1259.5 654.5 1261.6 655.3 1264.5 655.6 1266.5 655.7 1269.5 655.7 1272.5 655.6 1275.5 655.6 1278.5 655.8 1281.5 656.1 1284.5 656.5 1286.9 657 1289.5 657.5 1291.5 658.4 1294.5 659 1296.5 659.7 1298.5 660.5 1300.5 661.5 1302.9 662.5 1305.1 663.5 1307.3 664.5 1309.3 665.5 1311.3 666.5 1313.2 667.5 1315.1 668.5 1316.9 669.5 1318.6 670.6 1320.5 671.8 1322.5 673.1 1324.5 674.5 1326.5 675.5 1327.8 676.9 1329.5 678.5 1331.4 679.5 1332.5 681.3 1334.5 682.5 1335.8 684.2 1337.5 685.5 1338.8 687.2 1340.5 688.5 1341.8 690.2 1343.5 691.5 1344.8 693.3 1346.5 694.5 1347.7 696.3 1349.5 697.5 1350.7 699.4 1352.5 700.5 1353.6 702.5 1355.3 704 1356.5 705.5 1357.6 707.5 1358.8 709.5 1359.9 711.5 1360.7 714 1361.5 716.5 1362.1 719.3 1362.5 721.5 1362.7 724.5 1362.9 727.5 1363 730.5 1363.1 733.5 1363.2 736.5 1363.2 739.5 1363.2 742.5 1363.3 745.5 1363.4 747.5 1363.7 749.8 1364.5 751.8 1365.5 753.5 1366.5 755.5 1367.8 757.5 1369 759.5 1370.1 761.5 1371.1 763.5 1371.8 766 1372.5 768.5 1372.9 771.5 1373.1 774.5 1373 777.5 1372.7 779.5 1372.4 782.5 1372 785.5 1371.7 788.5 1371.5 791.5 1371.5 794.5 1371.7 797.5 1371.9 800.5 1372.2 803.5 1372.5 805.5 1372.5 808.1 1372.5 810.5 1372.3 813.5 1371.9 815.5 1371.4 818.5 1370.5 820.5 1369.7 822.5 1368.9 824.5 1368 826.5 1367.1 828.5 1366.3 830.8 1365.5 833.5 1364.9 835.6 1364.5 838.5 1364.1 841.5 1363.6 843.5 1363.4 846.5 1363 849.5 1362.6 851.5 1362.3 854.5 1361.8 856.5 1361.4 859.5 1360.6 861.5 1359.9 863.5 1358.9 865.5 1357.8 867.4 1356.5 868.7 1355.5 870.5 1353.9 871.9 1352.5 873.5 1350.7 874.5 1349.5 876.1 1347.5 877.5 1345.8 878.5 1344.5 880.1 1342.5 881.5 1340.7 882.5 1339.4 884 1337.5 885.5 1335.6 886.5 1334.3 887.9 1332.5 889.4 1330.5 890.5 1329 891.6 1327.5 892.9 1325.5 894.1 1323.5 895.2 1321.5 896.2 1319.5 897.1 1317.5 897.9 1315.5 898.6 1313.5 899.5 1310.9 900.3 1308.5 900.9 1306.5 901.5 1304.5 902.5 1301.5 903.1 1299.5 903.9 1297.5 904.7 1295.5 905.5 1293.5 906.5 1291.5 907.5 1289.5 908.7 1287.5 909.9 1285.5 911.3 1283.5 912.5 1281.9 913.6 1280.5 915.4 1278.5 916.5 1277.3 918.2 1275.5 919.5 1274.3 921.4 1272.5 922.6 1271.5 924.5 1269.8 926 1268.5 927.5 1267.2 929.2 1265.5 930.5 1264.2 932.1 1262.5 933.5 1261.1 935.1 1259.5 936.5 1258.1 937.5 1257.2M811.5 1334.6 808.5 1335.1 805.5 1335.2 802.5 1335.1 799.5 1334.9 796.5 1334.6 794.5 1334.3 791.5 1334 788.5 1333.8 785.5 1333.9 782.5 1334.1 779.5 1334.3 776.9 1334.5 774.5 1334.6 771.5 1334.7 768.5 1334.6 766.5 1334.4 763.5 1333.9 761.5 1333.3 759.2 1332.5 756.8 1331.5 754.6 1330.5 752.5 1329.5 750.5 1328.5 748.5 1327.5 746.5 1326.5 744.5 1325.6 742.5 1324.6 740.5 1323.7 738.5 1322.8 736.5 1321.9 734.5 1320.9 732.5 1319.8 730.5 1318.5 729.2 1317.5 727.5 1316 726 1314.5 724.5 1312.7 723.5 1311.3 722.4 1309.5 721.3 1307.5 720.4 1305.5 719.5 1303 718.8 1300.5 718.3 1298.5 717.8 1295.5 717.5 1293.4 717.3 1290.5 717.1 1287.5 717.1 1284.5 717.2 1281.5 717.5 1278.5 717.7 1276.5 718.1 1273.5 718.5 1271.5 719.3 1268.5 719.9 1266.5 720.6 1264.5 721.5 1262.5 722.5 1260.4 723.5 1258.5 724.8 1256.5 726.2 1254.5 727.5 1252.7 728.5 1251.4 730 1249.5 731.5 1247.5 732.5 1246.1 733.5 1244.5 734.8 1242.5 735.9 1240.5 737.1 1238.5 738.2 1236.5 739.4 1234.5 740.5 1232.7 741.5 1231.2 742.7 1229.5 744.2 1227.5 745.5 1226 746.9 1224.5 748.5 1223 750.4 1221.5 752.1 1220.5 754.5 1219.5 756.5 1218.8 758.5 1218.3 761.5 1217.5 763.5 1217 766.1 1216.5 768.5 1216 771.5 1215.5 773.5 1215.2 776.5 1214.8 779.5 1214.6 781.5 1214.4 784.5 1214.3 787.5 1214.3 790.5 1214.5 792.5 1214.6 795.5 1214.9 798.5 1215.3 800.5 1215.6 803.5 1216.1 805.8 1216.5 808.5 1217.1 810.6 1217.5 813.5 1218.2 815.5 1218.6 818.5 1219.4 820.5 1219.9 822.6 1220.5 825.5 1221.5 827.5 1222.3 829.5 1223.4 831.3 1224.5 832.8 1225.5 834.5 1226.8 836.5 1228.4 837.8 1229.5 839.5 1231.2 840.8 1232.5 842.5 1234.5 843.5 1235.8 844.8 1237.5 846.2 1239.5 847.4 1241.5 848.5 1243.4 849.5 1245.4 850.5 1247.4 851.4 1249.5 852.2 1251.5 852.9 1253.5 853.6 1255.5 854.5 1258.5 855 1260.5 855.5 1263.1 855.9 1265.5 856.2 1268.5 856.4 1271.5 856.4 1274.5 856.2 1277.5 855.8 1280.5 855.4 1282.5 854.7 1285.5 854 1287.5 853.3 1289.5 852.5 1291.5 851.5 1293.5 850.4 1295.5 849.3 1297.5 848 1299.5 846.6 1301.5 845.5 1303.1 844.5 1304.5 842.9 1306.5 841.5 1308.3 840.5 1309.6 839 1311.5 837.5 1313.5 836.5 1314.7 835.1 1316.5 833.5 1318.4 832.5 1319.6 830.7 1321.5 829.5 1322.8 827.8 1324.5 826.5 1325.7 824.5 1327.5 823.2 1328.5 821.5 1329.8 819.5 1331.2 817.5 1332.4 815.5 1333.4 813.5 1334.1 811.5 1334.6M639.5 1297 640.5 1298.5 641.8 1300.5 643.2 1302.5 644.5 1304.5 645.5 1305.9 646.6 1307.5 648 1309.5 649.4 1311.5 650.5 1313 651.5 1314.5 652.9 1316.5 654.3 1318.5 655.5 1320.2 656.5 1321.7 657.7 1323.5 659 1325.5 660.3 1327.5 661.5 1329.4 662.5 1331 663.5 1332.5 664.9 1334.5 666.4 1336.5 667.5 1337.9 668.8 1339.5 670.5 1341.4 671.5 1342.5 673.5 1344.5 674.6 1345.5 676.5 1347.3 677.9 1348.5 679.5 1349.8 681.5 1351.4 682.8 1352.5 684.5 1353.8 686.5 1355.5 687.7 1356.5 689.5 1358.2 690.7 1359.5 692.5 1361.4 693.5 1362.5 695.5 1364.5 696.5 1365.5 698.5 1367.3 700 1368.5 701.5 1369.6 703.5 1370.9 705.5 1371.9 707.5 1372.8 709.9 1373.5 712.5 1374 715.5 1374.2 718.5 1374.2 721.5 1373.9 724.5 1373.6 726.5 1373.5 729.5 1373.5 731.5 1373.7 734.5 1374.2 736.5 1374.6 739.5 1375.4 741.5 1376 743.5 1376.7 745.5 1377.5 747.6 1378.5 749.6 1379.5 751.6 1380.5 753.7 1381.5 756 1382.5 758.5 1383.4 760.5 1383.9 763.5 1384.4 765.5 1384.5 768.5 1384.5 770.5 1384.4 773.5 1384 776.2 1383.5 778.5 1383 780.6 1382.5 783.5 1381.8 785.5 1381.4 788.5 1381.1 791.5 1381.2 793.9 1381.5 796.5 1381.9 799.5 1382.3 801.5 1382.6 804.5 1382.9 807.5 1383.1 810.5 1383.1 813.5 1383 816.5 1382.7 818.5 1382.4 821.5 1381.8 823.5 1381.3 826.1 1380.5 828.5 1379.7 830.5 1379 832.5 1378.3 834.6 1377.5 837.4 1376.5 839.5 1375.8 841.5 1375.1 843.5 1374.4 846.5 1373.5 848.5 1373.1 851.5 1372.8 854.5 1372.6 856.5 1372.5 859.5 1372.1 862 1371.5 864.5 1370.6 866.5 1369.7 868.4 1368.5 869.8 1367.5 871.5 1366.1 873.1 1364.5 874.5 1363 875.8 1361.5 877.4 1359.5 878.5 1358 879.7 1356.5 881.2 1354.5 882.5 1353 883.8 1351.5 885.5 1349.7 886.8 1348.5 888.5 1347 890.3 1345.5 891.5 1344.5 893.5 1342.9 895.3 1341.5 896.6 1340.5 898.5 1339 900.2 1337.5 901.5 1336.4 903.4 1334.5 904.5 1333.4 906.2 1331.5 907.5 1329.8 908.5 1328.4 909.7 1326.5 910.7 1324.5 911.7 1322.5 912.5 1320.4 913.5 1317.5 914.1 1315.5 914.6 1313.5 915.4 1310.5 916 1308.5 916.6 1306.5 917.5 1303.5 918.2 1301.5 919 1299.5 919.8 1297.5 920.8 1295.5 922 1293.5 923.3 1291.5 924.5 1289.8 925.5 1288.5 927.2 1286.5 928.5 1285.1 930.1 1283.5 931.5 1282.2 933.4 1280.5 934.7 1279.5 936.5 1278.1 937.5 1277.3M809.5 1328.5 806.5 1328.9 803.5 1329 800.5 1329 797.5 1328.9 794.5 1328.7 792 1328.5 789.5 1328.4 786.5 1328.3 783.5 1328.4 780.5 1328.5 778.5 1328.5 775.5 1328.6 772.5 1328.6 770.5 1328.5 767.5 1328.2 764.5 1327.7 762.5 1327.2 760 1326.5 757.5 1325.6 755.5 1324.8 753.5 1324 751.5 1323.1 749.5 1322.1 747.5 1321.2 745.5 1320.2 743.5 1319.2 741.5 1318.2 739.5 1317.1 737.5 1315.9 735.5 1314.7 733.9 1313.5 732.5 1312.2 731 1310.5 729.5 1308.5 728.5 1306.8 727.5 1305 726.5 1302.8 725.6 1300.5 725 1298.5 724.4 1296.5 723.8 1293.5 723.5 1291.2 723.3 1288.5 723.2 1285.5 723.4 1282.5 723.6 1280.5 724.2 1277.5 724.7 1275.5 725.5 1273.2 726.5 1270.8 727.5 1268.7 728.5 1267 729.5 1265.4 730.9 1263.5 732.5 1261.5 733.5 1260.3 735.1 1258.5 736.5 1257.1 738 1255.5 739.5 1253.9 740.7 1252.5 742.3 1250.5 743.5 1248.9 744.5 1247.5 745.9 1245.5 747.4 1243.5 748.5 1242 749.7 1240.5 751.4 1238.5 752.5 1237.2 754.3 1235.5 755.5 1234.4 757.5 1232.9 759.5 1231.6 761.5 1230.6 763.5 1229.8 765.5 1229.1 767.5 1228.5 770.5 1227.8 772.5 1227.4 775.5 1226.9 778.5 1226.6 780.5 1226.4 783.5 1226.3 786.5 1226.3 789.5 1226.3 792.5 1226.5 794.5 1226.6 797.5 1226.9 800.5 1227.3 802.5 1227.6 805.5 1228.1 807.5 1228.5 810.5 1229.2 812.5 1229.7 815 1230.5 817.5 1231.4 819.5 1232.2 821.5 1233.1 823.5 1234.2 825.5 1235.4 827.1 1236.5 828.5 1237.5 830.5 1239.2 831.9 1240.5 833.5 1242 834.9 1243.5 836.5 1245.4 837.5 1246.7 838.8 1248.5 840.1 1250.5 841.3 1252.5 842.3 1254.5 843.2 1256.5 844.1 1258.5 844.8 1260.5 845.5 1262.5 846.3 1265.5 846.7 1267.5 847.2 1270.5 847.5 1273.5 847.6 1275.5 847.5 1278.2 847.3 1280.5 846.8 1283.5 846.4 1285.5 845.5 1288.5 844.8 1290.5 844 1292.5 843.1 1294.5 842.1 1296.5 841 1298.5 839.8 1300.5 838.6 1302.5 837.5 1304.2 836.5 1305.7 835.3 1307.5 833.9 1309.5 832.5 1311.4 831.5 1312.7 830.1 1314.5 828.5 1316.4 827.5 1317.5 825.6 1319.5 824.5 1320.5 822.5 1322.2 820.8 1323.5 819.3 1324.5 817.5 1325.6 815.5 1326.6 813.3 1327.5 810.5 1328.3 809.5 1328.5M639.5 1324.4 640.7 1325.5 642.5 1327.3 643.6 1328.5 645.4 1330.5 646.5 1331.9 647.6 1333.5 648.8 1335.5 649.9 1337.5 651 1339.5 652.2 1341.5 653.3 1343.5 654.5 1345.4 655.5 1347 656.5 1348.5 657.9 1350.5 659.5 1352.5 660.5 1353.7 662.2 1355.5 663.5 1356.8 665.5 1358.5 666.7 1359.5 668.5 1360.9 670.5 1362.4 671.8 1363.5 673.5 1364.9 675.4 1366.5 676.5 1367.6 678.3 1369.5 679.5 1370.8 681 1372.5 682.5 1374.4 683.5 1375.6 685 1377.5 686.5 1379.3 687.5 1380.5 689.3 1382.5 690.5 1383.8 692.3 1385.5 693.5 1386.6 695.5 1388.2 697.5 1389.5 699.2 1390.5 701.2 1391.5 703.5 1392.4 705.5 1393 708 1393.5 710.5 1393.8 713.5 1393.9 716.5 1393.8 719.3 1393.5 721.5 1393.3 724.5 1393 727.5 1392.8 730.5 1392.8 733.5 1393.1 735.8 1393.5 738.5 1394.2 740.5 1394.9 742.5 1395.6 744.7 1396.5 747.4 1397.5 749.5 1398.3 751.5 1398.9 753.8 1399.5 756.5 1400.1 759.5 1400.4 761.5 1400.6 764.5 1400.5 766.5 1400.4 769.5 1400 771.9 1399.5 774.5 1398.9 776.5 1398.4 779.5 1397.6 781.5 1397.1 783.8 1396.5 786.5 1395.9 789.5 1395.5 791.5 1395.4 794.5 1395.3 797.5 1395.4 799.5 1395.5 802.5 1395.7 805.5 1395.9 808.5 1396 811.5 1396 814.5 1396 817.5 1396 820.5 1395.9 823.5 1395.7 826.5 1395.5 828.5 1395.3 831.5 1394.9 834.5 1394.5 836.5 1394.2 839.5 1393.7 841.5 1393.4 844.5 1393 847.5 1392.6 849.5 1392.5 852.5 1392.2 855.5 1392.1 858.5 1391.9 861.5 1391.6 863.5 1391.3 866.5 1390.6 868.5 1390 870.5 1389.2 872.5 1388.2 874.5 1386.9 876.3 1385.5 877.5 1384.5 879.4 1382.5 880.5 1381.3 881.9 1379.5 883.2 1377.5 884.3 1375.5 885.4 1373.5 886.2 1371.5 887.1 1369.5 887.8 1367.5 888.5 1365.5 889.5 1363.1 890.5 1361.2 892 1359.5 893.5 1358.5 895.5 1357.5 898.1 1356.5 900.5 1355.6 902.5 1354.8 904.5 1353.9 906.5 1352.8 908.5 1351.5 909.9 1350.5 911.5 1349.3 913.5 1347.6 914.7 1346.5 916.5 1344.8 917.8 1343.5 919.5 1341.7 920.5 1340.5 922.1 1338.5 923.5 1336.6 924.5 1335.1 925.5 1333.4 926.5 1331.5 927.5 1329.1 928.3 1326.5 928.8 1324.5 929.3 1321.5 929.6 1319.5 930 1316.5 930.3 1313.5 930.6 1311.5 931.1 1308.5 931.5 1306.5 932.4 1303.5 933.2 1301.5 934.4 1299.5 935.5 1298.1 937 1296.5 937.5 1296.1M809.5 1322.6 806.5 1323.1 803.5 1323.4 800.5 1323.5 797.5 1323.4 794.5 1323.4 791.5 1323.3 788.5 1323.2 785.5 1323.1 782.5 1323.1 779.5 1323.1 776.5 1323 773.5 1322.9 770.5 1322.7 768.5 1322.5 765.5 1322 763.1 1321.5 760.5 1320.8 758.5 1320.1 756.5 1319.3 754.5 1318.5 752.4 1317.5 750.4 1316.5 748.5 1315.5 746.5 1314.4 744.5 1313.2 742.5 1311.8 740.7 1310.5 739.4 1309.5 737.5 1307.6 736.5 1306.5 735.1 1304.5 733.9 1302.5 732.8 1300.5 732 1298.5 731.2 1296.5 730.5 1293.9 730 1291.5 729.5 1288.5 729.4 1286.5 729.5 1283.7 729.8 1281.5 730.5 1279.2 731.5 1276.7 732.5 1274.7 733.5 1272.9 734.5 1271.4 735.9 1269.5 737.5 1267.5 738.5 1266.3 740.2 1264.5 741.5 1263.1 743.1 1261.5 744.5 1260.1 746.1 1258.5 747.5 1257.1 749 1255.5 750.5 1254 752 1252.5 753.5 1251 755.1 1249.5 756.5 1248.2 758.5 1246.5 759.8 1245.5 761.5 1244.3 763.5 1243.1 765.5 1242 767.5 1241 769.5 1240.3 771.8 1239.5 774.5 1238.8 776.5 1238.4 779.5 1237.9 782.5 1237.6 784.9 1237.5 787.5 1237.4 790.5 1237.5 792.5 1237.6 795.5 1237.8 798.5 1238.2 800.5 1238.5 803.5 1239.1 805.5 1239.6 808.5 1240.5 810.5 1241.2 812.5 1241.9 814.5 1242.8 816.5 1243.8 818.5 1244.8 820.5 1246 822.5 1247.4 824.1 1248.5 825.5 1249.6 827.5 1251.4 828.6 1252.5 830.4 1254.5 831.5 1255.8 832.7 1257.5 834 1259.5 835.2 1261.5 836.2 1263.5 837 1265.5 837.7 1267.5 838.5 1270.1 839 1272.5 839.4 1275.5 839.6 1277.5 839.6 1280.5 839.4 1282.5 838.9 1285.5 838.5 1287.5 837.6 1290.5 836.9 1292.5 836.1 1294.5 835.2 1296.5 834.2 1298.5 833.2 1300.5 832.1 1302.5 830.9 1304.5 829.6 1306.5 828.5 1308.2 827.5 1309.6 826.1 1311.5 824.5 1313.4 823.5 1314.5 821.5 1316.4 820.2 1317.5 818.5 1318.7 816.5 1319.9 814.5 1320.9 812.5 1321.7 809.8 1322.5 809.5 1322.6M639.5 1367.7 640.6 1369.5 641.9 1371.5 643.3 1373.5 644.5 1375 645.7 1376.5 647.4 1378.5 648.5 1379.7 650.3 1381.5 651.5 1382.7 653.5 1384.5 654.6 1385.5 656.5 1387.2 657.9 1388.5 659.5 1390 661 1391.5 662.5 1393 664 1394.5 665.5 1396.2 666.7 1397.5 668.5 1399.4 669.5 1400.5 671.3 1402.5 672.5 1403.8 674.1 1405.5 675.5 1406.9 677.1 1408.5 678.5 1409.8 680.5 1411.5 681.7 1412.5 683.5 1413.9 685.5 1415.2 687.5 1416.4 689.5 1417.5 691.5 1418.5 693.5 1419.3 695.5 1420.1 697.5 1420.9 699.5 1421.5 702.5 1422.5 704.5 1423 706.5 1423.6 709.5 1424.4 711.5 1424.9 714 1425.5 716.5 1426.1 718.5 1426.6 721.5 1427.4 723.5 1427.9 726 1428.5 728.5 1429.2 730.5 1429.7 733.5 1430.4 735.5 1430.9 738.5 1431.4 740.5 1431.6 743.5 1431.8 746.5 1431.8 749.5 1431.7 752.5 1431.5 754.5 1431.4 757.5 1431.1 760.5 1430.7 762.5 1430.4 765.5 1430 768.1 1429.5 770.5 1429 772.9 1428.5 775.5 1427.9 777.5 1427.4 780.5 1426.6 782.5 1426 784.5 1425.4 787.5 1424.6 789.5 1424 791.5 1423.5 794.5 1422.8 796.5 1422.3 799.5 1421.8 801.5 1421.5 804.5 1421.1 807.5 1420.9 810.5 1420.8 813.5 1420.9 816.5 1421.1 819.5 1421.5 821.5 1421.8 824.5 1422.2 826.5 1422.5 829.5 1423 832.5 1423.3 834.7 1423.5 837.5 1423.6 840.5 1423.5 842.5 1423.4 845.5 1423.1 848.5 1422.6 850.5 1422.2 853.5 1421.6 855.5 1421.2 858.2 1420.5 860.5 1419.9 862.5 1419.3 865.4 1418.5 867.5 1417.8 869.5 1417.2 871.5 1416.5 874.1 1415.5 876.5 1414.6 878.5 1413.7 880.5 1412.8 882.5 1411.8 884.5 1410.8 886.5 1409.7 888.5 1408.5 890 1407.5 891.5 1406.5 893.5 1405 895.5 1403.5 896.8 1402.5 898.5 1401.1 900.5 1399.5 901.7 1398.5 903.5 1396.9 905.1 1395.5 906.5 1394.2 908.3 1392.5 909.5 1391.4 911.4 1389.5 912.5 1388.3 914.1 1386.5 915.5 1384.8 916.5 1383.4 917.8 1381.5 919 1379.5 920.1 1377.5 921 1375.5 921.9 1373.5 922.9 1371.5 924.1 1369.5 925.4 1367.5 926.5 1365.8 927.5 1364.4 928.9 1362.5 930.4 1360.5 931.5 1359 932.6 1357.5 934.1 1355.5 935.5 1353.6 936.5 1352.2 937.5 1350.8M803.5 1317.6 800.5 1317.7 797.5 1317.8 794.5 1317.8 791.5 1317.8 788.5 1317.7 785.5 1317.6 782.5 1317.5 780.5 1317.4 777.5 1317.3 774.5 1317.1 771.5 1316.8 768.6 1316.5 766.5 1316.2 763.5 1315.6 761.5 1315 759.5 1314.3 757.5 1313.4 755.5 1312.4 753.5 1311.3 751.5 1310 749.5 1308.7 748 1307.5 746.5 1306.3 744.7 1304.5 743.5 1303.2 742.2 1301.5 740.9 1299.5 739.8 1297.5 738.9 1295.5 738.2 1293.5 737.5 1290.7 737.2 1288.5 737.2 1285.5 737.5 1283.3 738.4 1280.5 739.4 1278.5 740.5 1276.6 741.5 1275.2 742.8 1273.5 744.4 1271.5 745.5 1270.3 747.3 1268.5 748.5 1267.3 750.4 1265.5 751.5 1264.5 753.5 1262.7 754.9 1261.5 756.5 1260.2 758.5 1258.6 760 1257.5 761.5 1256.4 763.5 1255.1 765.5 1254 767.5 1252.9 769.5 1252 771.5 1251.2 773.5 1250.5 776.5 1249.7 778.5 1249.3 781.5 1248.8 784.5 1248.6 786.5 1248.5 789.5 1248.4 791.6 1248.5 794.5 1248.7 797.5 1249.1 800 1249.5 802.5 1250.1 804.5 1250.6 807 1251.5 809.5 1252.5 811.5 1253.4 813.5 1254.4 815.5 1255.5 817.2 1256.5 818.7 1257.5 820.5 1258.8 822.5 1260.5 823.5 1261.5 825.3 1263.5 826.5 1265 827.5 1266.5 828.7 1268.5 829.6 1270.5 830.5 1272.7 831.3 1275.5 831.6 1277.5 831.9 1280.5 831.9 1283.5 831.6 1286.5 831.2 1288.5 830.5 1291.1 829.7 1293.5 829 1295.5 828.1 1297.5 827.1 1299.5 826.1 1301.5 825 1303.5 823.7 1305.5 822.5 1307.3 821.5 1308.7 820 1310.5 818.5 1312 816.7 1313.5 815 1314.5 812.9 1315.5 810.5 1316.3 808.5 1316.8 805.5 1317.3 803.5 1317.6M832.8 1453.5 835.5 1453.1 838.5 1452.6 840.5 1452.2 843.4 1451.5 845.5 1451 847.5 1450.4 850.5 1449.6 852.5 1448.9 854.5 1448.3 856.7 1447.5 859.5 1446.5 861.5 1445.7 863.5 1444.9 865.5 1444.1 867.5 1443.3 869.5 1442.5 871.7 1441.5 873.9 1440.5 876.1 1439.5 878.2 1438.5 880.3 1437.5 882.3 1436.5 884.3 1435.5 886.2 1434.5 888 1433.5 889.8 1432.5 891.6 1431.5 893.5 1430.4 895.5 1429.2 897.5 1427.9 899.5 1426.6 901.1 1425.5 902.5 1424.5 904.5 1423.1 906.5 1421.6 907.9 1420.5 909.5 1419.2 911.5 1417.6 912.8 1416.5 914.5 1415 916.1 1413.5 917.5 1412.2 919.3 1410.5 920.5 1409.3 922.3 1407.5 923.5 1406.2 925.1 1404.5 926.5 1402.9 927.7 1401.5 929.4 1399.5 930.5 1398.1 931.7 1396.5 933.3 1394.5 934.5 1392.8 935.5 1391.4 936.9 1389.5 937.5 1388.6M639.5 1407.6 641.5 1409.4 642.7 1410.5 644.5 1412.1 646 1413.5 647.5 1414.8 649.4 1416.5 650.6 1417.5 652.5 1419.1 654.1 1420.5 655.5 1421.7 657.5 1423.3 659 1424.5 660.5 1425.7 662.5 1427.2 664.3 1428.5 665.7 1429.5 667.5 1430.8 669.5 1432.1 671.5 1433.4 673.2 1434.5 674.9 1435.5 676.6 1436.5 678.5 1437.6 680.5 1438.7 682.5 1439.7 684.5 1440.7 686.5 1441.7 688.5 1442.6 690.5 1443.5 692.8 1444.5 695.2 1445.5 697.5 1446.4 699.5 1447.2 701.5 1447.9 703.5 1448.7 705.8 1449.5 708.5 1450.4 710.5 1451.1 712.5 1451.7 714.9 1452.5 717.5 1453.3 718.3 1453.5" fill="none" stroke="#1a1a1a" stroke-width="0.6" stroke-opacity="0.75"/>
</g>
<circle cx="788.5" cy="1304.5" r="108.6" fill="none" stroke="#000" stroke-width="2.2"/><path d="M768.5 1197.4 L784 1180.9 Q788.5 1176.4 793 1180.9 L808.5 1197.4" fill="none" stroke="#000" stroke-width="2.2" stroke-linejoin="round"/><path d="M681.4 1282.5 C679.4 1276.5 668.4 1275.5 668.4 1286.5 L667.9 1321.5 C667.4 1335.5 678.4 1336.5 681.4 1330.5" fill="none" stroke="#000" stroke-width="2.2" stroke-linejoin="round"/><path d="M895.6 1282.5 C897.6 1276.5 908.6 1275.5 908.6 1286.5 L909.1 1321.5 C909.6 1335.5 898.6 1336.5 895.6 1330.5" fill="none" stroke="#000" stroke-width="2.2" stroke-linejoin="round"/>
<g fill="#111"><rect x="749.3" y="1194.8" width="2" height="2"/><rect x="825.1" y="1194.8" width="2" height="2"/><rect x="787.3" y="1193.3" width="2" height="2"/><rect x="713.4" y="1211.4" width="2" height="2"/><rect x="861" y="1211.4" width="2" height="2"/><rect x="685.4" y="1241.7" width="2" height="2"/><rect x="710.6" y="1246.8" width="2" height="2"/><rect x="736.8" y="1250.1" width="2" height="2"/><rect x="864.7" y="1246.4" width="2" height="2"/><rect x="889.4" y="1241.7" width="2" height="2"/><rect x="642.4" y="1278.6" width="2" height="2"/><rect x="700.9" y="1282.9" width="2" height="2"/><rect x="844.3" y="1281.9" width="2" height="2"/><rect x="873.5" y="1281.9" width="2" height="2"/><rect x="932" y="1278.6" width="2" height="2"/><rect x="703" y="1318" width="2" height="2"/><rect x="814.8" y="1310.5" width="2" height="2"/><rect x="843.2" y="1313" width="2" height="2"/><rect x="872.4" y="1316.3" width="2" height="2"/><rect x="671.9" y="1324.9" width="2" height="2"/><rect x="902.3" y="1323.8" width="2" height="2"/><rect x="763.2" y="1335.6" width="2" height="2"/><rect x="787.3" y="1334.1" width="2" height="2"/><rect x="813.1" y="1335.6" width="2" height="2"/><rect x="737.9" y="1339.5" width="2" height="2"/><rect x="837.8" y="1338.8" width="2" height="2"/><rect x="712.1" y="1347" width="2" height="2"/><rect x="863.6" y="1345.9" width="2" height="2"/><rect x="686.3" y="1357.5" width="2" height="2"/><rect x="888.5" y="1357.1" width="2" height="2"/><rect x="767.5" y="1358.8" width="2" height="2"/><rect x="787.3" y="1357.5" width="2" height="2"/><rect x="808.8" y="1357.8" width="2" height="2"/><rect x="746.7" y="1363.6" width="2" height="2"/><rect x="828.8" y="1362.9" width="2" height="2"/><rect x="664.3" y="1370" width="2" height="2"/><rect x="727.1" y="1371.5" width="2" height="2"/><rect x="847.7" y="1371.1" width="2" height="2"/><rect x="910" y="1370" width="2" height="2"/><rect x="709.5" y="1381.8" width="2" height="2"/><rect x="865.8" y="1381.2" width="2" height="2"/><rect x="757.9" y="1384.6" width="2" height="2"/><rect x="787.3" y="1380.8" width="2" height="2"/><rect x="817" y="1385" width="2" height="2"/><rect x="734.2" y="1398" width="2" height="2"/><rect x="840.6" y="1397.5" width="2" height="2"/><rect x="761.1" y="1404.4" width="2" height="2"/><rect x="787.3" y="1404" width="2" height="2"/><rect x="813.7" y="1404" width="2" height="2"/><rect x="749.9" y="1219.1" width="2" height="2"/><rect x="825.6" y="1220" width="2" height="2"/><rect x="762.6" y="1252.4" width="2" height="2"/><rect x="787.3" y="1252.9" width="2" height="2"/><rect x="813.3" y="1252.2" width="2" height="2"/><rect x="838.9" y="1249.2" width="2" height="2"/><rect x="731" y="1282.3" width="2" height="2"/><rect x="760" y="1282.3" width="2" height="2"/><rect x="815.2" y="1282.3" width="2" height="2"/><rect x="732.1" y="1313" width="2" height="2"/><rect x="760.4" y="1310.5" width="2" height="2"/><rect x="787.3" y="1309.8" width="2" height="2"/></g>
<text x="0" y="0" text-anchor="middle" font-family="'Liberation Sans',Arial,Helvetica,sans-serif" font-weight="bold" font-size="27.3" transform="translate(263.6 1137.4) scale(0.87 1)">PT</text>
<text x="0" y="0" text-anchor="middle" font-family="'Liberation Sans',Arial,Helvetica,sans-serif" font-weight="bold" font-size="29" transform="translate(789.5 1140) scale(0.86 1)">HC</text>
<rect x="954.8" y="1044" width="8" height="521.4" fill="url(#g272)" stroke="#666" stroke-width="0.6"/>
<g font-family="'Liberation Sans',Arial,Helvetica,sans-serif" fill="#3a3a3a" font-size="11.2" font-weight="bold">
<text x="0" y="0" transform="translate(966 1048.7) scale(0.82 1)">2.6</text>
<text x="0" y="0" transform="translate(966 1179.2) scale(0.82 1)">2.1</text>
<text x="0" y="0" transform="translate(966 1309.7) scale(0.82 1)">1.5</text>
<text x="0" y="0" transform="translate(966 1440.3) scale(0.82 1)">1</text>
<text x="0" y="0" transform="translate(966 1570.9) scale(0.82 1)">0.5</text>
</g>
<path d="M954.8 1044.8h2M962.8 1044.8h-2M954.8 1175.3h2M962.8 1175.3h-2M954.8 1305.8h2M962.8 1305.8h-2M954.8 1436.4h2M962.8 1436.4h-2M954.8 1567h2M962.8 1567h-2" stroke="#333" stroke-width="0.8"/>
<circle cx="1314" cy="1305.2" r="108.6" fill="none" stroke="#000" stroke-width="2.2"/><path d="M1294 1198.1 L1309.5 1181.6 Q1314 1177.1 1318.5 1181.6 L1334 1198.1" fill="none" stroke="#000" stroke-width="2.2" stroke-linejoin="round"/><path d="M1206.9 1283.2 C1204.9 1277.2 1193.9 1276.2 1193.9 1287.2 L1193.4 1322.2 C1192.9 1336.2 1203.9 1337.2 1206.9 1331.2" fill="none" stroke="#000" stroke-width="2.2" stroke-linejoin="round"/><path d="M1421.1 1283.2 C1423.1 1277.2 1434.1 1276.2 1434.1 1287.2 L1434.6 1322.2 C1435.1 1336.2 1424.1 1337.2 1421.1 1331.2" fill="none" stroke="#000" stroke-width="2.2" stroke-linejoin="round"/>
<g fill="#111"><rect x="1274.8" y="1195.5" width="2" height="2"/><rect x="1350.6" y="1195.5" width="2" height="2"/><rect x="1312.8" y="1194" width="2" height="2"/><rect x="1238.9" y="1212.1" width="2" height="2"/><rect x="1386.5" y="1212.1" width="2" height="2"/><rect x="1210.9" y="1242.4" width="2" height="2"/><rect x="1236.1" y="1247.5" width="2" height="2"/><rect x="1262.3" y="1250.8" width="2" height="2"/><rect x="1390.2" y="1247.1" width="2" height="2"/><rect x="1414.9" y="1242.4" width="2" height="2"/><rect x="1167.9" y="1279.3" width="2" height="2"/><rect x="1226.4" y="1283.6" width="2" height="2"/><rect x="1369.8" y="1282.6" width="2" height="2"/><rect x="1399" y="1282.6" width="2" height="2"/><rect x="1457.5" y="1279.3" width="2" height="2"/><rect x="1228.5" y="1318.7" width="2" height="2"/><rect x="1340.3" y="1311.2" width="2" height="2"/><rect x="1368.7" y="1313.7" width="2" height="2"/><rect x="1397.9" y="1317" width="2" height="2"/><rect x="1197.4" y="1325.6" width="2" height="2"/><rect x="1427.8" y="1324.5" width="2" height="2"/><rect x="1288.7" y="1336.3" width="2" height="2"/><rect x="1312.8" y="1334.8" width="2" height="2"/><rect x="1338.6" y="1336.3" width="2" height="2"/><rect x="1263.4" y="1340.2" width="2" height="2"/><rect x="1363.3" y="1339.5" width="2" height="2"/><rect x="1237.6" y="1347.7" width="2" height="2"/><rect x="1389.1" y="1346.6" width="2" height="2"/><rect x="1211.8" y="1358.2" width="2" height="2"/><rect x="1414" y="1357.8" width="2" height="2"/><rect x="1293" y="1359.5" width="2" height="2"/><rect x="1312.8" y="1358.2" width="2" height="2"/><rect x="1334.3" y="1358.5" width="2" height="2"/><rect x="1272.2" y="1364.3" width="2" height="2"/><rect x="1354.3" y="1363.6" width="2" height="2"/><rect x="1189.8" y="1370.7" width="2" height="2"/><rect x="1252.6" y="1372.2" width="2" height="2"/><rect x="1373.2" y="1371.8" width="2" height="2"/><rect x="1435.5" y="1370.7" width="2" height="2"/><rect x="1235" y="1382.5" width="2" height="2"/><rect x="1391.3" y="1381.9" width="2" height="2"/><rect x="1283.4" y="1385.3" width="2" height="2"/><rect x="1312.8" y="1381.5" width="2" height="2"/><rect x="1342.5" y="1385.7" width="2" height="2"/><rect x="1259.7" y="1398.7" width="2" height="2"/><rect x="1366.1" y="1398.2" width="2" height="2"/><rect x="1286.6" y="1405.1" width="2" height="2"/><rect x="1312.8" y="1404.7" width="2" height="2"/><rect x="1339.2" y="1404.7" width="2" height="2"/></g>
<g fill="#e3120f" stroke="#8a0505" stroke-width="1"><circle cx="1276.4" cy="1220.8" r="5.4"/><circle cx="1352.1" cy="1221.7" r="5.4"/><circle cx="1289.1" cy="1254.1" r="5.4"/><circle cx="1313.8" cy="1254.6" r="5.4"/><circle cx="1339.8" cy="1253.9" r="5.4"/><circle cx="1365.4" cy="1250.9" r="5.4"/><circle cx="1257.5" cy="1284" r="5.4"/><circle cx="1286.5" cy="1284" r="5.4"/><circle cx="1341.7" cy="1284" r="5.4"/><circle cx="1258.6" cy="1314.7" r="5.4"/><circle cx="1286.9" cy="1312.2" r="5.4"/><circle cx="1313.8" cy="1311.5" r="5.4"/></g>
<text x="0" y="0" text-anchor="middle" font-family="'Liberation Sans',Arial,Helvetica,sans-serif" font-weight="bold" font-size="21" transform="translate(1313.8 1154.5) scale(1.014 1)">group (p&lt;0.05) param</text></svg></body></html>
